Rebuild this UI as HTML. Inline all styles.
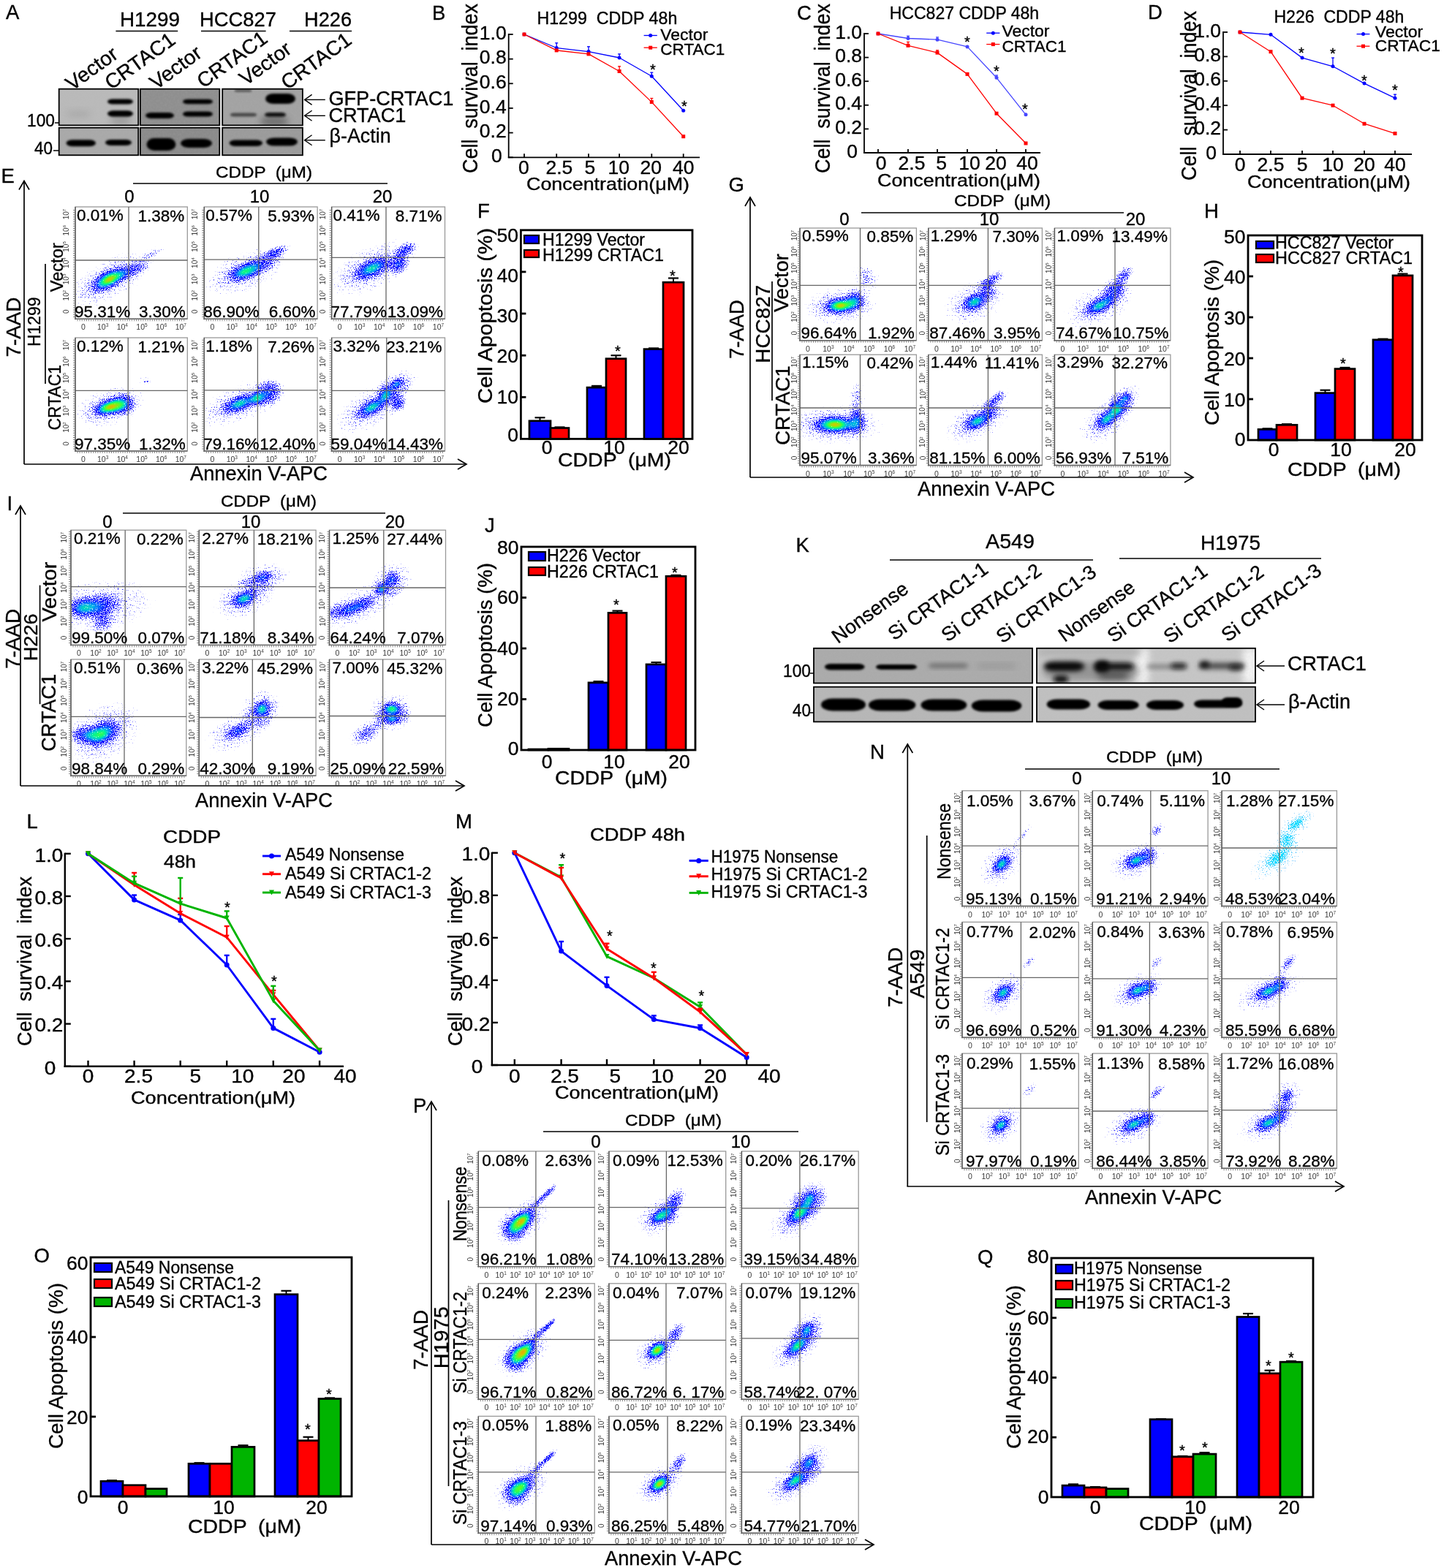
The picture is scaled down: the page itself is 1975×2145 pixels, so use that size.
<!DOCTYPE html>
<html><head><meta charset="utf-8"><title>Figure</title>
<style>html,body{margin:0;padding:0;background:#fff;}svg{display:block;}text{stroke:#000;stroke-width:.35px;}text[fill]{stroke:none;}</style></head>
<body><svg xmlns="http://www.w3.org/2000/svg" width="1975" height="2145" viewBox="0 0 1975 2145" font-family="'Liberation Sans', Arial, sans-serif">
<defs><filter id="spk" x="-60%" y="-60%" width="220%" height="220%" color-interpolation-filters="sRGB">
<feGaussianBlur in="SourceAlpha" stdDeviation="1.2" result="d"/>
<feTurbulence type="fractalNoise" baseFrequency="0.8" numOctaves="1" seed="5" result="n"/>
<feColorMatrix in="n" type="matrix" values="0 0 0 0 0 0 0 0 0 0 0 0 0 0 0 1.6 0 0 0 -0.3" result="na"/>
<feComposite in="d" in2="na" operator="arithmetic" k2="1.15" k3="-1" k4="0" result="m"/>
<feComponentTransfer in="m" result="mm"><feFuncA type="linear" slope="5" intercept="0"/></feComponentTransfer>
<feColorMatrix in="d" type="matrix" values="0 0 0 1 0 0 0 0 1 0 0 0 0 1 0 0 0 0 0 1" result="g"/>
<feComponentTransfer in="g" result="c">
<feFuncR type="table" tableValues="0.55 0.55 0.5 0.42 0.32 0.22 0.12 0.04 0 0 0 0 0 0 0 0 0 0.3 0.8 1 1"/>
<feFuncG type="table" tableValues="0.55 0.55 0.5 0.42 0.32 0.22 0.12 0.04 0 0 0 0 0 0.15 0.4 0.7 0.95 1 0.8 0.55 0.4"/>
<feFuncB type="table" tableValues="1 1 1 1 1 1 1 1 1 1 1 1 1 1 1 0.9 0.6 0.2 0 0 0"/>
</feComponentTransfer>
<feComposite in="c" in2="mm" operator="in"/>
</filter><filter id="spkL" x="-60%" y="-60%" width="220%" height="220%" color-interpolation-filters="sRGB">
<feGaussianBlur in="SourceAlpha" stdDeviation="1.2" result="d"/>
<feTurbulence type="fractalNoise" baseFrequency="0.8" numOctaves="1" seed="9" result="n"/>
<feColorMatrix in="n" type="matrix" values="0 0 0 0 0 0 0 0 0 0 0 0 0 0 0 1.6 0 0 0 -0.3" result="na"/>
<feComposite in="d" in2="na" operator="arithmetic" k2="1.15" k3="-1" k4="0" result="m"/>
<feComponentTransfer in="m" result="mm"><feFuncA type="linear" slope="5" intercept="0"/></feComponentTransfer>
<feColorMatrix in="d" type="matrix" values="0 0 0 1 0 0 0 0 1 0 0 0 0 1 0 0 0 0 0 1" result="g"/>
<feComponentTransfer in="g" result="c">
<feFuncR type="table" tableValues="0.55 0.55 0.5 0.4 0.3 0.2 0.1 0 0 0 0 0 0 0 0 0 0 0.3 0.8 1 1"/>
<feFuncG type="table" tableValues="0.75 0.75 0.74 0.72 0.7 0.7 0.72 0.74 0.76 0.78 0.8 0.82 0.84 0.86 0.88 0.9 0.95 1 0.8 0.55 0.4"/>
<feFuncB type="table" tableValues="1 1 1 1 1 1 1 1 1 1 1 1 1 1 1 0.9 0.6 0.2 0 0 0"/>
</feComponentTransfer>
<feComposite in="c" in2="mm" operator="in"/>
</filter><radialGradient id="g0"><stop offset="0" stop-color="#000" stop-opacity="0.420"/><stop offset="0.15" stop-color="#000" stop-opacity="0.399"/><stop offset="0.35" stop-color="#000" stop-opacity="0.336"/><stop offset="0.55" stop-color="#000" stop-opacity="0.244"/><stop offset="0.72" stop-color="#000" stop-opacity="0.151"/><stop offset="0.88" stop-color="#000" stop-opacity="0.071"/><stop offset="1.0" stop-color="#000" stop-opacity="0.000"/></radialGradient><radialGradient id="gh"><stop offset="0" stop-color="#000" stop-opacity="0.000"/><stop offset="0.45" stop-color="#000" stop-opacity="0.040"/><stop offset="0.62" stop-color="#000" stop-opacity="0.260"/><stop offset="0.8" stop-color="#000" stop-opacity="0.200"/><stop offset="1.0" stop-color="#000" stop-opacity="0.000"/></radialGradient><radialGradient id="g1"><stop offset="0" stop-color="#000" stop-opacity="0.550"/><stop offset="0.15" stop-color="#000" stop-opacity="0.522"/><stop offset="0.35" stop-color="#000" stop-opacity="0.440"/><stop offset="0.55" stop-color="#000" stop-opacity="0.319"/><stop offset="0.72" stop-color="#000" stop-opacity="0.198"/><stop offset="0.88" stop-color="#000" stop-opacity="0.094"/><stop offset="1.0" stop-color="#000" stop-opacity="0.000"/></radialGradient><radialGradient id="g2"><stop offset="0" stop-color="#000" stop-opacity="0.680"/><stop offset="0.15" stop-color="#000" stop-opacity="0.646"/><stop offset="0.35" stop-color="#000" stop-opacity="0.544"/><stop offset="0.55" stop-color="#000" stop-opacity="0.394"/><stop offset="0.72" stop-color="#000" stop-opacity="0.245"/><stop offset="0.88" stop-color="#000" stop-opacity="0.116"/><stop offset="1.0" stop-color="#000" stop-opacity="0.000"/></radialGradient><radialGradient id="g3"><stop offset="0" stop-color="#000" stop-opacity="0.800"/><stop offset="0.15" stop-color="#000" stop-opacity="0.760"/><stop offset="0.35" stop-color="#000" stop-opacity="0.640"/><stop offset="0.55" stop-color="#000" stop-opacity="0.464"/><stop offset="0.72" stop-color="#000" stop-opacity="0.288"/><stop offset="0.88" stop-color="#000" stop-opacity="0.136"/><stop offset="1.0" stop-color="#000" stop-opacity="0.000"/></radialGradient><radialGradient id="g4"><stop offset="0" stop-color="#000" stop-opacity="0.920"/><stop offset="0.15" stop-color="#000" stop-opacity="0.874"/><stop offset="0.35" stop-color="#000" stop-opacity="0.736"/><stop offset="0.55" stop-color="#000" stop-opacity="0.534"/><stop offset="0.72" stop-color="#000" stop-opacity="0.331"/><stop offset="0.88" stop-color="#000" stop-opacity="0.156"/><stop offset="1.0" stop-color="#000" stop-opacity="0.000"/></radialGradient><filter id="b1" x="-50%" y="-50%" width="200%" height="200%"><feGaussianBlur stdDeviation="1.2"/></filter><filter id="b2" x="-50%" y="-50%" width="200%" height="200%"><feGaussianBlur stdDeviation="2.2"/></filter><filter id="b3" x="-50%" y="-50%" width="200%" height="200%"><feGaussianBlur stdDeviation="3.5"/></filter><filter id="bb" x="-30%" y="-80%" width="160%" height="260%"><feGaussianBlur stdDeviation="1.6"/></filter><filter id="bb2" x="-30%" y="-80%" width="160%" height="260%"><feGaussianBlur stdDeviation="3"/></filter><filter id="bb3" x="-50%" y="-80%" width="200%" height="260%"><feGaussianBlur stdDeviation="5"/></filter><filter id="noise" x="0" y="0" width="100%" height="100%"><feTurbulence type="fractalNoise" baseFrequency="0.35" numOctaves="2" seed="3"/><feColorMatrix type="matrix" values="0 0 0 0 0.5  0 0 0 0 0.5  0 0 0 0 0.5  0 0 0 0.9 -0.3"/><feComposite in2="SourceGraphic" operator="in"/></filter><clipPath id="fc1"><rect x="104" y="284" width="151.3" height="151.3"/></clipPath><clipPath id="fc2"><rect x="280.3" y="284" width="152.8" height="151.3"/></clipPath><clipPath id="fc3"><rect x="454.6" y="284" width="152.9" height="151.3"/></clipPath><clipPath id="fc4"><rect x="104" y="463" width="151.3" height="153"/></clipPath><clipPath id="fc5"><rect x="280.3" y="463" width="152.8" height="153"/></clipPath><clipPath id="fc6"><rect x="454.6" y="463" width="152.9" height="153"/></clipPath><clipPath id="fc7"><rect x="1095" y="313" width="157.4" height="151.7"/></clipPath><clipPath id="fc8"><rect x="1270.8" y="313" width="153.6" height="151.7"/></clipPath><clipPath id="fc9"><rect x="1443.4" y="313" width="156.5" height="151.7"/></clipPath><clipPath id="fc10"><rect x="1095" y="486.2" width="157.4" height="149.3"/></clipPath><clipPath id="fc11"><rect x="1270.8" y="486.2" width="153.6" height="149.3"/></clipPath><clipPath id="fc12"><rect x="1443.4" y="486.2" width="156.5" height="149.3"/></clipPath><clipPath id="fc13"><rect x="98" y="726.2" width="155.8" height="155.2"/></clipPath><clipPath id="fc14"><rect x="273.3" y="726.2" width="157.8" height="155.2"/></clipPath><clipPath id="fc15"><rect x="451.5" y="726.2" width="157" height="155.2"/></clipPath><clipPath id="fc16"><rect x="98" y="903" width="155.8" height="157.3"/></clipPath><clipPath id="fc17"><rect x="273.3" y="903" width="157.8" height="157.3"/></clipPath><clipPath id="fc18"><rect x="451.5" y="903" width="157" height="157.3"/></clipPath><clipPath id="fc19"><rect x="1317" y="1082.7" width="157.3" height="155.8"/></clipPath><clipPath id="fc20"><rect x="1495.3" y="1082.7" width="155.8" height="155.8"/></clipPath><clipPath id="fc21"><rect x="1672.1" y="1082.7" width="155.3" height="155.8"/></clipPath><clipPath id="fc22"><rect x="1317" y="1262.4" width="157.3" height="155.8"/></clipPath><clipPath id="fc23"><rect x="1495.3" y="1262.4" width="155.8" height="155.8"/></clipPath><clipPath id="fc24"><rect x="1672.1" y="1262.4" width="155.3" height="155.8"/></clipPath><clipPath id="fc25"><rect x="1317" y="1442.1" width="157.3" height="155.2"/></clipPath><clipPath id="fc26"><rect x="1495.3" y="1442.1" width="155.8" height="155.2"/></clipPath><clipPath id="fc27"><rect x="1672.1" y="1442.1" width="155.3" height="155.2"/></clipPath><clipPath id="fc28"><rect x="655.3" y="1575.9" width="156.9" height="155.7"/></clipPath><clipPath id="fc29"><rect x="833.9" y="1575.9" width="157.8" height="155.7"/></clipPath><clipPath id="fc30"><rect x="1015.4" y="1575.9" width="157.8" height="155.7"/></clipPath><clipPath id="fc31"><rect x="655.3" y="1756.8" width="156.9" height="156.4"/></clipPath><clipPath id="fc32"><rect x="833.9" y="1756.8" width="157.8" height="156.4"/></clipPath><clipPath id="fc33"><rect x="1015.4" y="1756.8" width="157.8" height="156.4"/></clipPath><clipPath id="fc34"><rect x="655.3" y="1938.4" width="156.9" height="157.8"/></clipPath><clipPath id="fc35"><rect x="833.9" y="1938.4" width="157.8" height="157.8"/></clipPath><clipPath id="fc36"><rect x="1015.4" y="1938.4" width="157.8" height="157.8"/></clipPath><clipPath id="cA1"><rect x="80.7" y="121.7" width="108.5" height="49.7"/></clipPath><clipPath id="cA2"><rect x="191.8" y="121.7" width="108.5" height="49.7"/></clipPath><clipPath id="cA3"><rect x="304.2" y="121.7" width="109.7" height="49.7"/></clipPath><clipPath id="cA4"><rect x="80.7" y="174.7" width="108.5" height="37.6"/></clipPath><clipPath id="cA5"><rect x="191.8" y="174.7" width="108.5" height="37.6"/></clipPath><clipPath id="cA6"><rect x="304.2" y="174.7" width="109.7" height="37.6"/></clipPath><clipPath id="cK1"><rect x="1113" y="886.8" width="299" height="47.7"/></clipPath><clipPath id="cK2"><rect x="1418" y="886.8" width="299" height="47.7"/></clipPath><clipPath id="cK3"><rect x="1113" y="939.7" width="299" height="47.7"/></clipPath><clipPath id="cK4"><rect x="1418" y="939.7" width="299" height="47.7"/></clipPath></defs>
<rect width="1975" height="2145" fill="#fff"/>
<text x="8" y="26.2" font-size="27.5">A</text>
<text x="591" y="27" font-size="27.5">B</text>
<text x="1090" y="27" font-size="27.5">C</text>
<text x="1570" y="25.5" font-size="27.5">D</text>
<text x="1.5" y="250.4" font-size="27.5">E</text>
<text x="653" y="298.3" font-size="27.5">F</text>
<text x="996.5" y="261.7" font-size="27.5">G</text>
<text x="1647" y="297.5" font-size="27.5">H</text>
<text x="9.5" y="697.5" font-size="27.5">I</text>
<text x="663" y="728" font-size="27.5">J</text>
<text x="1088.5" y="754.9" font-size="27.5">K</text>
<text x="36.5" y="1132.5" font-size="27.5">L</text>
<text x="623" y="1133" font-size="27.5">M</text>
<text x="1190" y="1038" font-size="27.5">N</text>
<text x="46.5" y="1727" font-size="27.5">O</text>
<text x="565" y="1522" font-size="27.5">P</text>
<text x="1337" y="1728.5" font-size="27.5">Q</text>
<line x1="695.7" y1="46" x2="695.7" y2="216.2" stroke="#000" stroke-width="1.8"/>
<line x1="694.8" y1="215.3" x2="957" y2="215.3" stroke="#000" stroke-width="1.8"/>
<line x1="695.7" y1="215.3" x2="701.7" y2="215.3" stroke="#000" stroke-width="1.8"/>
<text x="686.7" y="221.9" font-size="26.5" text-anchor="end">0</text>
<line x1="695.7" y1="181.6" x2="701.7" y2="181.6" stroke="#000" stroke-width="1.8"/>
<text x="692.7" y="188.2" font-size="26.5" text-anchor="end">0.2</text>
<line x1="695.7" y1="148" x2="701.7" y2="148" stroke="#000" stroke-width="1.8"/>
<text x="692.7" y="154.6" font-size="26.5" text-anchor="end">0.4</text>
<line x1="695.7" y1="114.3" x2="701.7" y2="114.3" stroke="#000" stroke-width="1.8"/>
<text x="692.7" y="120.9" font-size="26.5" text-anchor="end">0.6</text>
<line x1="695.7" y1="80.7" x2="701.7" y2="80.7" stroke="#000" stroke-width="1.8"/>
<text x="692.7" y="87.3" font-size="26.5" text-anchor="end">0.8</text>
<line x1="695.7" y1="47" x2="701.7" y2="47" stroke="#000" stroke-width="1.8"/>
<text x="692.7" y="53.6" font-size="26.5" text-anchor="end">1.0</text>
<line x1="717" y1="215.3" x2="717" y2="210.3" stroke="#000" stroke-width="1.8"/>
<line x1="761.2" y1="215.3" x2="761.2" y2="210.3" stroke="#000" stroke-width="1.8"/>
<line x1="805" y1="215.3" x2="805" y2="210.3" stroke="#000" stroke-width="1.8"/>
<line x1="847.1" y1="215.3" x2="847.1" y2="210.3" stroke="#000" stroke-width="1.8"/>
<line x1="891.3" y1="215.3" x2="891.3" y2="210.3" stroke="#000" stroke-width="1.8"/>
<line x1="934.7" y1="215.3" x2="934.7" y2="210.3" stroke="#000" stroke-width="1.8"/>
<text x="716.3" y="237.7" font-size="26.5" text-anchor="middle">0</text>
<text x="764.9" y="237.7" font-size="26.5" text-anchor="middle">2.5</text>
<text x="806.9" y="237.7" font-size="26.5" text-anchor="middle">5</text>
<text x="846.3" y="237.7" font-size="26.5" text-anchor="middle">10</text>
<text x="890.2" y="237.7" font-size="26.5" text-anchor="middle">20</text>
<text x="934.8" y="237.7" font-size="26.5" text-anchor="middle">40</text>
<text x="720" y="260" font-size="24" textLength="223" lengthAdjust="spacingAndGlyphs">Concentration(μM)</text>
<text x="653" y="121" font-size="29" text-anchor="middle" transform="rotate(-90 653 121)" textLength="232" lengthAdjust="spacingAndGlyphs" xml:space="preserve" style="white-space:pre">Cell  survival  index</text>
<polyline points="717,47 761.2,65.5 805,70.6 847.1,79 891.3,104.2 934.7,151.3" fill="none" stroke="#0000ff" stroke-width="1.3" stroke-linejoin="round"/>
<circle cx="717" cy="47" r="2.5" fill="#0000ff"/>
<line x1="761.2" y1="65.5" x2="761.2" y2="58.8" stroke="#0000ff" stroke-width="1.3"/>
<line x1="759.2" y1="58.8" x2="763.2" y2="58.8" stroke="#0000ff" stroke-width="1.3"/>
<circle cx="761.2" cy="65.5" r="2.5" fill="#0000ff"/>
<line x1="805" y1="70.6" x2="805" y2="63.8" stroke="#0000ff" stroke-width="1.3"/>
<line x1="803" y1="63.8" x2="807" y2="63.8" stroke="#0000ff" stroke-width="1.3"/>
<circle cx="805" cy="70.6" r="2.5" fill="#0000ff"/>
<line x1="847.1" y1="79" x2="847.1" y2="73.9" stroke="#0000ff" stroke-width="1.3"/>
<line x1="845.1" y1="73.9" x2="849.1" y2="73.9" stroke="#0000ff" stroke-width="1.3"/>
<circle cx="847.1" cy="79" r="2.5" fill="#0000ff"/>
<line x1="891.3" y1="104.2" x2="891.3" y2="99.2" stroke="#0000ff" stroke-width="1.3"/>
<line x1="889.3" y1="99.2" x2="893.3" y2="99.2" stroke="#0000ff" stroke-width="1.3"/>
<circle cx="891.3" cy="104.2" r="2.5" fill="#0000ff"/>
<circle cx="934.7" cy="151.3" r="2.5" fill="#0000ff"/>
<polyline points="717,47 761.2,68.9 805,73.9 847.1,97.5 891.3,139.6 934.7,186.7" fill="none" stroke="#ff0000" stroke-width="1.3" stroke-linejoin="round"/>
<rect x="714.5" y="44.5" width="5" height="5" fill="#ff0000"/>
<rect x="758.7" y="66.4" width="5" height="5" fill="#ff0000"/>
<rect x="802.5" y="71.4" width="5" height="5" fill="#ff0000"/>
<line x1="847.1" y1="97.5" x2="847.1" y2="90.8" stroke="#ff0000" stroke-width="1.3"/>
<line x1="845.1" y1="90.8" x2="849.1" y2="90.8" stroke="#ff0000" stroke-width="1.3"/>
<rect x="844.6" y="95" width="5" height="5" fill="#ff0000"/>
<line x1="891.3" y1="139.6" x2="891.3" y2="134.5" stroke="#ff0000" stroke-width="1.3"/>
<line x1="889.3" y1="134.5" x2="893.3" y2="134.5" stroke="#ff0000" stroke-width="1.3"/>
<rect x="888.8" y="137.1" width="5" height="5" fill="#ff0000"/>
<rect x="932.2" y="184.2" width="5" height="5" fill="#ff0000"/>
<text x="893" y="101.5" font-size="20" text-anchor="middle">*</text>
<text x="936" y="151.5" font-size="20" text-anchor="middle">*</text>
<line x1="880.6" y1="48.5" x2="898.8" y2="48.5" stroke="#0000ff" stroke-width="1.3"/>
<circle cx="889.7" cy="48.5" r="2.5" fill="#0000ff"/>
<text x="903.3" y="54.5" font-size="22" textLength="65" lengthAdjust="spacingAndGlyphs">Vector</text>
<line x1="880.6" y1="65.2" x2="898.8" y2="65.2" stroke="#ff0000" stroke-width="1.3"/>
<rect x="887.2" y="62.7" width="5" height="5" fill="#ff0000"/>
<text x="903.3" y="75" font-size="22" textLength="88" lengthAdjust="spacingAndGlyphs">CRTAC1</text>
<text x="734.4" y="33" font-size="24" textLength="192" lengthAdjust="spacingAndGlyphs" xml:space="preserve" style="white-space:pre">H1299  CDDP 48h</text>
<line x1="1182" y1="45" x2="1182" y2="209.9" stroke="#000" stroke-width="1.8"/>
<line x1="1181.1" y1="209" x2="1423" y2="209" stroke="#000" stroke-width="1.8"/>
<line x1="1182" y1="209" x2="1188" y2="209" stroke="#000" stroke-width="1.8"/>
<text x="1173" y="215.6" font-size="26.5" text-anchor="end">0</text>
<line x1="1182" y1="176.4" x2="1188" y2="176.4" stroke="#000" stroke-width="1.8"/>
<text x="1179" y="183" font-size="26.5" text-anchor="end">0.2</text>
<line x1="1182" y1="143.8" x2="1188" y2="143.8" stroke="#000" stroke-width="1.8"/>
<text x="1179" y="150.4" font-size="26.5" text-anchor="end">0.4</text>
<line x1="1182" y1="111.2" x2="1188" y2="111.2" stroke="#000" stroke-width="1.8"/>
<text x="1179" y="117.8" font-size="26.5" text-anchor="end">0.6</text>
<line x1="1182" y1="78.6" x2="1188" y2="78.6" stroke="#000" stroke-width="1.8"/>
<text x="1179" y="85.2" font-size="26.5" text-anchor="end">0.8</text>
<line x1="1182" y1="46" x2="1188" y2="46" stroke="#000" stroke-width="1.8"/>
<text x="1179" y="52.6" font-size="26.5" text-anchor="end">1.0</text>
<line x1="1201" y1="209" x2="1201" y2="204" stroke="#000" stroke-width="1.8"/>
<line x1="1242" y1="209" x2="1242" y2="204" stroke="#000" stroke-width="1.8"/>
<line x1="1282" y1="209" x2="1282" y2="204" stroke="#000" stroke-width="1.8"/>
<line x1="1323" y1="209" x2="1323" y2="204" stroke="#000" stroke-width="1.8"/>
<line x1="1363" y1="209" x2="1363" y2="204" stroke="#000" stroke-width="1.8"/>
<line x1="1403" y1="209" x2="1403" y2="204" stroke="#000" stroke-width="1.8"/>
<text x="1205" y="232" font-size="26.5" text-anchor="middle">0</text>
<text x="1247" y="232" font-size="26.5" text-anchor="middle">2.5</text>
<text x="1287.5" y="232" font-size="26.5" text-anchor="middle">5</text>
<text x="1326" y="232" font-size="26.5" text-anchor="middle">10</text>
<text x="1362" y="232" font-size="26.5" text-anchor="middle">20</text>
<text x="1405" y="232" font-size="26.5" text-anchor="middle">40</text>
<text x="1200" y="255" font-size="24" textLength="223" lengthAdjust="spacingAndGlyphs">Concentration(μM)</text>
<text x="1135" y="121" font-size="29" text-anchor="middle" transform="rotate(-90 1135 121)" textLength="232" lengthAdjust="spacingAndGlyphs" xml:space="preserve" style="white-space:pre">Cell  survival  index</text>
<polyline points="1201,46 1242,52.5 1282,54.2 1323,63.9 1363,106.3 1403,156.8" fill="none" stroke="#4646ff" stroke-width="1.3" stroke-linejoin="round"/>
<circle cx="1201" cy="46" r="2.5" fill="#4646ff"/>
<line x1="1242" y1="52.5" x2="1242" y2="49.3" stroke="#4646ff" stroke-width="1.3"/>
<line x1="1240" y1="49.3" x2="1244" y2="49.3" stroke="#4646ff" stroke-width="1.3"/>
<circle cx="1242" cy="52.5" r="2.5" fill="#4646ff"/>
<line x1="1282" y1="54.2" x2="1282" y2="50.9" stroke="#4646ff" stroke-width="1.3"/>
<line x1="1280" y1="50.9" x2="1284" y2="50.9" stroke="#4646ff" stroke-width="1.3"/>
<circle cx="1282" cy="54.2" r="2.5" fill="#4646ff"/>
<circle cx="1323" cy="63.9" r="2.5" fill="#4646ff"/>
<line x1="1363" y1="106.3" x2="1363" y2="103" stroke="#4646ff" stroke-width="1.3"/>
<line x1="1361" y1="103" x2="1365" y2="103" stroke="#4646ff" stroke-width="1.3"/>
<circle cx="1363" cy="106.3" r="2.5" fill="#4646ff"/>
<circle cx="1403" cy="156.8" r="2.5" fill="#4646ff"/>
<polyline points="1201,46 1242,62.3 1282,72.1 1323,101.4 1363,155.2 1403,196" fill="none" stroke="#ff0000" stroke-width="1.3" stroke-linejoin="round"/>
<rect x="1198.5" y="43.5" width="5" height="5" fill="#ff0000"/>
<line x1="1242" y1="62.3" x2="1242" y2="57.4" stroke="#ff0000" stroke-width="1.3"/>
<line x1="1240" y1="57.4" x2="1244" y2="57.4" stroke="#ff0000" stroke-width="1.3"/>
<rect x="1239.5" y="59.8" width="5" height="5" fill="#ff0000"/>
<line x1="1282" y1="72.1" x2="1282" y2="68.8" stroke="#ff0000" stroke-width="1.3"/>
<line x1="1280" y1="68.8" x2="1284" y2="68.8" stroke="#ff0000" stroke-width="1.3"/>
<rect x="1279.5" y="69.6" width="5" height="5" fill="#ff0000"/>
<rect x="1320.5" y="98.9" width="5" height="5" fill="#ff0000"/>
<rect x="1360.5" y="152.7" width="5" height="5" fill="#ff0000"/>
<rect x="1400.5" y="193.5" width="5" height="5" fill="#ff0000"/>
<text x="1323" y="63.5" font-size="20" text-anchor="middle">*</text>
<text x="1363" y="103.5" font-size="20" text-anchor="middle">*</text>
<text x="1402" y="155.5" font-size="20" text-anchor="middle">*</text>
<line x1="1349.2" y1="45.2" x2="1367.4" y2="45.2" stroke="#0000ff" stroke-width="1.3"/>
<circle cx="1358.3" cy="45.2" r="2.5" fill="#0000ff"/>
<text x="1370.5" y="50" font-size="22" textLength="65" lengthAdjust="spacingAndGlyphs">Vector</text>
<line x1="1349.2" y1="60.6" x2="1367.4" y2="60.6" stroke="#ff0000" stroke-width="1.3"/>
<rect x="1355.8" y="58.1" width="5" height="5" fill="#ff0000"/>
<text x="1370.5" y="70.5" font-size="22" textLength="88" lengthAdjust="spacingAndGlyphs">CRTAC1</text>
<text x="1216.7" y="26.1" font-size="24" textLength="204.5" lengthAdjust="spacingAndGlyphs">HCC827 CDDP 48h</text>
<line x1="1673" y1="43" x2="1673" y2="211.9" stroke="#000" stroke-width="1.8"/>
<line x1="1672.1" y1="211" x2="1931" y2="211" stroke="#000" stroke-width="1.8"/>
<line x1="1673" y1="211" x2="1679" y2="211" stroke="#000" stroke-width="1.8"/>
<text x="1664" y="217.6" font-size="26.5" text-anchor="end">0</text>
<line x1="1673" y1="177.6" x2="1679" y2="177.6" stroke="#000" stroke-width="1.8"/>
<text x="1670" y="184.2" font-size="26.5" text-anchor="end">0.2</text>
<line x1="1673" y1="144.2" x2="1679" y2="144.2" stroke="#000" stroke-width="1.8"/>
<text x="1670" y="150.8" font-size="26.5" text-anchor="end">0.4</text>
<line x1="1673" y1="110.8" x2="1679" y2="110.8" stroke="#000" stroke-width="1.8"/>
<text x="1670" y="117.4" font-size="26.5" text-anchor="end">0.6</text>
<line x1="1673" y1="77.4" x2="1679" y2="77.4" stroke="#000" stroke-width="1.8"/>
<text x="1670" y="84" font-size="26.5" text-anchor="end">0.8</text>
<line x1="1673" y1="44" x2="1679" y2="44" stroke="#000" stroke-width="1.8"/>
<text x="1670" y="50.6" font-size="26.5" text-anchor="end">1.0</text>
<line x1="1696" y1="211" x2="1696" y2="206" stroke="#000" stroke-width="1.8"/>
<line x1="1738" y1="211" x2="1738" y2="206" stroke="#000" stroke-width="1.8"/>
<line x1="1781" y1="211" x2="1781" y2="206" stroke="#000" stroke-width="1.8"/>
<line x1="1823" y1="211" x2="1823" y2="206" stroke="#000" stroke-width="1.8"/>
<line x1="1866" y1="211" x2="1866" y2="206" stroke="#000" stroke-width="1.8"/>
<line x1="1908" y1="211" x2="1908" y2="206" stroke="#000" stroke-width="1.8"/>
<text x="1696" y="234" font-size="26.5" text-anchor="middle">0</text>
<text x="1738" y="234" font-size="26.5" text-anchor="middle">2.5</text>
<text x="1781" y="234" font-size="26.5" text-anchor="middle">5</text>
<text x="1823" y="234" font-size="26.5" text-anchor="middle">10</text>
<text x="1866" y="234" font-size="26.5" text-anchor="middle">20</text>
<text x="1908" y="234" font-size="26.5" text-anchor="middle">40</text>
<text x="1706" y="257" font-size="24" textLength="223" lengthAdjust="spacingAndGlyphs">Concentration(μM)</text>
<text x="1636" y="131" font-size="29" text-anchor="middle" transform="rotate(-90 1636 131)" textLength="232" lengthAdjust="spacingAndGlyphs" xml:space="preserve" style="white-space:pre">Cell  survival  index</text>
<polyline points="1696,44 1738,47.3 1781,79.1 1823,90.8 1866,114.1 1908,134.2" fill="none" stroke="#0000ff" stroke-width="1.3" stroke-linejoin="round"/>
<circle cx="1696" cy="44" r="2.5" fill="#0000ff"/>
<circle cx="1738" cy="47.3" r="2.5" fill="#0000ff"/>
<circle cx="1781" cy="79.1" r="2.5" fill="#0000ff"/>
<line x1="1823" y1="90.8" x2="1823" y2="79.1" stroke="#0000ff" stroke-width="1.3"/>
<line x1="1821" y1="79.1" x2="1825" y2="79.1" stroke="#0000ff" stroke-width="1.3"/>
<circle cx="1823" cy="90.8" r="2.5" fill="#0000ff"/>
<circle cx="1866" cy="114.1" r="2.5" fill="#0000ff"/>
<line x1="1908" y1="134.2" x2="1908" y2="129.2" stroke="#0000ff" stroke-width="1.3"/>
<line x1="1906" y1="129.2" x2="1910" y2="129.2" stroke="#0000ff" stroke-width="1.3"/>
<circle cx="1908" cy="134.2" r="2.5" fill="#0000ff"/>
<polyline points="1696,44 1738,70.7 1781,134.2 1823,144.2 1866,169.2 1908,182.6" fill="none" stroke="#ff0000" stroke-width="1.3" stroke-linejoin="round"/>
<rect x="1693.5" y="41.5" width="5" height="5" fill="#ff0000"/>
<rect x="1735.5" y="68.2" width="5" height="5" fill="#ff0000"/>
<rect x="1778.5" y="131.7" width="5" height="5" fill="#ff0000"/>
<rect x="1820.5" y="141.7" width="5" height="5" fill="#ff0000"/>
<rect x="1863.5" y="166.8" width="5" height="5" fill="#ff0000"/>
<rect x="1905.5" y="180.1" width="5" height="5" fill="#ff0000"/>
<text x="1780" y="78.5" font-size="20" text-anchor="middle">*</text>
<text x="1823" y="79.5" font-size="20" text-anchor="middle">*</text>
<text x="1866" y="116.5" font-size="20" text-anchor="middle">*</text>
<text x="1908" y="129.5" font-size="20" text-anchor="middle">*</text>
<line x1="1855.5" y1="46.6" x2="1873.4" y2="46.6" stroke="#0000ff" stroke-width="1.3"/>
<circle cx="1864.5" cy="46.6" r="2.5" fill="#0000ff"/>
<text x="1880.8" y="50.6" font-size="22" textLength="65.5" lengthAdjust="spacingAndGlyphs">Vector</text>
<line x1="1855.5" y1="63.2" x2="1873.4" y2="63.2" stroke="#ff0000" stroke-width="1.3"/>
<rect x="1862" y="60.7" width="5" height="5" fill="#ff0000"/>
<text x="1880.8" y="70" font-size="22" textLength="89" lengthAdjust="spacingAndGlyphs">CRTAC1</text>
<text x="1742.4" y="30.5" font-size="24" textLength="178" lengthAdjust="spacingAndGlyphs" xml:space="preserve" style="white-space:pre">H226  CDDP 48h</text>
<line x1="88.8" y1="1166.8" x2="88.8" y2="1460" stroke="#000" stroke-width="2.4"/>
<line x1="87.6" y1="1458.8" x2="470" y2="1458.8" stroke="#000" stroke-width="2.4"/>
<line x1="88.8" y1="1458.8" x2="96.8" y2="1458.8" stroke="#000" stroke-width="2.4"/>
<text font-size="25" transform="translate(76.3 1469.5) scale(1.120 1)" text-anchor="end">0</text>
<line x1="88.8" y1="1400.6" x2="96.8" y2="1400.6" stroke="#000" stroke-width="2.4"/>
<text font-size="25" transform="translate(86.3 1411.3) scale(1.120 1)" text-anchor="end">0.2</text>
<line x1="88.8" y1="1342.4" x2="96.8" y2="1342.4" stroke="#000" stroke-width="2.4"/>
<text font-size="25" transform="translate(86.3 1353.1) scale(1.120 1)" text-anchor="end">0.4</text>
<line x1="88.8" y1="1284.2" x2="96.8" y2="1284.2" stroke="#000" stroke-width="2.4"/>
<text font-size="25" transform="translate(86.3 1294.9) scale(1.120 1)" text-anchor="end">0.6</text>
<line x1="88.8" y1="1226" x2="96.8" y2="1226" stroke="#000" stroke-width="2.4"/>
<text font-size="25" transform="translate(86.3 1236.7) scale(1.120 1)" text-anchor="end">0.8</text>
<line x1="88.8" y1="1167.8" x2="96.8" y2="1167.8" stroke="#000" stroke-width="2.4"/>
<text font-size="25" transform="translate(86.3 1178.5) scale(1.120 1)" text-anchor="end">1.0</text>
<line x1="120.5" y1="1458.8" x2="120.5" y2="1450.8" stroke="#000" stroke-width="2.4"/>
<line x1="183.6" y1="1458.8" x2="183.6" y2="1450.8" stroke="#000" stroke-width="2.4"/>
<line x1="246.7" y1="1458.8" x2="246.7" y2="1450.8" stroke="#000" stroke-width="2.4"/>
<line x1="310.2" y1="1458.8" x2="310.2" y2="1450.8" stroke="#000" stroke-width="2.4"/>
<line x1="373.8" y1="1458.8" x2="373.8" y2="1450.8" stroke="#000" stroke-width="2.4"/>
<line x1="437.1" y1="1458.8" x2="437.1" y2="1450.8" stroke="#000" stroke-width="2.4"/>
<text font-size="25" transform="translate(120.5 1481) scale(1.120 1)" text-anchor="middle">0</text>
<text font-size="25" transform="translate(189.5 1481) scale(1.120 1)" text-anchor="middle">2.5</text>
<text font-size="25" transform="translate(267.4 1481) scale(1.120 1)" text-anchor="middle">5</text>
<text font-size="25" transform="translate(331.7 1481) scale(1.120 1)" text-anchor="middle">10</text>
<text font-size="25" transform="translate(401.9 1481) scale(1.120 1)" text-anchor="middle">20</text>
<text font-size="25" transform="translate(472 1481) scale(1.120 1)" text-anchor="middle">40</text>
<text x="179" y="1510" font-size="24" textLength="225" lengthAdjust="spacingAndGlyphs">Concentration(μM)</text>
<text x="43" y="1315" font-size="27" text-anchor="middle" transform="rotate(-90 43 1315)" textLength="232" lengthAdjust="spacingAndGlyphs" xml:space="preserve" style="white-space:pre">Cell  survival  index</text>
<polyline points="120.5,1167.8 183.6,1230.9 246.7,1258.9 310.2,1320 373.8,1406.4 437.1,1439.3" fill="none" stroke="#0000ff" stroke-width="2.9" stroke-linejoin="round"/>
<circle cx="120.5" cy="1167.8" r="3.5" fill="#0000ff"/>
<line x1="183.6" y1="1230.9" x2="183.6" y2="1224.5" stroke="#0000ff" stroke-width="2.4"/>
<line x1="180.1" y1="1224.5" x2="187.1" y2="1224.5" stroke="#0000ff" stroke-width="2.4"/>
<circle cx="183.6" cy="1230.9" r="3.5" fill="#0000ff"/>
<line x1="246.7" y1="1258.9" x2="246.7" y2="1251" stroke="#0000ff" stroke-width="2.4"/>
<line x1="243.2" y1="1251" x2="250.2" y2="1251" stroke="#0000ff" stroke-width="2.4"/>
<circle cx="246.7" cy="1258.9" r="3.5" fill="#0000ff"/>
<line x1="310.2" y1="1320" x2="310.2" y2="1306.9" stroke="#0000ff" stroke-width="2.4"/>
<line x1="306.7" y1="1306.9" x2="313.7" y2="1306.9" stroke="#0000ff" stroke-width="2.4"/>
<circle cx="310.2" cy="1320" r="3.5" fill="#0000ff"/>
<line x1="373.8" y1="1406.4" x2="373.8" y2="1393.9" stroke="#0000ff" stroke-width="2.4"/>
<line x1="370.3" y1="1393.9" x2="377.3" y2="1393.9" stroke="#0000ff" stroke-width="2.4"/>
<circle cx="373.8" cy="1406.4" r="3.5" fill="#0000ff"/>
<circle cx="437.1" cy="1439.3" r="3.5" fill="#0000ff"/>
<polyline points="120.5,1167.8 183.6,1210.6 246.7,1249.6 310.2,1282.2 373.8,1360.7 437.1,1437" fill="none" stroke="#ff0000" stroke-width="2.9" stroke-linejoin="round"/>
<path d="M117 1164.3L124 1164.3L120.5 1171.3Z" stroke="none" stroke-width="0" fill="#ff0000"/>
<line x1="183.6" y1="1210.6" x2="183.6" y2="1194" stroke="#ff0000" stroke-width="2.4"/>
<line x1="180.1" y1="1194" x2="187.1" y2="1194" stroke="#ff0000" stroke-width="2.4"/>
<path d="M180.1 1207.1L187.1 1207.1L183.6 1214.1Z" stroke="none" stroke-width="0" fill="#ff0000"/>
<line x1="246.7" y1="1249.6" x2="246.7" y2="1228.9" stroke="#ff0000" stroke-width="2.4"/>
<line x1="243.2" y1="1228.9" x2="250.2" y2="1228.9" stroke="#ff0000" stroke-width="2.4"/>
<path d="M243.2 1246.1L250.2 1246.1L246.7 1253.1Z" stroke="none" stroke-width="0" fill="#ff0000"/>
<line x1="310.2" y1="1282.2" x2="310.2" y2="1267" stroke="#ff0000" stroke-width="2.4"/>
<line x1="306.7" y1="1267" x2="313.7" y2="1267" stroke="#ff0000" stroke-width="2.4"/>
<path d="M306.7 1278.7L313.7 1278.7L310.2 1285.7Z" stroke="none" stroke-width="0" fill="#ff0000"/>
<line x1="373.8" y1="1360.7" x2="373.8" y2="1354.9" stroke="#ff0000" stroke-width="2.4"/>
<line x1="370.3" y1="1354.9" x2="377.3" y2="1354.9" stroke="#ff0000" stroke-width="2.4"/>
<path d="M370.3 1357.2L377.3 1357.2L373.8 1364.2Z" stroke="none" stroke-width="0" fill="#ff0000"/>
<path d="M433.6 1433.5L440.6 1433.5L437.1 1440.5Z" stroke="none" stroke-width="0" fill="#ff0000"/>
<polyline points="120.5,1167.8 183.6,1208.2 246.7,1236.2 310.2,1256 373.8,1368.9 437.1,1437" fill="none" stroke="#00b400" stroke-width="2.9" stroke-linejoin="round"/>
<path d="M117 1164.3L124 1164.3L120.5 1171.3Z" stroke="none" stroke-width="0" fill="#00b400"/>
<line x1="183.6" y1="1208.2" x2="183.6" y2="1198.9" stroke="#00b400" stroke-width="2.4"/>
<line x1="180.1" y1="1198.9" x2="187.1" y2="1198.9" stroke="#00b400" stroke-width="2.4"/>
<path d="M180.1 1204.7L187.1 1204.7L183.6 1211.7Z" stroke="none" stroke-width="0" fill="#00b400"/>
<line x1="246.7" y1="1236.2" x2="246.7" y2="1201" stroke="#00b400" stroke-width="2.4"/>
<line x1="243.2" y1="1201" x2="250.2" y2="1201" stroke="#00b400" stroke-width="2.4"/>
<path d="M243.2 1232.7L250.2 1232.7L246.7 1239.7Z" stroke="none" stroke-width="0" fill="#00b400"/>
<line x1="310.2" y1="1256" x2="310.2" y2="1246.4" stroke="#00b400" stroke-width="2.4"/>
<line x1="306.7" y1="1246.4" x2="313.7" y2="1246.4" stroke="#00b400" stroke-width="2.4"/>
<path d="M306.7 1252.5L313.7 1252.5L310.2 1259.5Z" stroke="none" stroke-width="0" fill="#00b400"/>
<line x1="373.8" y1="1368.9" x2="373.8" y2="1348.8" stroke="#00b400" stroke-width="2.4"/>
<line x1="370.3" y1="1348.8" x2="377.3" y2="1348.8" stroke="#00b400" stroke-width="2.4"/>
<path d="M370.3 1365.4L377.3 1365.4L373.8 1372.4Z" stroke="none" stroke-width="0" fill="#00b400"/>
<path d="M433.6 1433.5L440.6 1433.5L437.1 1440.5Z" stroke="none" stroke-width="0" fill="#00b400"/>
<text x="311" y="1247.5" font-size="20" text-anchor="middle">*</text>
<text x="375" y="1348.5" font-size="20" text-anchor="middle">*</text>
<line x1="359" y1="1171" x2="384" y2="1171" stroke="#0000ff" stroke-width="2.9"/>
<circle cx="371.5" cy="1171" r="3.5" fill="#0000ff"/>
<text x="390" y="1177" font-size="23" textLength="163" lengthAdjust="spacingAndGlyphs">A549 Nonsense</text>
<line x1="359" y1="1195.7" x2="384" y2="1195.7" stroke="#ff0000" stroke-width="2.9"/>
<path d="M368 1192.2L375 1192.2L371.5 1199.2Z" stroke="none" stroke-width="0" fill="#ff0000"/>
<text x="390" y="1203" font-size="23" textLength="200" lengthAdjust="spacingAndGlyphs">A549 Si CRTAC1-2</text>
<line x1="359" y1="1221" x2="384" y2="1221" stroke="#00b400" stroke-width="2.9"/>
<path d="M368 1217.5L375 1217.5L371.5 1224.5Z" stroke="none" stroke-width="0" fill="#00b400"/>
<text x="390" y="1229" font-size="23" textLength="200" lengthAdjust="spacingAndGlyphs">A549 Si CRTAC1-3</text>
<text x="223" y="1153" font-size="24" textLength="79" lengthAdjust="spacingAndGlyphs">CDDP</text>
<text x="224" y="1187" font-size="24" textLength="44" lengthAdjust="spacingAndGlyphs">48h</text>
<line x1="672.9" y1="1165.7" x2="672.9" y2="1458.2" stroke="#000" stroke-width="2.4"/>
<line x1="671.7" y1="1457" x2="1053" y2="1457" stroke="#000" stroke-width="2.4"/>
<line x1="672.9" y1="1457" x2="680.9" y2="1457" stroke="#000" stroke-width="2.4"/>
<text font-size="25" transform="translate(660.4 1467.7) scale(1.120 1)" text-anchor="end">0</text>
<line x1="672.9" y1="1398.9" x2="680.9" y2="1398.9" stroke="#000" stroke-width="2.4"/>
<text font-size="25" transform="translate(670.4 1409.6) scale(1.120 1)" text-anchor="end">0.2</text>
<line x1="672.9" y1="1340.9" x2="680.9" y2="1340.9" stroke="#000" stroke-width="2.4"/>
<text font-size="25" transform="translate(670.4 1351.6) scale(1.120 1)" text-anchor="end">0.4</text>
<line x1="672.9" y1="1282.8" x2="680.9" y2="1282.8" stroke="#000" stroke-width="2.4"/>
<text font-size="25" transform="translate(670.4 1293.5) scale(1.120 1)" text-anchor="end">0.6</text>
<line x1="672.9" y1="1224.8" x2="680.9" y2="1224.8" stroke="#000" stroke-width="2.4"/>
<text font-size="25" transform="translate(670.4 1235.5) scale(1.120 1)" text-anchor="end">0.8</text>
<line x1="672.9" y1="1166.7" x2="680.9" y2="1166.7" stroke="#000" stroke-width="2.4"/>
<text font-size="25" transform="translate(670.4 1177.4) scale(1.120 1)" text-anchor="end">1.0</text>
<line x1="703.8" y1="1457" x2="703.8" y2="1449" stroke="#000" stroke-width="2.4"/>
<line x1="767.6" y1="1457" x2="767.6" y2="1449" stroke="#000" stroke-width="2.4"/>
<line x1="830" y1="1457" x2="830" y2="1449" stroke="#000" stroke-width="2.4"/>
<line x1="894.3" y1="1457" x2="894.3" y2="1449" stroke="#000" stroke-width="2.4"/>
<line x1="957.6" y1="1457" x2="957.6" y2="1449" stroke="#000" stroke-width="2.4"/>
<line x1="1021.2" y1="1457" x2="1021.2" y2="1449" stroke="#000" stroke-width="2.4"/>
<text font-size="25" transform="translate(703.8 1481) scale(1.120 1)" text-anchor="middle">0</text>
<text font-size="25" transform="translate(772.4 1481) scale(1.120 1)" text-anchor="middle">2.5</text>
<text font-size="25" transform="translate(841.4 1481) scale(1.120 1)" text-anchor="middle">5</text>
<text font-size="25" transform="translate(905.7 1481) scale(1.120 1)" text-anchor="middle">10</text>
<text font-size="25" transform="translate(978.3 1481) scale(1.120 1)" text-anchor="middle">20</text>
<text font-size="25" transform="translate(1052 1481) scale(1.120 1)" text-anchor="middle">40</text>
<text x="759" y="1503" font-size="24" textLength="224" lengthAdjust="spacingAndGlyphs">Concentration(μM)</text>
<text x="632" y="1315" font-size="27" text-anchor="middle" transform="rotate(-90 632 1315)" textLength="232" lengthAdjust="spacingAndGlyphs" xml:space="preserve" style="white-space:pre">Cell  survival  index</text>
<polyline points="703.8,1166.7 767.6,1301.1 830,1348.4 894.3,1394.6 957.6,1406.5 1021.2,1446.5" fill="none" stroke="#0000ff" stroke-width="2.9" stroke-linejoin="round"/>
<circle cx="703.8" cy="1166.7" r="3.5" fill="#0000ff"/>
<line x1="767.6" y1="1301.1" x2="767.6" y2="1288" stroke="#0000ff" stroke-width="2.4"/>
<line x1="764.1" y1="1288" x2="771.1" y2="1288" stroke="#0000ff" stroke-width="2.4"/>
<circle cx="767.6" cy="1301.1" r="3.5" fill="#0000ff"/>
<line x1="830" y1="1348.4" x2="830" y2="1336.8" stroke="#0000ff" stroke-width="2.4"/>
<line x1="826.5" y1="1336.8" x2="833.5" y2="1336.8" stroke="#0000ff" stroke-width="2.4"/>
<circle cx="830" cy="1348.4" r="3.5" fill="#0000ff"/>
<line x1="894.3" y1="1394.6" x2="894.3" y2="1389.4" stroke="#0000ff" stroke-width="2.4"/>
<line x1="890.8" y1="1389.4" x2="897.8" y2="1389.4" stroke="#0000ff" stroke-width="2.4"/>
<circle cx="894.3" cy="1394.6" r="3.5" fill="#0000ff"/>
<line x1="957.6" y1="1406.5" x2="957.6" y2="1402.4" stroke="#0000ff" stroke-width="2.4"/>
<line x1="954.1" y1="1402.4" x2="961.1" y2="1402.4" stroke="#0000ff" stroke-width="2.4"/>
<circle cx="957.6" cy="1406.5" r="3.5" fill="#0000ff"/>
<circle cx="1021.2" cy="1446.5" r="3.5" fill="#0000ff"/>
<polyline points="703.8,1166.7 767.6,1200.1 830,1308.4 894.3,1338 957.6,1377.5 1021.2,1442.5" fill="none" stroke="#00b400" stroke-width="2.9" stroke-linejoin="round"/>
<path d="M700.3 1163.2L707.3 1163.2L703.8 1170.2Z" stroke="none" stroke-width="0" fill="#00b400"/>
<line x1="767.6" y1="1200.1" x2="767.6" y2="1183.2" stroke="#00b400" stroke-width="2.4"/>
<line x1="764.1" y1="1183.2" x2="771.1" y2="1183.2" stroke="#00b400" stroke-width="2.4"/>
<path d="M764.1 1196.6L771.1 1196.6L767.6 1203.6Z" stroke="none" stroke-width="0" fill="#00b400"/>
<path d="M826.5 1304.9L833.5 1304.9L830 1311.9Z" stroke="none" stroke-width="0" fill="#00b400"/>
<path d="M890.8 1334.5L897.8 1334.5L894.3 1341.5Z" stroke="none" stroke-width="0" fill="#00b400"/>
<line x1="957.6" y1="1377.5" x2="957.6" y2="1371.4" stroke="#00b400" stroke-width="2.4"/>
<line x1="954.1" y1="1371.4" x2="961.1" y2="1371.4" stroke="#00b400" stroke-width="2.4"/>
<path d="M954.1 1374L961.1 1374L957.6 1381Z" stroke="none" stroke-width="0" fill="#00b400"/>
<path d="M1017.7 1439L1024.7 1439L1021.2 1446Z" stroke="none" stroke-width="0" fill="#00b400"/>
<polyline points="703.8,1166.7 767.6,1201.2 830,1297.9 894.3,1338 957.6,1384.4 1021.2,1442.5" fill="none" stroke="#ff0000" stroke-width="2.9" stroke-linejoin="round"/>
<path d="M700.3 1163.2L707.3 1163.2L703.8 1170.2Z" stroke="none" stroke-width="0" fill="#ff0000"/>
<line x1="767.6" y1="1201.2" x2="767.6" y2="1187" stroke="#ff0000" stroke-width="2.4"/>
<line x1="764.1" y1="1187" x2="771.1" y2="1187" stroke="#ff0000" stroke-width="2.4"/>
<path d="M764.1 1197.7L771.1 1197.7L767.6 1204.7Z" stroke="none" stroke-width="0" fill="#ff0000"/>
<line x1="830" y1="1297.9" x2="830" y2="1290.7" stroke="#ff0000" stroke-width="2.4"/>
<line x1="826.5" y1="1290.7" x2="833.5" y2="1290.7" stroke="#ff0000" stroke-width="2.4"/>
<path d="M826.5 1294.4L833.5 1294.4L830 1301.4Z" stroke="none" stroke-width="0" fill="#ff0000"/>
<line x1="894.3" y1="1338" x2="894.3" y2="1329.8" stroke="#ff0000" stroke-width="2.4"/>
<line x1="890.8" y1="1329.8" x2="897.8" y2="1329.8" stroke="#ff0000" stroke-width="2.4"/>
<path d="M890.8 1334.5L897.8 1334.5L894.3 1341.5Z" stroke="none" stroke-width="0" fill="#ff0000"/>
<line x1="957.6" y1="1384.4" x2="957.6" y2="1379.8" stroke="#ff0000" stroke-width="2.4"/>
<line x1="954.1" y1="1379.8" x2="961.1" y2="1379.8" stroke="#ff0000" stroke-width="2.4"/>
<path d="M954.1 1380.9L961.1 1380.9L957.6 1387.9Z" stroke="none" stroke-width="0" fill="#ff0000"/>
<path d="M1017.7 1439L1024.7 1439L1021.2 1446Z" stroke="none" stroke-width="0" fill="#ff0000"/>
<text x="769.5" y="1180.5" font-size="20" text-anchor="middle">*</text>
<text x="833.8" y="1286.5" font-size="20" text-anchor="middle">*</text>
<text x="893.8" y="1331" font-size="20" text-anchor="middle">*</text>
<text x="959.3" y="1368.5" font-size="20" text-anchor="middle">*</text>
<line x1="942.6" y1="1177.4" x2="968.8" y2="1177.4" stroke="#0000ff" stroke-width="2.9"/>
<circle cx="955.7" cy="1177.4" r="3.5" fill="#0000ff"/>
<text x="972.4" y="1180" font-size="23" textLength="174" lengthAdjust="spacingAndGlyphs">H1975 Nonsense</text>
<line x1="942.6" y1="1198.8" x2="968.8" y2="1198.8" stroke="#ff0000" stroke-width="2.9"/>
<path d="M952.2 1195.3L959.2 1195.3L955.7 1202.3Z" stroke="none" stroke-width="0" fill="#ff0000"/>
<text x="972.4" y="1204" font-size="23" textLength="214" lengthAdjust="spacingAndGlyphs">H1975 Si CRTAC1-2</text>
<line x1="942.6" y1="1221.4" x2="968.8" y2="1221.4" stroke="#00b400" stroke-width="2.9"/>
<path d="M952.2 1217.9L959.2 1217.9L955.7 1224.9Z" stroke="none" stroke-width="0" fill="#00b400"/>
<text x="972.4" y="1228" font-size="23" textLength="214" lengthAdjust="spacingAndGlyphs">H1975 Si CRTAC1-3</text>
<text x="807" y="1150" font-size="24" textLength="130" lengthAdjust="spacingAndGlyphs">CDDP 48h</text>
<line x1="738.5" y1="575.8" x2="738.5" y2="571.3" stroke="#000" stroke-width="2"/>
<line x1="731.5" y1="571.3" x2="745.5" y2="571.3" stroke="#000" stroke-width="2.2"/>
<rect x="724" y="575.8" width="29" height="24.6" fill="#0000ff" stroke="#000" stroke-width="2.7"/>
<line x1="765.5" y1="585.5" x2="765.5" y2="584.4" stroke="#000" stroke-width="2"/>
<line x1="758.5" y1="584.4" x2="772.5" y2="584.4" stroke="#000" stroke-width="2.2"/>
<rect x="753" y="585.5" width="25" height="14.9" fill="#ff0000" stroke="#000" stroke-width="2.7"/>
<line x1="816" y1="530.1" x2="816" y2="527.9" stroke="#000" stroke-width="2"/>
<line x1="809" y1="527.9" x2="823" y2="527.9" stroke="#000" stroke-width="2.2"/>
<rect x="803" y="530.1" width="26" height="70.3" fill="#0000ff" stroke="#000" stroke-width="2.7"/>
<line x1="842.5" y1="490.7" x2="842.5" y2="486.2" stroke="#000" stroke-width="2"/>
<line x1="835.5" y1="486.2" x2="849.5" y2="486.2" stroke="#000" stroke-width="2.2"/>
<rect x="829" y="490.7" width="27" height="109.7" fill="#ff0000" stroke="#000" stroke-width="2.7"/>
<line x1="894" y1="477.6" x2="894" y2="476.4" stroke="#000" stroke-width="2"/>
<line x1="887" y1="476.4" x2="901" y2="476.4" stroke="#000" stroke-width="2.2"/>
<rect x="881" y="477.6" width="26" height="122.8" fill="#0000ff" stroke="#000" stroke-width="2.7"/>
<line x1="921" y1="386.2" x2="921" y2="380.5" stroke="#000" stroke-width="2"/>
<line x1="914" y1="380.5" x2="928" y2="380.5" stroke="#000" stroke-width="2.2"/>
<rect x="907" y="386.2" width="28" height="214.2" fill="#ff0000" stroke="#000" stroke-width="2.7"/>
<rect x="712.4" y="314.8" width="234.6" height="285.6" fill="none" stroke="#000" stroke-width="2.8"/>
<text x="708.9" y="604.4" font-size="26.5" text-anchor="end">0</text>
<line x1="712.4" y1="543.3" x2="719.4" y2="543.3" stroke="#000" stroke-width="2.8"/>
<text x="708.9" y="552" font-size="26.5" text-anchor="end">10</text>
<line x1="712.4" y1="486.2" x2="719.4" y2="486.2" stroke="#000" stroke-width="2.8"/>
<text x="708.9" y="495.8" font-size="26.5" text-anchor="end">20</text>
<line x1="712.4" y1="429" x2="719.4" y2="429" stroke="#000" stroke-width="2.8"/>
<text x="708.9" y="441.3" font-size="26.5" text-anchor="end">30</text>
<line x1="712.4" y1="371.9" x2="719.4" y2="371.9" stroke="#000" stroke-width="2.8"/>
<text x="708.9" y="385.9" font-size="26.5" text-anchor="end">40</text>
<text x="708.9" y="331.4" font-size="26.5" text-anchor="end">50</text>
<text x="748" y="621" font-size="26.5" text-anchor="middle">0</text>
<text x="840" y="621" font-size="26.5" text-anchor="middle">10</text>
<text x="928" y="621" font-size="26.5" text-anchor="middle">20</text>
<text x="845" y="486.5" font-size="20" text-anchor="middle">*</text>
<text x="920" y="383.5" font-size="20" text-anchor="middle">*</text>
<text x="763" y="638" font-size="25" textLength="155" lengthAdjust="spacingAndGlyphs" xml:space="preserve" style="white-space:pre">CDDP  (μM)</text>
<text x="673" y="432" font-size="27" text-anchor="middle" transform="rotate(-90 673 432)" textLength="240" lengthAdjust="spacingAndGlyphs">Cell Apoptosis (%)</text>
<rect x="717" y="322" width="20" height="11" fill="#0000ff" stroke="#000" stroke-width="2.2"/>
<text x="742" y="336" font-size="23" textLength="140" lengthAdjust="spacingAndGlyphs">H1299 Vector</text>
<rect x="717" y="342" width="20" height="10" fill="#ff0000" stroke="#000" stroke-width="2.2"/>
<text x="742" y="357" font-size="23" textLength="166" lengthAdjust="spacingAndGlyphs">H1299 CRTAC1</text>
<line x1="1733.5" y1="587.4" x2="1733.5" y2="586.3" stroke="#000" stroke-width="2"/>
<line x1="1726.5" y1="586.3" x2="1740.5" y2="586.3" stroke="#000" stroke-width="2.2"/>
<rect x="1721" y="587.4" width="25" height="14.6" fill="#0000ff" stroke="#000" stroke-width="2.7"/>
<line x1="1760" y1="581.3" x2="1760" y2="580.2" stroke="#000" stroke-width="2"/>
<line x1="1753" y1="580.2" x2="1767" y2="580.2" stroke="#000" stroke-width="2.2"/>
<rect x="1746" y="581.3" width="28" height="20.7" fill="#ff0000" stroke="#000" stroke-width="2.7"/>
<line x1="1812.5" y1="537.6" x2="1812.5" y2="533.7" stroke="#000" stroke-width="2"/>
<line x1="1805.5" y1="533.7" x2="1819.5" y2="533.7" stroke="#000" stroke-width="2.2"/>
<rect x="1799" y="537.6" width="27" height="64.4" fill="#0000ff" stroke="#000" stroke-width="2.7"/>
<line x1="1839.5" y1="504.6" x2="1839.5" y2="502.9" stroke="#000" stroke-width="2"/>
<line x1="1832.5" y1="502.9" x2="1846.5" y2="502.9" stroke="#000" stroke-width="2.2"/>
<rect x="1826" y="504.6" width="27" height="97.4" fill="#ff0000" stroke="#000" stroke-width="2.7"/>
<line x1="1891.5" y1="464.8" x2="1891.5" y2="463.7" stroke="#000" stroke-width="2"/>
<line x1="1884.5" y1="463.7" x2="1898.5" y2="463.7" stroke="#000" stroke-width="2.2"/>
<rect x="1878" y="464.8" width="27" height="137.2" fill="#0000ff" stroke="#000" stroke-width="2.7"/>
<line x1="1918.5" y1="376.9" x2="1918.5" y2="374.6" stroke="#000" stroke-width="2"/>
<line x1="1911.5" y1="374.6" x2="1925.5" y2="374.6" stroke="#000" stroke-width="2.2"/>
<rect x="1905" y="376.9" width="27" height="225.1" fill="#ff0000" stroke="#000" stroke-width="2.7"/>
<rect x="1707" y="322" width="238" height="280" fill="none" stroke="#000" stroke-width="2.8"/>
<text x="1703.5" y="610" font-size="26.5" text-anchor="end">0</text>
<line x1="1707" y1="546" x2="1714" y2="546" stroke="#000" stroke-width="2.8"/>
<text x="1703.5" y="556" font-size="26.5" text-anchor="end">10</text>
<line x1="1707" y1="490" x2="1714" y2="490" stroke="#000" stroke-width="2.8"/>
<text x="1703.5" y="500" font-size="26.5" text-anchor="end">20</text>
<line x1="1707" y1="434" x2="1714" y2="434" stroke="#000" stroke-width="2.8"/>
<text x="1703.5" y="444.3" font-size="26.5" text-anchor="end">30</text>
<line x1="1707" y1="378" x2="1714" y2="378" stroke="#000" stroke-width="2.8"/>
<text x="1703.5" y="388.3" font-size="26.5" text-anchor="end">40</text>
<text x="1703.5" y="333.3" font-size="26.5" text-anchor="end">50</text>
<text x="1742" y="624" font-size="26.5" text-anchor="middle">0</text>
<text x="1834" y="624" font-size="26.5" text-anchor="middle">10</text>
<text x="1922" y="624" font-size="26.5" text-anchor="middle">20</text>
<text x="1837" y="503.5" font-size="20" text-anchor="middle">*</text>
<text x="1916" y="378.5" font-size="20" text-anchor="middle">*</text>
<text x="1761" y="651" font-size="25" textLength="155" lengthAdjust="spacingAndGlyphs" xml:space="preserve" style="white-space:pre">CDDP  (μM)</text>
<text x="1666.5" y="468.5" font-size="27" text-anchor="middle" transform="rotate(-90 1666.5 468.5)" textLength="227" lengthAdjust="spacingAndGlyphs">Cell Apoptosis (%)</text>
<rect x="1718" y="330" width="24" height="10" fill="#0000ff" stroke="#000" stroke-width="2.2"/>
<text x="1744" y="340" font-size="23" textLength="162" lengthAdjust="spacingAndGlyphs">HCC827 Vector</text>
<rect x="1718" y="348" width="24" height="11" fill="#ff0000" stroke="#000" stroke-width="2.2"/>
<text x="1744" y="361" font-size="23" textLength="188" lengthAdjust="spacingAndGlyphs">HCC827 CRTAC1</text>
<rect x="723" y="1025" width="27" height="1" fill="#0000ff" stroke="#000" stroke-width="2.7"/>
<rect x="750" y="1024.3" width="28" height="1.7" fill="#ff0000" stroke="#000" stroke-width="2.7"/>
<line x1="818.5" y1="933.9" x2="818.5" y2="932.2" stroke="#000" stroke-width="2"/>
<line x1="811.5" y1="932.2" x2="825.5" y2="932.2" stroke="#000" stroke-width="2.2"/>
<rect x="805" y="933.9" width="27" height="92.1" fill="#0000ff" stroke="#000" stroke-width="2.7"/>
<line x1="844.5" y1="838.4" x2="844.5" y2="835.6" stroke="#000" stroke-width="2"/>
<line x1="837.5" y1="835.6" x2="851.5" y2="835.6" stroke="#000" stroke-width="2.2"/>
<rect x="832" y="838.4" width="25" height="187.6" fill="#ff0000" stroke="#000" stroke-width="2.7"/>
<line x1="897.5" y1="908.9" x2="897.5" y2="906.1" stroke="#000" stroke-width="2"/>
<line x1="890.5" y1="906.1" x2="904.5" y2="906.1" stroke="#000" stroke-width="2.2"/>
<rect x="884" y="908.9" width="27" height="117.1" fill="#0000ff" stroke="#000" stroke-width="2.7"/>
<line x1="924.5" y1="788.3" x2="924.5" y2="786.9" stroke="#000" stroke-width="2"/>
<line x1="917.5" y1="786.9" x2="931.5" y2="786.9" stroke="#000" stroke-width="2.2"/>
<rect x="911" y="788.3" width="27" height="237.7" fill="#ff0000" stroke="#000" stroke-width="2.7"/>
<rect x="713" y="748" width="238" height="278" fill="none" stroke="#000" stroke-width="2.8"/>
<text x="709.5" y="1033.3" font-size="26.5" text-anchor="end">0</text>
<line x1="713" y1="956.5" x2="720" y2="956.5" stroke="#000" stroke-width="2.8"/>
<text x="709.5" y="965.2" font-size="26.5" text-anchor="end">20</text>
<line x1="713" y1="887" x2="720" y2="887" stroke="#000" stroke-width="2.8"/>
<text x="709.5" y="895.7" font-size="26.5" text-anchor="end">40</text>
<line x1="713" y1="817.5" x2="720" y2="817.5" stroke="#000" stroke-width="2.8"/>
<text x="709.5" y="826.2" font-size="26.5" text-anchor="end">60</text>
<text x="709.5" y="758.3" font-size="26.5" text-anchor="end">80</text>
<text x="748" y="1051" font-size="26.5" text-anchor="middle">0</text>
<text x="840" y="1051" font-size="26.5" text-anchor="middle">10</text>
<text x="929" y="1051" font-size="26.5" text-anchor="middle">20</text>
<text x="843" y="833.5" font-size="20" text-anchor="middle">*</text>
<text x="923" y="789.5" font-size="20" text-anchor="middle">*</text>
<text x="759" y="1073" font-size="25" textLength="154" lengthAdjust="spacingAndGlyphs" xml:space="preserve" style="white-space:pre">CDDP  (μM)</text>
<text x="672.5" y="882.5" font-size="27" text-anchor="middle" transform="rotate(-90 672.5 882.5)" textLength="225" lengthAdjust="spacingAndGlyphs">Cell Apoptosis (%)</text>
<rect x="723" y="755" width="23" height="12" fill="#0000ff" stroke="#000" stroke-width="2.2"/>
<text x="748" y="768" font-size="23" textLength="128" lengthAdjust="spacingAndGlyphs">H226 Vector</text>
<rect x="723" y="776" width="23" height="11" fill="#ff0000" stroke="#000" stroke-width="2.2"/>
<text x="748" y="790" font-size="23" textLength="153" lengthAdjust="spacingAndGlyphs">H226 CRTAC1</text>
<line x1="153" y1="2026.3" x2="153" y2="2025.2" stroke="#000" stroke-width="2"/>
<line x1="146" y1="2025.2" x2="160" y2="2025.2" stroke="#000" stroke-width="2.2"/>
<rect x="138" y="2026.3" width="30" height="20.7" fill="#0000ff" stroke="#000" stroke-width="2.7"/>
<rect x="168" y="2031.7" width="31" height="15.3" fill="#ff0000" stroke="#000" stroke-width="2.7"/>
<rect x="199" y="2036.6" width="29" height="10.4" fill="#00b400" stroke="#000" stroke-width="2.7"/>
<line x1="272.5" y1="2002.3" x2="272.5" y2="2001.2" stroke="#000" stroke-width="2"/>
<line x1="265.5" y1="2001.2" x2="279.5" y2="2001.2" stroke="#000" stroke-width="2.2"/>
<rect x="258" y="2002.3" width="29" height="44.7" fill="#0000ff" stroke="#000" stroke-width="2.7"/>
<rect x="287" y="2002.3" width="30" height="44.7" fill="#ff0000" stroke="#000" stroke-width="2.7"/>
<line x1="332.5" y1="1979.4" x2="332.5" y2="1977.2" stroke="#000" stroke-width="2"/>
<line x1="325.5" y1="1977.2" x2="339.5" y2="1977.2" stroke="#000" stroke-width="2.2"/>
<rect x="317" y="1979.4" width="31" height="67.6" fill="#00b400" stroke="#000" stroke-width="2.7"/>
<line x1="391.5" y1="1770.7" x2="391.5" y2="1765.8" stroke="#000" stroke-width="2"/>
<line x1="384.5" y1="1765.8" x2="398.5" y2="1765.8" stroke="#000" stroke-width="2.2"/>
<rect x="376" y="1770.7" width="31" height="276.3" fill="#0000ff" stroke="#000" stroke-width="2.7"/>
<line x1="421.5" y1="1970.7" x2="421.5" y2="1965.8" stroke="#000" stroke-width="2"/>
<line x1="414.5" y1="1965.8" x2="428.5" y2="1965.8" stroke="#000" stroke-width="2.2"/>
<rect x="407" y="1970.7" width="29" height="76.3" fill="#ff0000" stroke="#000" stroke-width="2.7"/>
<line x1="451" y1="1913.5" x2="451" y2="1912.4" stroke="#000" stroke-width="2"/>
<line x1="444" y1="1912.4" x2="458" y2="1912.4" stroke="#000" stroke-width="2.2"/>
<rect x="436" y="1913.5" width="30" height="133.5" fill="#00b400" stroke="#000" stroke-width="2.7"/>
<rect x="124" y="1720" width="357" height="327" fill="none" stroke="#000" stroke-width="2.8"/>
<text x="120.5" y="2056.7" font-size="26.5" text-anchor="end">0</text>
<line x1="124" y1="1938" x2="131" y2="1938" stroke="#000" stroke-width="2.8"/>
<text x="120.5" y="1947.7" font-size="26.5" text-anchor="end">20</text>
<line x1="124" y1="1829" x2="131" y2="1829" stroke="#000" stroke-width="2.8"/>
<text x="120.5" y="1837.7" font-size="26.5" text-anchor="end">40</text>
<text x="120.5" y="1736.7" font-size="26.5" text-anchor="end">60</text>
<text x="168" y="2071" font-size="26.5" text-anchor="middle">0</text>
<text x="306" y="2071" font-size="26.5" text-anchor="middle">10</text>
<text x="433" y="2071" font-size="26.5" text-anchor="middle">20</text>
<text x="421" y="1961.5" font-size="20" text-anchor="middle">*</text>
<text x="450" y="1913.5" font-size="20" text-anchor="middle">*</text>
<text x="257" y="2097" font-size="25" textLength="155" lengthAdjust="spacingAndGlyphs" xml:space="preserve" style="white-space:pre">CDDP  (μM)</text>
<text x="85.5" y="1868.5" font-size="27" text-anchor="middle" transform="rotate(-90 85.5 1868.5)" textLength="227" lengthAdjust="spacingAndGlyphs">Cell Apoptosis (%)</text>
<rect x="129" y="1728" width="24" height="12" fill="#0000ff" stroke="#000" stroke-width="2.2"/>
<text x="157" y="1742" font-size="23" textLength="163" lengthAdjust="spacingAndGlyphs">A549 Nonsense</text>
<rect x="129" y="1750" width="24" height="12" fill="#ff0000" stroke="#000" stroke-width="2.2"/>
<text x="157" y="1764" font-size="23" textLength="200" lengthAdjust="spacingAndGlyphs">A549 Si CRTAC1-2</text>
<rect x="129" y="1775" width="24" height="12" fill="#00b400" stroke="#000" stroke-width="2.2"/>
<text x="157" y="1789" font-size="23" textLength="200" lengthAdjust="spacingAndGlyphs">A549 Si CRTAC1-3</text>
<line x1="1468" y1="2032.1" x2="1468" y2="2030.4" stroke="#000" stroke-width="2"/>
<line x1="1461" y1="2030.4" x2="1475" y2="2030.4" stroke="#000" stroke-width="2.2"/>
<rect x="1453" y="2032.1" width="30" height="15.9" fill="#0000ff" stroke="#000" stroke-width="2.7"/>
<line x1="1498" y1="2034.9" x2="1498" y2="2034.1" stroke="#000" stroke-width="2"/>
<line x1="1491" y1="2034.1" x2="1505" y2="2034.1" stroke="#000" stroke-width="2.2"/>
<rect x="1483" y="2034.9" width="30" height="13.1" fill="#ff0000" stroke="#000" stroke-width="2.7"/>
<rect x="1513" y="2036.6" width="30" height="11.4" fill="#00b400" stroke="#000" stroke-width="2.7"/>
<line x1="1588" y1="1941.7" x2="1588" y2="1941.3" stroke="#000" stroke-width="2"/>
<line x1="1581" y1="1941.3" x2="1595" y2="1941.3" stroke="#000" stroke-width="2.2"/>
<rect x="1573" y="1941.7" width="30" height="106.3" fill="#0000ff" stroke="#000" stroke-width="2.7"/>
<line x1="1617.5" y1="1992.8" x2="1617.5" y2="1992" stroke="#000" stroke-width="2"/>
<line x1="1610.5" y1="1992" x2="1624.5" y2="1992" stroke="#000" stroke-width="2.2"/>
<rect x="1603" y="1992.8" width="29" height="55.2" fill="#ff0000" stroke="#000" stroke-width="2.7"/>
<line x1="1647.5" y1="1989.1" x2="1647.5" y2="1987.1" stroke="#000" stroke-width="2"/>
<line x1="1640.5" y1="1987.1" x2="1654.5" y2="1987.1" stroke="#000" stroke-width="2.2"/>
<rect x="1632" y="1989.1" width="31" height="58.9" fill="#00b400" stroke="#000" stroke-width="2.7"/>
<line x1="1707" y1="1801.5" x2="1707" y2="1797" stroke="#000" stroke-width="2"/>
<line x1="1700" y1="1797" x2="1714" y2="1797" stroke="#000" stroke-width="2.2"/>
<rect x="1692" y="1801.5" width="30" height="246.5" fill="#0000ff" stroke="#000" stroke-width="2.7"/>
<line x1="1736.5" y1="1878.8" x2="1736.5" y2="1874.7" stroke="#000" stroke-width="2"/>
<line x1="1729.5" y1="1874.7" x2="1743.5" y2="1874.7" stroke="#000" stroke-width="2.2"/>
<rect x="1722" y="1878.8" width="29" height="169.2" fill="#ff0000" stroke="#000" stroke-width="2.7"/>
<line x1="1766" y1="1863.2" x2="1766" y2="1862" stroke="#000" stroke-width="2"/>
<line x1="1759" y1="1862" x2="1773" y2="1862" stroke="#000" stroke-width="2.2"/>
<rect x="1751" y="1863.2" width="30" height="184.8" fill="#00b400" stroke="#000" stroke-width="2.7"/>
<rect x="1438" y="1721" width="358" height="327" fill="none" stroke="#000" stroke-width="2.8"/>
<text x="1434.5" y="2056.7" font-size="26.5" text-anchor="end">0</text>
<line x1="1438" y1="1966.2" x2="1445" y2="1966.2" stroke="#000" stroke-width="2.8"/>
<text x="1434.5" y="1974.2" font-size="26.5" text-anchor="end">20</text>
<line x1="1438" y1="1884.5" x2="1445" y2="1884.5" stroke="#000" stroke-width="2.8"/>
<text x="1434.5" y="1892.8" font-size="26.5" text-anchor="end">40</text>
<line x1="1438" y1="1802.8" x2="1445" y2="1802.8" stroke="#000" stroke-width="2.8"/>
<text x="1434.5" y="1811.5" font-size="26.5" text-anchor="end">60</text>
<text x="1434.5" y="1728.3" font-size="26.5" text-anchor="end">80</text>
<text x="1498" y="2071" font-size="26.5" text-anchor="middle">0</text>
<text x="1635" y="2071" font-size="26.5" text-anchor="middle">10</text>
<text x="1763" y="2071" font-size="26.5" text-anchor="middle">20</text>
<text x="1617" y="1990.5" font-size="20" text-anchor="middle">*</text>
<text x="1648" y="1986.5" font-size="20" text-anchor="middle">*</text>
<text x="1735" y="1874.5" font-size="20" text-anchor="middle">*</text>
<text x="1766" y="1863.5" font-size="20" text-anchor="middle">*</text>
<text x="1558" y="2093" font-size="25" textLength="155" lengthAdjust="spacingAndGlyphs" xml:space="preserve" style="white-space:pre">CDDP  (μM)</text>
<text x="1395.5" y="1870" font-size="27" text-anchor="middle" transform="rotate(-90 1395.5 1870)" textLength="224" lengthAdjust="spacingAndGlyphs">Cell Apoptosis (%)</text>
<rect x="1444" y="1730" width="23" height="12" fill="#0000ff" stroke="#000" stroke-width="2.2"/>
<text x="1469" y="1743" font-size="23" textLength="175" lengthAdjust="spacingAndGlyphs">H1975 Nonsense</text>
<rect x="1444" y="1752" width="23" height="12" fill="#ff0000" stroke="#000" stroke-width="2.2"/>
<text x="1469" y="1766" font-size="23" textLength="214" lengthAdjust="spacingAndGlyphs">H1975 Si CRTAC1-2</text>
<rect x="1444" y="1777" width="23" height="12" fill="#00b400" stroke="#000" stroke-width="2.2"/>
<text x="1469" y="1790" font-size="23" textLength="214" lengthAdjust="spacingAndGlyphs">H1975 Si CRTAC1-3</text>
<line x1="33" y1="635" x2="33" y2="247.5" stroke="#000" stroke-width="1.7"/>
<path d="M26 259.5L33 247.5L40 259.5" stroke="#000" stroke-width="1.7" fill="none"/>
<line x1="33" y1="635" x2="638" y2="635" stroke="#000" stroke-width="1.7"/>
<path d="M626 628L638 635L626 642" stroke="#000" stroke-width="1.7" fill="none"/>
<text x="27.9" y="447.6" font-size="28" text-anchor="middle" transform="rotate(-90 27.9 447.6)" textLength="82" lengthAdjust="spacingAndGlyphs">7-AAD</text>
<text x="55.4" y="440.2" font-size="24" text-anchor="middle" transform="rotate(-90 55.4 440.2)" textLength="67.5" lengthAdjust="spacingAndGlyphs">H1299</text>
<line x1="62" y1="361" x2="62" y2="525" stroke="#000" stroke-width="1.7"/>
<text x="86" y="365.8" font-size="23.5" text-anchor="middle" transform="rotate(-90 86 365.8)" textLength="67" lengthAdjust="spacingAndGlyphs">Vector</text>
<text x="83.1" y="543.8" font-size="23" text-anchor="middle" transform="rotate(-90 83.1 543.8)" textLength="89.5" lengthAdjust="spacingAndGlyphs">CRTAC1</text>
<text x="295" y="243" font-size="22.5" textLength="132" lengthAdjust="spacingAndGlyphs" xml:space="preserve" style="white-space:pre">CDDP  (μM)</text>
<line x1="182" y1="251" x2="530" y2="251" stroke="#000" stroke-width="1.7"/>
<text x="177" y="277" font-size="24" text-anchor="middle">0</text>
<text x="355" y="277" font-size="24" text-anchor="middle">10</text>
<text x="523" y="277" font-size="24" text-anchor="middle">20</text>
<text x="260" y="656.5" font-size="27" textLength="188" lengthAdjust="spacingAndGlyphs">Annexin V-APC</text>
<rect x="103" y="283" width="153.3" height="153.3" fill="#fff" stroke="#999" stroke-width="1.3"/>
<g clip-path="url(#fc1)"><g filter="url(#spk)">
<ellipse cx="150" cy="382" rx="69" ry="31.2" fill="url(#gh)" transform="rotate(-28 150 382)"/>
<ellipse cx="150" cy="382" rx="45" ry="19.5" fill="url(#g4)" transform="rotate(-28 150 382)"/>
<ellipse cx="210" cy="346" rx="21" ry="7.5" fill="url(#g0)" transform="rotate(-25 210 346)"/>
<ellipse cx="185" cy="368" rx="33" ry="12" fill="url(#g0)" transform="rotate(-25 185 368)"/>
</g></g>
<line x1="176" y1="283" x2="176" y2="436.3" stroke="#666" stroke-width="1.3"/>
<line x1="103" y1="356" x2="256.3" y2="356" stroke="#666" stroke-width="1.3"/>
<line x1="103" y1="283" x2="103" y2="437.3" stroke="#555" stroke-width="1.4"/>
<line x1="102" y1="436.3" x2="256.3" y2="436.3" stroke="#666" stroke-width="1.4"/>
<path d="M103 433.3h-3M103 430.2h-3M103 427.1h-3M103 424h-3M103 420.9h-3M103 417.8h-3M103 414.7h-3M103 411.6h-3M103 408.5h-3M103 405.4h-3M103 402.3h-3M103 399.2h-3M103 396.1h-3M103 393h-3M103 389.9h-3M103 386.8h-3M103 383.7h-3M103 380.6h-3M103 377.5h-3M103 374.4h-3M103 371.3h-3M103 368.2h-3M103 365.1h-3M103 362h-3M103 358.9h-3M103 355.8h-3M103 352.7h-3M103 349.6h-3M103 346.5h-3M103 343.4h-3M103 340.3h-3M103 337.2h-3M103 334.1h-3M103 331h-3M103 327.9h-3M103 324.8h-3M103 321.7h-3M103 318.6h-3M103 315.5h-3M103 312.4h-3M103 309.3h-3M103 306.2h-3M103 303.1h-3M103 300h-3M103 296.9h-3M103 293.8h-3M103 290.7h-3M103 287.6h-3M106 436.3v3M109.1 436.3v3M112.2 436.3v3M115.3 436.3v3M118.4 436.3v3M121.5 436.3v3M124.6 436.3v3M127.7 436.3v3M130.8 436.3v3M133.9 436.3v3M137 436.3v3M140.1 436.3v3M143.2 436.3v3M146.3 436.3v3M149.4 436.3v3M152.5 436.3v3M155.6 436.3v3M158.7 436.3v3M161.8 436.3v3M164.9 436.3v3M168 436.3v3M171.1 436.3v3M174.2 436.3v3M177.3 436.3v3M180.4 436.3v3M183.5 436.3v3M186.6 436.3v3M189.7 436.3v3M192.8 436.3v3M195.9 436.3v3M199 436.3v3M202.1 436.3v3M205.2 436.3v3M208.3 436.3v3M211.4 436.3v3M214.5 436.3v3M217.6 436.3v3M220.7 436.3v3M223.8 436.3v3M226.9 436.3v3M230 436.3v3M233.1 436.3v3M236.2 436.3v3M239.3 436.3v3M242.4 436.3v3M245.5 436.3v3M248.6 436.3v3M251.7 436.3v3" stroke="#777" stroke-width="0.9"/>
<text x="114" y="451.3" font-size="10.5" text-anchor="middle" fill="#383838">0</text>
<text x="140.7" y="451.3" font-size="10.5" text-anchor="middle" fill="#383838">10<tspan font-size="6.5" dy="-4">3</tspan></text>
<text x="167.3" y="451.3" font-size="10.5" text-anchor="middle" fill="#383838">10<tspan font-size="6.5" dy="-4">4</tspan></text>
<text x="194" y="451.3" font-size="10.5" text-anchor="middle" fill="#383838">10<tspan font-size="6.5" dy="-4">5</tspan></text>
<text x="220.6" y="451.3" font-size="10.5" text-anchor="middle" fill="#383838">10<tspan font-size="6.5" dy="-4">6</tspan></text>
<text x="247.3" y="451.3" font-size="10.5" text-anchor="middle" fill="#383838">10<tspan font-size="6.5" dy="-4">7</tspan></text>
<text x="94" y="426.3" font-size="10" text-anchor="middle" fill="#383838" transform="rotate(-90 94 426.3)">0</text>
<text x="94" y="404.1" font-size="10" text-anchor="middle" fill="#383838" transform="rotate(-90 94 404.1)">10<tspan font-size="6.2" dy="-3.8">2</tspan></text>
<text x="94" y="381.9" font-size="10" text-anchor="middle" fill="#383838" transform="rotate(-90 94 381.9)">10<tspan font-size="6.2" dy="-3.8">3</tspan></text>
<text x="94" y="359.6" font-size="10" text-anchor="middle" fill="#383838" transform="rotate(-90 94 359.6)">10<tspan font-size="6.2" dy="-3.8">4</tspan></text>
<text x="94" y="337.4" font-size="10" text-anchor="middle" fill="#383838" transform="rotate(-90 94 337.4)">10<tspan font-size="6.2" dy="-3.8">5</tspan></text>
<text x="94" y="315.2" font-size="10" text-anchor="middle" fill="#383838" transform="rotate(-90 94 315.2)">10<tspan font-size="6.2" dy="-3.8">6</tspan></text>
<text x="94" y="293" font-size="10" text-anchor="middle" fill="#383838" transform="rotate(-90 94 293)">10<tspan font-size="6.2" dy="-3.8">7</tspan></text>
<text x="105" y="302" font-size="22.5">0.01%</text>
<text x="252.3" y="302.5" font-size="22.5" text-anchor="end">1.38%</text>
<text x="102" y="433.8" font-size="22.5">95.31%</text>
<text x="253.8" y="433.8" font-size="22.5" text-anchor="end">3.30%</text>
<rect x="279.3" y="283" width="154.8" height="153.3" fill="#fff" stroke="#999" stroke-width="1.3"/>
<g clip-path="url(#fc2)"><g filter="url(#spk)">
<ellipse cx="334" cy="372" rx="64.4" ry="31.2" fill="url(#gh)" transform="rotate(-20 334 372)"/>
<ellipse cx="334" cy="372" rx="42" ry="19.5" fill="url(#g3)" transform="rotate(-20 334 372)"/>
<ellipse cx="380" cy="343" rx="24" ry="9" fill="url(#g1)" transform="rotate(-20 380 343)"/>
<ellipse cx="360" cy="360" rx="37.5" ry="15" fill="url(#g0)" transform="rotate(-25 360 360)"/>
</g></g>
<line x1="353.8" y1="283" x2="353.8" y2="436.3" stroke="#666" stroke-width="1.3"/>
<line x1="279.3" y1="355.2" x2="434.1" y2="355.2" stroke="#666" stroke-width="1.3"/>
<line x1="279.3" y1="283" x2="279.3" y2="437.3" stroke="#555" stroke-width="1.4"/>
<line x1="278.3" y1="436.3" x2="434.1" y2="436.3" stroke="#666" stroke-width="1.4"/>
<path d="M279.3 433.3h-3M279.3 430.2h-3M279.3 427.1h-3M279.3 424h-3M279.3 420.9h-3M279.3 417.8h-3M279.3 414.7h-3M279.3 411.6h-3M279.3 408.5h-3M279.3 405.4h-3M279.3 402.3h-3M279.3 399.2h-3M279.3 396.1h-3M279.3 393h-3M279.3 389.9h-3M279.3 386.8h-3M279.3 383.7h-3M279.3 380.6h-3M279.3 377.5h-3M279.3 374.4h-3M279.3 371.3h-3M279.3 368.2h-3M279.3 365.1h-3M279.3 362h-3M279.3 358.9h-3M279.3 355.8h-3M279.3 352.7h-3M279.3 349.6h-3M279.3 346.5h-3M279.3 343.4h-3M279.3 340.3h-3M279.3 337.2h-3M279.3 334.1h-3M279.3 331h-3M279.3 327.9h-3M279.3 324.8h-3M279.3 321.7h-3M279.3 318.6h-3M279.3 315.5h-3M279.3 312.4h-3M279.3 309.3h-3M279.3 306.2h-3M279.3 303.1h-3M279.3 300h-3M279.3 296.9h-3M279.3 293.8h-3M279.3 290.7h-3M279.3 287.6h-3M282.3 436.3v3M285.4 436.3v3M288.5 436.3v3M291.6 436.3v3M294.7 436.3v3M297.8 436.3v3M300.9 436.3v3M304 436.3v3M307.1 436.3v3M310.2 436.3v3M313.3 436.3v3M316.4 436.3v3M319.5 436.3v3M322.6 436.3v3M325.7 436.3v3M328.8 436.3v3M331.9 436.3v3M335 436.3v3M338.1 436.3v3M341.2 436.3v3M344.3 436.3v3M347.4 436.3v3M350.5 436.3v3M353.6 436.3v3M356.7 436.3v3M359.8 436.3v3M362.9 436.3v3M366 436.3v3M369.1 436.3v3M372.2 436.3v3M375.3 436.3v3M378.4 436.3v3M381.5 436.3v3M384.6 436.3v3M387.7 436.3v3M390.8 436.3v3M393.9 436.3v3M397 436.3v3M400.1 436.3v3M403.2 436.3v3M406.3 436.3v3M409.4 436.3v3M412.5 436.3v3M415.6 436.3v3M418.7 436.3v3M421.8 436.3v3M424.9 436.3v3M428 436.3v3M431.1 436.3v3" stroke="#777" stroke-width="0.9"/>
<text x="290.3" y="451.3" font-size="10.5" text-anchor="middle" fill="#383838">0</text>
<text x="317.3" y="451.3" font-size="10.5" text-anchor="middle" fill="#383838">10<tspan font-size="6.5" dy="-4">3</tspan></text>
<text x="344.2" y="451.3" font-size="10.5" text-anchor="middle" fill="#383838">10<tspan font-size="6.5" dy="-4">4</tspan></text>
<text x="371.2" y="451.3" font-size="10.5" text-anchor="middle" fill="#383838">10<tspan font-size="6.5" dy="-4">5</tspan></text>
<text x="398.1" y="451.3" font-size="10.5" text-anchor="middle" fill="#383838">10<tspan font-size="6.5" dy="-4">6</tspan></text>
<text x="425.1" y="451.3" font-size="10.5" text-anchor="middle" fill="#383838">10<tspan font-size="6.5" dy="-4">7</tspan></text>
<text x="270.3" y="426.3" font-size="10" text-anchor="middle" fill="#383838" transform="rotate(-90 270.3 426.3)">0</text>
<text x="270.3" y="404.1" font-size="10" text-anchor="middle" fill="#383838" transform="rotate(-90 270.3 404.1)">10<tspan font-size="6.2" dy="-3.8">2</tspan></text>
<text x="270.3" y="381.9" font-size="10" text-anchor="middle" fill="#383838" transform="rotate(-90 270.3 381.9)">10<tspan font-size="6.2" dy="-3.8">3</tspan></text>
<text x="270.3" y="359.6" font-size="10" text-anchor="middle" fill="#383838" transform="rotate(-90 270.3 359.6)">10<tspan font-size="6.2" dy="-3.8">4</tspan></text>
<text x="270.3" y="337.4" font-size="10" text-anchor="middle" fill="#383838" transform="rotate(-90 270.3 337.4)">10<tspan font-size="6.2" dy="-3.8">5</tspan></text>
<text x="270.3" y="315.2" font-size="10" text-anchor="middle" fill="#383838" transform="rotate(-90 270.3 315.2)">10<tspan font-size="6.2" dy="-3.8">6</tspan></text>
<text x="270.3" y="293" font-size="10" text-anchor="middle" fill="#383838" transform="rotate(-90 270.3 293)">10<tspan font-size="6.2" dy="-3.8">7</tspan></text>
<text x="281.3" y="302" font-size="22.5">0.57%</text>
<text x="430.1" y="302.5" font-size="22.5" text-anchor="end">5.93%</text>
<text x="278.3" y="433.8" font-size="22.5">86.90%</text>
<text x="431.6" y="433.8" font-size="22.5" text-anchor="end">6.60%</text>
<rect x="453.6" y="283" width="154.9" height="153.3" fill="#fff" stroke="#999" stroke-width="1.3"/>
<g clip-path="url(#fc3)"><g filter="url(#spk)">
<ellipse cx="509" cy="367" rx="73.6" ry="33.6" fill="url(#gh)" transform="rotate(-25 509 367)"/>
<ellipse cx="509" cy="367" rx="48" ry="21" fill="url(#g3)" transform="rotate(-25 509 367)"/>
<ellipse cx="555" cy="342" rx="22.5" ry="10.5" fill="url(#g1)" transform="rotate(-30 555 342)"/>
<ellipse cx="545" cy="362" rx="18" ry="15" fill="url(#g1)" transform="rotate(-30 545 362)"/>
</g></g>
<line x1="528" y1="283" x2="528" y2="436.3" stroke="#666" stroke-width="1.3"/>
<line x1="453.6" y1="352.3" x2="608.5" y2="352.3" stroke="#666" stroke-width="1.3"/>
<line x1="453.6" y1="283" x2="453.6" y2="437.3" stroke="#555" stroke-width="1.4"/>
<line x1="452.6" y1="436.3" x2="608.5" y2="436.3" stroke="#666" stroke-width="1.4"/>
<path d="M453.6 433.3h-3M453.6 430.2h-3M453.6 427.1h-3M453.6 424h-3M453.6 420.9h-3M453.6 417.8h-3M453.6 414.7h-3M453.6 411.6h-3M453.6 408.5h-3M453.6 405.4h-3M453.6 402.3h-3M453.6 399.2h-3M453.6 396.1h-3M453.6 393h-3M453.6 389.9h-3M453.6 386.8h-3M453.6 383.7h-3M453.6 380.6h-3M453.6 377.5h-3M453.6 374.4h-3M453.6 371.3h-3M453.6 368.2h-3M453.6 365.1h-3M453.6 362h-3M453.6 358.9h-3M453.6 355.8h-3M453.6 352.7h-3M453.6 349.6h-3M453.6 346.5h-3M453.6 343.4h-3M453.6 340.3h-3M453.6 337.2h-3M453.6 334.1h-3M453.6 331h-3M453.6 327.9h-3M453.6 324.8h-3M453.6 321.7h-3M453.6 318.6h-3M453.6 315.5h-3M453.6 312.4h-3M453.6 309.3h-3M453.6 306.2h-3M453.6 303.1h-3M453.6 300h-3M453.6 296.9h-3M453.6 293.8h-3M453.6 290.7h-3M453.6 287.6h-3M456.6 436.3v3M459.7 436.3v3M462.8 436.3v3M465.9 436.3v3M469 436.3v3M472.1 436.3v3M475.2 436.3v3M478.3 436.3v3M481.4 436.3v3M484.5 436.3v3M487.6 436.3v3M490.7 436.3v3M493.8 436.3v3M496.9 436.3v3M500 436.3v3M503.1 436.3v3M506.2 436.3v3M509.3 436.3v3M512.4 436.3v3M515.5 436.3v3M518.6 436.3v3M521.7 436.3v3M524.8 436.3v3M527.9 436.3v3M531 436.3v3M534.1 436.3v3M537.2 436.3v3M540.3 436.3v3M543.4 436.3v3M546.5 436.3v3M549.6 436.3v3M552.7 436.3v3M555.8 436.3v3M558.9 436.3v3M562 436.3v3M565.1 436.3v3M568.2 436.3v3M571.3 436.3v3M574.4 436.3v3M577.5 436.3v3M580.6 436.3v3M583.7 436.3v3M586.8 436.3v3M589.9 436.3v3M593 436.3v3M596.1 436.3v3M599.2 436.3v3M602.3 436.3v3M605.4 436.3v3" stroke="#777" stroke-width="0.9"/>
<text x="464.6" y="451.3" font-size="10.5" text-anchor="middle" fill="#383838">0</text>
<text x="491.6" y="451.3" font-size="10.5" text-anchor="middle" fill="#383838">10<tspan font-size="6.5" dy="-4">3</tspan></text>
<text x="518.6" y="451.3" font-size="10.5" text-anchor="middle" fill="#383838">10<tspan font-size="6.5" dy="-4">4</tspan></text>
<text x="545.5" y="451.3" font-size="10.5" text-anchor="middle" fill="#383838">10<tspan font-size="6.5" dy="-4">5</tspan></text>
<text x="572.5" y="451.3" font-size="10.5" text-anchor="middle" fill="#383838">10<tspan font-size="6.5" dy="-4">6</tspan></text>
<text x="599.5" y="451.3" font-size="10.5" text-anchor="middle" fill="#383838">10<tspan font-size="6.5" dy="-4">7</tspan></text>
<text x="444.6" y="426.3" font-size="10" text-anchor="middle" fill="#383838" transform="rotate(-90 444.6 426.3)">0</text>
<text x="444.6" y="404.1" font-size="10" text-anchor="middle" fill="#383838" transform="rotate(-90 444.6 404.1)">10<tspan font-size="6.2" dy="-3.8">2</tspan></text>
<text x="444.6" y="381.9" font-size="10" text-anchor="middle" fill="#383838" transform="rotate(-90 444.6 381.9)">10<tspan font-size="6.2" dy="-3.8">3</tspan></text>
<text x="444.6" y="359.6" font-size="10" text-anchor="middle" fill="#383838" transform="rotate(-90 444.6 359.6)">10<tspan font-size="6.2" dy="-3.8">4</tspan></text>
<text x="444.6" y="337.4" font-size="10" text-anchor="middle" fill="#383838" transform="rotate(-90 444.6 337.4)">10<tspan font-size="6.2" dy="-3.8">5</tspan></text>
<text x="444.6" y="315.2" font-size="10" text-anchor="middle" fill="#383838" transform="rotate(-90 444.6 315.2)">10<tspan font-size="6.2" dy="-3.8">6</tspan></text>
<text x="444.6" y="293" font-size="10" text-anchor="middle" fill="#383838" transform="rotate(-90 444.6 293)">10<tspan font-size="6.2" dy="-3.8">7</tspan></text>
<text x="455.6" y="302" font-size="22.5">0.41%</text>
<text x="604.5" y="302.5" font-size="22.5" text-anchor="end">8.71%</text>
<text x="452.6" y="433.8" font-size="22.5">77.79%</text>
<text x="606" y="433.8" font-size="22.5" text-anchor="end">13.09%</text>
<rect x="103" y="462" width="153.3" height="155" fill="#fff" stroke="#999" stroke-width="1.3"/>
<g clip-path="url(#fc4)"><g filter="url(#spk)">
<ellipse cx="150" cy="557" rx="57.5" ry="28.8" fill="url(#gh)" transform="rotate(-15 150 557)"/>
<ellipse cx="150" cy="557" rx="37.5" ry="18" fill="url(#g4)" transform="rotate(-15 150 557)"/>
<ellipse cx="199" cy="521" rx="12" ry="7.5" fill="url(#g0)"/>
<ellipse cx="168" cy="553" rx="21" ry="18" fill="url(#g1)"/>
</g></g>
<line x1="175.2" y1="462" x2="175.2" y2="617" stroke="#666" stroke-width="1.3"/>
<line x1="103" y1="534.4" x2="256.3" y2="534.4" stroke="#666" stroke-width="1.3"/>
<line x1="103" y1="462" x2="103" y2="618" stroke="#555" stroke-width="1.4"/>
<line x1="102" y1="617" x2="256.3" y2="617" stroke="#666" stroke-width="1.4"/>
<path d="M103 614h-3M103 610.9h-3M103 607.8h-3M103 604.7h-3M103 601.6h-3M103 598.5h-3M103 595.4h-3M103 592.3h-3M103 589.2h-3M103 586.1h-3M103 583h-3M103 579.9h-3M103 576.8h-3M103 573.7h-3M103 570.6h-3M103 567.5h-3M103 564.4h-3M103 561.3h-3M103 558.2h-3M103 555.1h-3M103 552h-3M103 548.9h-3M103 545.8h-3M103 542.7h-3M103 539.6h-3M103 536.5h-3M103 533.4h-3M103 530.3h-3M103 527.2h-3M103 524.1h-3M103 521h-3M103 517.9h-3M103 514.8h-3M103 511.7h-3M103 508.6h-3M103 505.5h-3M103 502.4h-3M103 499.3h-3M103 496.2h-3M103 493.1h-3M103 490h-3M103 486.9h-3M103 483.8h-3M103 480.7h-3M103 477.6h-3M103 474.5h-3M103 471.4h-3M103 468.3h-3M103 465.2h-3M106 617v3M109.1 617v3M112.2 617v3M115.3 617v3M118.4 617v3M121.5 617v3M124.6 617v3M127.7 617v3M130.8 617v3M133.9 617v3M137 617v3M140.1 617v3M143.2 617v3M146.3 617v3M149.4 617v3M152.5 617v3M155.6 617v3M158.7 617v3M161.8 617v3M164.9 617v3M168 617v3M171.1 617v3M174.2 617v3M177.3 617v3M180.4 617v3M183.5 617v3M186.6 617v3M189.7 617v3M192.8 617v3M195.9 617v3M199 617v3M202.1 617v3M205.2 617v3M208.3 617v3M211.4 617v3M214.5 617v3M217.6 617v3M220.7 617v3M223.8 617v3M226.9 617v3M230 617v3M233.1 617v3M236.2 617v3M239.3 617v3M242.4 617v3M245.5 617v3M248.6 617v3M251.7 617v3" stroke="#777" stroke-width="0.9"/>
<text x="114" y="632" font-size="10.5" text-anchor="middle" fill="#383838">0</text>
<text x="140.7" y="632" font-size="10.5" text-anchor="middle" fill="#383838">10<tspan font-size="6.5" dy="-4">3</tspan></text>
<text x="167.3" y="632" font-size="10.5" text-anchor="middle" fill="#383838">10<tspan font-size="6.5" dy="-4">4</tspan></text>
<text x="194" y="632" font-size="10.5" text-anchor="middle" fill="#383838">10<tspan font-size="6.5" dy="-4">5</tspan></text>
<text x="220.6" y="632" font-size="10.5" text-anchor="middle" fill="#383838">10<tspan font-size="6.5" dy="-4">6</tspan></text>
<text x="247.3" y="632" font-size="10.5" text-anchor="middle" fill="#383838">10<tspan font-size="6.5" dy="-4">7</tspan></text>
<text x="94" y="607" font-size="10" text-anchor="middle" fill="#383838" transform="rotate(-90 94 607)">0</text>
<text x="94" y="584.5" font-size="10" text-anchor="middle" fill="#383838" transform="rotate(-90 94 584.5)">10<tspan font-size="6.2" dy="-3.8">2</tspan></text>
<text x="94" y="562" font-size="10" text-anchor="middle" fill="#383838" transform="rotate(-90 94 562)">10<tspan font-size="6.2" dy="-3.8">3</tspan></text>
<text x="94" y="539.5" font-size="10" text-anchor="middle" fill="#383838" transform="rotate(-90 94 539.5)">10<tspan font-size="6.2" dy="-3.8">4</tspan></text>
<text x="94" y="517" font-size="10" text-anchor="middle" fill="#383838" transform="rotate(-90 94 517)">10<tspan font-size="6.2" dy="-3.8">5</tspan></text>
<text x="94" y="494.5" font-size="10" text-anchor="middle" fill="#383838" transform="rotate(-90 94 494.5)">10<tspan font-size="6.2" dy="-3.8">6</tspan></text>
<text x="94" y="472" font-size="10" text-anchor="middle" fill="#383838" transform="rotate(-90 94 472)">10<tspan font-size="6.2" dy="-3.8">7</tspan></text>
<text x="105" y="481" font-size="22.5">0.12%</text>
<text x="252.3" y="481.5" font-size="22.5" text-anchor="end">1.21%</text>
<text x="102" y="614.5" font-size="22.5">97.35%</text>
<text x="253.8" y="614.5" font-size="22.5" text-anchor="end">1.32%</text>
<rect x="279.3" y="462" width="154.8" height="155" fill="#fff" stroke="#999" stroke-width="1.3"/>
<g clip-path="url(#fc5)"><g filter="url(#spk)">
<ellipse cx="328" cy="552" rx="69" ry="28.8" fill="url(#gh)" transform="rotate(-20 328 552)"/>
<ellipse cx="328" cy="552" rx="45" ry="18" fill="url(#g3)" transform="rotate(-20 328 552)"/>
<ellipse cx="368" cy="537" rx="25.5" ry="22.5" fill="url(#g1)" transform="rotate(-30 368 537)"/>
<ellipse cx="352" cy="545" rx="15" ry="12" fill="url(#g1)" transform="rotate(-30 352 545)"/>
</g></g>
<line x1="352.4" y1="462" x2="352.4" y2="617" stroke="#666" stroke-width="1.3"/>
<line x1="279.3" y1="533.8" x2="434.1" y2="533.8" stroke="#666" stroke-width="1.3"/>
<line x1="279.3" y1="462" x2="279.3" y2="618" stroke="#555" stroke-width="1.4"/>
<line x1="278.3" y1="617" x2="434.1" y2="617" stroke="#666" stroke-width="1.4"/>
<path d="M279.3 614h-3M279.3 610.9h-3M279.3 607.8h-3M279.3 604.7h-3M279.3 601.6h-3M279.3 598.5h-3M279.3 595.4h-3M279.3 592.3h-3M279.3 589.2h-3M279.3 586.1h-3M279.3 583h-3M279.3 579.9h-3M279.3 576.8h-3M279.3 573.7h-3M279.3 570.6h-3M279.3 567.5h-3M279.3 564.4h-3M279.3 561.3h-3M279.3 558.2h-3M279.3 555.1h-3M279.3 552h-3M279.3 548.9h-3M279.3 545.8h-3M279.3 542.7h-3M279.3 539.6h-3M279.3 536.5h-3M279.3 533.4h-3M279.3 530.3h-3M279.3 527.2h-3M279.3 524.1h-3M279.3 521h-3M279.3 517.9h-3M279.3 514.8h-3M279.3 511.7h-3M279.3 508.6h-3M279.3 505.5h-3M279.3 502.4h-3M279.3 499.3h-3M279.3 496.2h-3M279.3 493.1h-3M279.3 490h-3M279.3 486.9h-3M279.3 483.8h-3M279.3 480.7h-3M279.3 477.6h-3M279.3 474.5h-3M279.3 471.4h-3M279.3 468.3h-3M279.3 465.2h-3M282.3 617v3M285.4 617v3M288.5 617v3M291.6 617v3M294.7 617v3M297.8 617v3M300.9 617v3M304 617v3M307.1 617v3M310.2 617v3M313.3 617v3M316.4 617v3M319.5 617v3M322.6 617v3M325.7 617v3M328.8 617v3M331.9 617v3M335 617v3M338.1 617v3M341.2 617v3M344.3 617v3M347.4 617v3M350.5 617v3M353.6 617v3M356.7 617v3M359.8 617v3M362.9 617v3M366 617v3M369.1 617v3M372.2 617v3M375.3 617v3M378.4 617v3M381.5 617v3M384.6 617v3M387.7 617v3M390.8 617v3M393.9 617v3M397 617v3M400.1 617v3M403.2 617v3M406.3 617v3M409.4 617v3M412.5 617v3M415.6 617v3M418.7 617v3M421.8 617v3M424.9 617v3M428 617v3M431.1 617v3" stroke="#777" stroke-width="0.9"/>
<text x="290.3" y="632" font-size="10.5" text-anchor="middle" fill="#383838">0</text>
<text x="317.3" y="632" font-size="10.5" text-anchor="middle" fill="#383838">10<tspan font-size="6.5" dy="-4">3</tspan></text>
<text x="344.2" y="632" font-size="10.5" text-anchor="middle" fill="#383838">10<tspan font-size="6.5" dy="-4">4</tspan></text>
<text x="371.2" y="632" font-size="10.5" text-anchor="middle" fill="#383838">10<tspan font-size="6.5" dy="-4">5</tspan></text>
<text x="398.1" y="632" font-size="10.5" text-anchor="middle" fill="#383838">10<tspan font-size="6.5" dy="-4">6</tspan></text>
<text x="425.1" y="632" font-size="10.5" text-anchor="middle" fill="#383838">10<tspan font-size="6.5" dy="-4">7</tspan></text>
<text x="270.3" y="607" font-size="10" text-anchor="middle" fill="#383838" transform="rotate(-90 270.3 607)">0</text>
<text x="270.3" y="584.5" font-size="10" text-anchor="middle" fill="#383838" transform="rotate(-90 270.3 584.5)">10<tspan font-size="6.2" dy="-3.8">2</tspan></text>
<text x="270.3" y="562" font-size="10" text-anchor="middle" fill="#383838" transform="rotate(-90 270.3 562)">10<tspan font-size="6.2" dy="-3.8">3</tspan></text>
<text x="270.3" y="539.5" font-size="10" text-anchor="middle" fill="#383838" transform="rotate(-90 270.3 539.5)">10<tspan font-size="6.2" dy="-3.8">4</tspan></text>
<text x="270.3" y="517" font-size="10" text-anchor="middle" fill="#383838" transform="rotate(-90 270.3 517)">10<tspan font-size="6.2" dy="-3.8">5</tspan></text>
<text x="270.3" y="494.5" font-size="10" text-anchor="middle" fill="#383838" transform="rotate(-90 270.3 494.5)">10<tspan font-size="6.2" dy="-3.8">6</tspan></text>
<text x="270.3" y="472" font-size="10" text-anchor="middle" fill="#383838" transform="rotate(-90 270.3 472)">10<tspan font-size="6.2" dy="-3.8">7</tspan></text>
<text x="281.3" y="481" font-size="22.5">1.18%</text>
<text x="430.1" y="481.5" font-size="22.5" text-anchor="end">7.26%</text>
<text x="278.3" y="614.5" font-size="22.5">79.16%</text>
<text x="431.6" y="614.5" font-size="22.5" text-anchor="end">12.40%</text>
<rect x="453.6" y="462" width="154.9" height="155" fill="#fff" stroke="#999" stroke-width="1.3"/>
<g clip-path="url(#fc6)"><g filter="url(#spk)">
<ellipse cx="509" cy="557" rx="64.4" ry="28.8" fill="url(#gh)" transform="rotate(-30 509 557)"/>
<ellipse cx="543" cy="525" rx="32.2" ry="19.2" fill="url(#gh)" transform="rotate(-30 543 525)"/>
<ellipse cx="509" cy="557" rx="42" ry="18" fill="url(#g3)" transform="rotate(-30 509 557)"/>
<ellipse cx="543" cy="525" rx="21" ry="12" fill="url(#g2)" transform="rotate(-30 543 525)"/>
<ellipse cx="545" cy="552" rx="15" ry="15" fill="url(#g1)"/>
<ellipse cx="528" cy="540" rx="15" ry="12" fill="url(#g1)" transform="rotate(-50 528 540)"/>
</g></g>
<line x1="528.8" y1="462" x2="528.8" y2="617" stroke="#666" stroke-width="1.3"/>
<line x1="453.6" y1="534.4" x2="608.5" y2="534.4" stroke="#666" stroke-width="1.3"/>
<line x1="453.6" y1="462" x2="453.6" y2="618" stroke="#555" stroke-width="1.4"/>
<line x1="452.6" y1="617" x2="608.5" y2="617" stroke="#666" stroke-width="1.4"/>
<path d="M453.6 614h-3M453.6 610.9h-3M453.6 607.8h-3M453.6 604.7h-3M453.6 601.6h-3M453.6 598.5h-3M453.6 595.4h-3M453.6 592.3h-3M453.6 589.2h-3M453.6 586.1h-3M453.6 583h-3M453.6 579.9h-3M453.6 576.8h-3M453.6 573.7h-3M453.6 570.6h-3M453.6 567.5h-3M453.6 564.4h-3M453.6 561.3h-3M453.6 558.2h-3M453.6 555.1h-3M453.6 552h-3M453.6 548.9h-3M453.6 545.8h-3M453.6 542.7h-3M453.6 539.6h-3M453.6 536.5h-3M453.6 533.4h-3M453.6 530.3h-3M453.6 527.2h-3M453.6 524.1h-3M453.6 521h-3M453.6 517.9h-3M453.6 514.8h-3M453.6 511.7h-3M453.6 508.6h-3M453.6 505.5h-3M453.6 502.4h-3M453.6 499.3h-3M453.6 496.2h-3M453.6 493.1h-3M453.6 490h-3M453.6 486.9h-3M453.6 483.8h-3M453.6 480.7h-3M453.6 477.6h-3M453.6 474.5h-3M453.6 471.4h-3M453.6 468.3h-3M453.6 465.2h-3M456.6 617v3M459.7 617v3M462.8 617v3M465.9 617v3M469 617v3M472.1 617v3M475.2 617v3M478.3 617v3M481.4 617v3M484.5 617v3M487.6 617v3M490.7 617v3M493.8 617v3M496.9 617v3M500 617v3M503.1 617v3M506.2 617v3M509.3 617v3M512.4 617v3M515.5 617v3M518.6 617v3M521.7 617v3M524.8 617v3M527.9 617v3M531 617v3M534.1 617v3M537.2 617v3M540.3 617v3M543.4 617v3M546.5 617v3M549.6 617v3M552.7 617v3M555.8 617v3M558.9 617v3M562 617v3M565.1 617v3M568.2 617v3M571.3 617v3M574.4 617v3M577.5 617v3M580.6 617v3M583.7 617v3M586.8 617v3M589.9 617v3M593 617v3M596.1 617v3M599.2 617v3M602.3 617v3M605.4 617v3" stroke="#777" stroke-width="0.9"/>
<text x="464.6" y="632" font-size="10.5" text-anchor="middle" fill="#383838">0</text>
<text x="491.6" y="632" font-size="10.5" text-anchor="middle" fill="#383838">10<tspan font-size="6.5" dy="-4">3</tspan></text>
<text x="518.6" y="632" font-size="10.5" text-anchor="middle" fill="#383838">10<tspan font-size="6.5" dy="-4">4</tspan></text>
<text x="545.5" y="632" font-size="10.5" text-anchor="middle" fill="#383838">10<tspan font-size="6.5" dy="-4">5</tspan></text>
<text x="572.5" y="632" font-size="10.5" text-anchor="middle" fill="#383838">10<tspan font-size="6.5" dy="-4">6</tspan></text>
<text x="599.5" y="632" font-size="10.5" text-anchor="middle" fill="#383838">10<tspan font-size="6.5" dy="-4">7</tspan></text>
<text x="444.6" y="607" font-size="10" text-anchor="middle" fill="#383838" transform="rotate(-90 444.6 607)">0</text>
<text x="444.6" y="584.5" font-size="10" text-anchor="middle" fill="#383838" transform="rotate(-90 444.6 584.5)">10<tspan font-size="6.2" dy="-3.8">2</tspan></text>
<text x="444.6" y="562" font-size="10" text-anchor="middle" fill="#383838" transform="rotate(-90 444.6 562)">10<tspan font-size="6.2" dy="-3.8">3</tspan></text>
<text x="444.6" y="539.5" font-size="10" text-anchor="middle" fill="#383838" transform="rotate(-90 444.6 539.5)">10<tspan font-size="6.2" dy="-3.8">4</tspan></text>
<text x="444.6" y="517" font-size="10" text-anchor="middle" fill="#383838" transform="rotate(-90 444.6 517)">10<tspan font-size="6.2" dy="-3.8">5</tspan></text>
<text x="444.6" y="494.5" font-size="10" text-anchor="middle" fill="#383838" transform="rotate(-90 444.6 494.5)">10<tspan font-size="6.2" dy="-3.8">6</tspan></text>
<text x="444.6" y="472" font-size="10" text-anchor="middle" fill="#383838" transform="rotate(-90 444.6 472)">10<tspan font-size="6.2" dy="-3.8">7</tspan></text>
<text x="455.6" y="481" font-size="22.5">3.32%</text>
<text x="604.5" y="481.5" font-size="22.5" text-anchor="end">23.21%</text>
<text x="452.6" y="614.5" font-size="22.5">59.04%</text>
<text x="606" y="614.5" font-size="22.5" text-anchor="end">14.43%</text>
<line x1="1026" y1="653" x2="1026" y2="270" stroke="#000" stroke-width="1.7"/>
<path d="M1019 282L1026 270L1033 282" stroke="#000" stroke-width="1.7" fill="none"/>
<line x1="1026" y1="653" x2="1632" y2="653" stroke="#000" stroke-width="1.7"/>
<path d="M1620 646L1632 653L1620 660" stroke="#000" stroke-width="1.7" fill="none"/>
<text x="1017.5" y="450.6" font-size="28" text-anchor="middle" transform="rotate(-90 1017.5 450.6)" textLength="81" lengthAdjust="spacingAndGlyphs">7-AAD</text>
<text x="1053" y="443.2" font-size="27" text-anchor="middle" transform="rotate(-90 1053 443.2)" textLength="107" lengthAdjust="spacingAndGlyphs">HCC827</text>
<line x1="1056" y1="385" x2="1056" y2="548" stroke="#000" stroke-width="1.7"/>
<text x="1077.5" y="387" font-size="27" text-anchor="middle" transform="rotate(-90 1077.5 387)" textLength="80" lengthAdjust="spacingAndGlyphs">Vector</text>
<text x="1079.7" y="554.6" font-size="27" text-anchor="middle" transform="rotate(-90 1079.7 554.6)" textLength="109" lengthAdjust="spacingAndGlyphs">CRTAC1</text>
<text x="1305" y="282" font-size="22" textLength="132" lengthAdjust="spacingAndGlyphs" xml:space="preserve" style="white-space:pre">CDDP  (μM)</text>
<line x1="1178" y1="291" x2="1537" y2="291" stroke="#000" stroke-width="1.7"/>
<text x="1155" y="308" font-size="24" text-anchor="middle">0</text>
<text x="1353" y="308" font-size="24" text-anchor="middle">10</text>
<text x="1553" y="308" font-size="24" text-anchor="middle">20</text>
<text x="1255" y="677.5" font-size="27" textLength="188" lengthAdjust="spacingAndGlyphs">Annexin V-APC</text>
<rect x="1094" y="312" width="159.4" height="153.7" fill="#fff" stroke="#999" stroke-width="1.3"/>
<g clip-path="url(#fc7)"><g filter="url(#spk)">
<ellipse cx="1150" cy="418" rx="57.5" ry="28.8" fill="url(#gh)" transform="rotate(-5 1150 418)"/>
<ellipse cx="1150" cy="418" rx="37.5" ry="18" fill="url(#g4)" transform="rotate(-5 1150 418)"/>
<ellipse cx="1170" cy="410" rx="16.5" ry="18" fill="url(#g1)"/>
<ellipse cx="1185" cy="380" rx="21" ry="27" fill="url(#g0)" transform="rotate(-30 1185 380)"/>
</g></g>
<line x1="1176.5" y1="312" x2="1176.5" y2="465.7" stroke="#666" stroke-width="1.3"/>
<line x1="1094" y1="390.4" x2="1253.4" y2="390.4" stroke="#666" stroke-width="1.3"/>
<line x1="1094" y1="312" x2="1094" y2="466.7" stroke="#555" stroke-width="1.4"/>
<line x1="1093" y1="465.7" x2="1253.4" y2="465.7" stroke="#666" stroke-width="1.4"/>
<path d="M1094 462.7h-3M1094 459.6h-3M1094 456.5h-3M1094 453.4h-3M1094 450.3h-3M1094 447.2h-3M1094 444.1h-3M1094 441h-3M1094 437.9h-3M1094 434.8h-3M1094 431.7h-3M1094 428.6h-3M1094 425.5h-3M1094 422.4h-3M1094 419.3h-3M1094 416.2h-3M1094 413.1h-3M1094 410h-3M1094 406.9h-3M1094 403.8h-3M1094 400.7h-3M1094 397.6h-3M1094 394.5h-3M1094 391.4h-3M1094 388.3h-3M1094 385.2h-3M1094 382.1h-3M1094 379h-3M1094 375.9h-3M1094 372.8h-3M1094 369.7h-3M1094 366.6h-3M1094 363.5h-3M1094 360.4h-3M1094 357.3h-3M1094 354.2h-3M1094 351.1h-3M1094 348h-3M1094 344.9h-3M1094 341.8h-3M1094 338.7h-3M1094 335.6h-3M1094 332.5h-3M1094 329.4h-3M1094 326.3h-3M1094 323.2h-3M1094 320.1h-3M1094 317h-3M1097 465.7v3M1100.1 465.7v3M1103.2 465.7v3M1106.3 465.7v3M1109.4 465.7v3M1112.5 465.7v3M1115.6 465.7v3M1118.7 465.7v3M1121.8 465.7v3M1124.9 465.7v3M1128 465.7v3M1131.1 465.7v3M1134.2 465.7v3M1137.3 465.7v3M1140.4 465.7v3M1143.5 465.7v3M1146.6 465.7v3M1149.7 465.7v3M1152.8 465.7v3M1155.9 465.7v3M1159 465.7v3M1162.1 465.7v3M1165.2 465.7v3M1168.3 465.7v3M1171.4 465.7v3M1174.5 465.7v3M1177.6 465.7v3M1180.7 465.7v3M1183.8 465.7v3M1186.9 465.7v3M1190 465.7v3M1193.1 465.7v3M1196.2 465.7v3M1199.3 465.7v3M1202.4 465.7v3M1205.5 465.7v3M1208.6 465.7v3M1211.7 465.7v3M1214.8 465.7v3M1217.9 465.7v3M1221 465.7v3M1224.1 465.7v3M1227.2 465.7v3M1230.3 465.7v3M1233.4 465.7v3M1236.5 465.7v3M1239.6 465.7v3M1242.7 465.7v3M1245.8 465.7v3M1248.9 465.7v3" stroke="#777" stroke-width="0.9"/>
<text x="1105" y="480.7" font-size="10.5" text-anchor="middle" fill="#383838">0</text>
<text x="1132.9" y="480.7" font-size="10.5" text-anchor="middle" fill="#383838">10<tspan font-size="6.5" dy="-4">3</tspan></text>
<text x="1160.8" y="480.7" font-size="10.5" text-anchor="middle" fill="#383838">10<tspan font-size="6.5" dy="-4">4</tspan></text>
<text x="1188.6" y="480.7" font-size="10.5" text-anchor="middle" fill="#383838">10<tspan font-size="6.5" dy="-4">5</tspan></text>
<text x="1216.5" y="480.7" font-size="10.5" text-anchor="middle" fill="#383838">10<tspan font-size="6.5" dy="-4">6</tspan></text>
<text x="1244.4" y="480.7" font-size="10.5" text-anchor="middle" fill="#383838">10<tspan font-size="6.5" dy="-4">7</tspan></text>
<text x="1089.7" y="455.7" font-size="10" text-anchor="middle" fill="#383838" transform="rotate(-90 1089.7 455.7)">0</text>
<text x="1089.7" y="433.4" font-size="10" text-anchor="middle" fill="#383838" transform="rotate(-90 1089.7 433.4)">10<tspan font-size="6.2" dy="-3.8">2</tspan></text>
<text x="1089.7" y="411.1" font-size="10" text-anchor="middle" fill="#383838" transform="rotate(-90 1089.7 411.1)">10<tspan font-size="6.2" dy="-3.8">3</tspan></text>
<text x="1089.7" y="388.9" font-size="10" text-anchor="middle" fill="#383838" transform="rotate(-90 1089.7 388.9)">10<tspan font-size="6.2" dy="-3.8">4</tspan></text>
<text x="1089.7" y="366.6" font-size="10" text-anchor="middle" fill="#383838" transform="rotate(-90 1089.7 366.6)">10<tspan font-size="6.2" dy="-3.8">5</tspan></text>
<text x="1089.7" y="344.3" font-size="10" text-anchor="middle" fill="#383838" transform="rotate(-90 1089.7 344.3)">10<tspan font-size="6.2" dy="-3.8">6</tspan></text>
<text x="1089.7" y="322" font-size="10" text-anchor="middle" fill="#383838" transform="rotate(-90 1089.7 322)">10<tspan font-size="6.2" dy="-3.8">7</tspan></text>
<text x="1097" y="330" font-size="22.5">0.59%</text>
<text x="1249.4" y="330.5" font-size="22.5" text-anchor="end">0.85%</text>
<text x="1095.5" y="463.2" font-size="22.5">96.64%</text>
<text x="1250.9" y="463.2" font-size="22.5" text-anchor="end">1.92%</text>
<rect x="1269.8" y="312" width="155.6" height="153.7" fill="#fff" stroke="#999" stroke-width="1.3"/>
<g clip-path="url(#fc8)"><g filter="url(#spk)">
<ellipse cx="1333" cy="413" rx="50.6" ry="31.2" fill="url(#gh)" transform="rotate(-25 1333 413)"/>
<ellipse cx="1333" cy="413" rx="33" ry="19.5" fill="url(#g3)" transform="rotate(-25 1333 413)"/>
<ellipse cx="1360" cy="380" rx="22.5" ry="10.5" fill="url(#g1)" transform="rotate(-30 1360 380)"/>
<ellipse cx="1350" cy="395" rx="15" ry="18" fill="url(#g0)" transform="rotate(-40 1350 395)"/>
</g></g>
<line x1="1351.4" y1="312" x2="1351.4" y2="465.7" stroke="#666" stroke-width="1.3"/>
<line x1="1269.8" y1="390.4" x2="1425.4" y2="390.4" stroke="#666" stroke-width="1.3"/>
<line x1="1269.8" y1="312" x2="1269.8" y2="466.7" stroke="#555" stroke-width="1.4"/>
<line x1="1268.8" y1="465.7" x2="1425.4" y2="465.7" stroke="#666" stroke-width="1.4"/>
<path d="M1269.8 462.7h-3M1269.8 459.6h-3M1269.8 456.5h-3M1269.8 453.4h-3M1269.8 450.3h-3M1269.8 447.2h-3M1269.8 444.1h-3M1269.8 441h-3M1269.8 437.9h-3M1269.8 434.8h-3M1269.8 431.7h-3M1269.8 428.6h-3M1269.8 425.5h-3M1269.8 422.4h-3M1269.8 419.3h-3M1269.8 416.2h-3M1269.8 413.1h-3M1269.8 410h-3M1269.8 406.9h-3M1269.8 403.8h-3M1269.8 400.7h-3M1269.8 397.6h-3M1269.8 394.5h-3M1269.8 391.4h-3M1269.8 388.3h-3M1269.8 385.2h-3M1269.8 382.1h-3M1269.8 379h-3M1269.8 375.9h-3M1269.8 372.8h-3M1269.8 369.7h-3M1269.8 366.6h-3M1269.8 363.5h-3M1269.8 360.4h-3M1269.8 357.3h-3M1269.8 354.2h-3M1269.8 351.1h-3M1269.8 348h-3M1269.8 344.9h-3M1269.8 341.8h-3M1269.8 338.7h-3M1269.8 335.6h-3M1269.8 332.5h-3M1269.8 329.4h-3M1269.8 326.3h-3M1269.8 323.2h-3M1269.8 320.1h-3M1269.8 317h-3M1272.8 465.7v3M1275.9 465.7v3M1279 465.7v3M1282.1 465.7v3M1285.2 465.7v3M1288.3 465.7v3M1291.4 465.7v3M1294.5 465.7v3M1297.6 465.7v3M1300.7 465.7v3M1303.8 465.7v3M1306.9 465.7v3M1310 465.7v3M1313.1 465.7v3M1316.2 465.7v3M1319.3 465.7v3M1322.4 465.7v3M1325.5 465.7v3M1328.6 465.7v3M1331.7 465.7v3M1334.8 465.7v3M1337.9 465.7v3M1341 465.7v3M1344.1 465.7v3M1347.2 465.7v3M1350.3 465.7v3M1353.4 465.7v3M1356.5 465.7v3M1359.6 465.7v3M1362.7 465.7v3M1365.8 465.7v3M1368.9 465.7v3M1372 465.7v3M1375.1 465.7v3M1378.2 465.7v3M1381.3 465.7v3M1384.4 465.7v3M1387.5 465.7v3M1390.6 465.7v3M1393.7 465.7v3M1396.8 465.7v3M1399.9 465.7v3M1403 465.7v3M1406.1 465.7v3M1409.2 465.7v3M1412.3 465.7v3M1415.4 465.7v3M1418.5 465.7v3M1421.6 465.7v3" stroke="#777" stroke-width="0.9"/>
<text x="1280.8" y="480.7" font-size="10.5" text-anchor="middle" fill="#383838">0</text>
<text x="1307.9" y="480.7" font-size="10.5" text-anchor="middle" fill="#383838">10<tspan font-size="6.5" dy="-4">3</tspan></text>
<text x="1335" y="480.7" font-size="10.5" text-anchor="middle" fill="#383838">10<tspan font-size="6.5" dy="-4">4</tspan></text>
<text x="1362.2" y="480.7" font-size="10.5" text-anchor="middle" fill="#383838">10<tspan font-size="6.5" dy="-4">5</tspan></text>
<text x="1389.3" y="480.7" font-size="10.5" text-anchor="middle" fill="#383838">10<tspan font-size="6.5" dy="-4">6</tspan></text>
<text x="1416.4" y="480.7" font-size="10.5" text-anchor="middle" fill="#383838">10<tspan font-size="6.5" dy="-4">7</tspan></text>
<text x="1265.5" y="455.7" font-size="10" text-anchor="middle" fill="#383838" transform="rotate(-90 1265.5 455.7)">0</text>
<text x="1265.5" y="433.4" font-size="10" text-anchor="middle" fill="#383838" transform="rotate(-90 1265.5 433.4)">10<tspan font-size="6.2" dy="-3.8">2</tspan></text>
<text x="1265.5" y="411.1" font-size="10" text-anchor="middle" fill="#383838" transform="rotate(-90 1265.5 411.1)">10<tspan font-size="6.2" dy="-3.8">3</tspan></text>
<text x="1265.5" y="388.9" font-size="10" text-anchor="middle" fill="#383838" transform="rotate(-90 1265.5 388.9)">10<tspan font-size="6.2" dy="-3.8">4</tspan></text>
<text x="1265.5" y="366.6" font-size="10" text-anchor="middle" fill="#383838" transform="rotate(-90 1265.5 366.6)">10<tspan font-size="6.2" dy="-3.8">5</tspan></text>
<text x="1265.5" y="344.3" font-size="10" text-anchor="middle" fill="#383838" transform="rotate(-90 1265.5 344.3)">10<tspan font-size="6.2" dy="-3.8">6</tspan></text>
<text x="1265.5" y="322" font-size="10" text-anchor="middle" fill="#383838" transform="rotate(-90 1265.5 322)">10<tspan font-size="6.2" dy="-3.8">7</tspan></text>
<text x="1272.8" y="330" font-size="22.5">1.29%</text>
<text x="1421.4" y="330.5" font-size="22.5" text-anchor="end">7.30%</text>
<text x="1271.3" y="463.2" font-size="22.5">87.46%</text>
<text x="1422.9" y="463.2" font-size="22.5" text-anchor="end">3.95%</text>
<rect x="1442.4" y="312" width="158.5" height="153.7" fill="#fff" stroke="#999" stroke-width="1.3"/>
<g clip-path="url(#fc9)"><g filter="url(#spk)">
<ellipse cx="1504" cy="418" rx="57.5" ry="28.8" fill="url(#gh)" transform="rotate(-25 1504 418)"/>
<ellipse cx="1504" cy="418" rx="37.5" ry="18" fill="url(#g3)" transform="rotate(-25 1504 418)"/>
<ellipse cx="1525" cy="395" rx="27" ry="18" fill="url(#g1)" transform="rotate(-50 1525 395)"/>
<ellipse cx="1539" cy="375" rx="18" ry="12" fill="url(#g1)" transform="rotate(-40 1539 375)"/>
</g></g>
<line x1="1525" y1="312" x2="1525" y2="465.7" stroke="#666" stroke-width="1.3"/>
<line x1="1442.4" y1="390.4" x2="1600.9" y2="390.4" stroke="#666" stroke-width="1.3"/>
<line x1="1442.4" y1="312" x2="1442.4" y2="466.7" stroke="#555" stroke-width="1.4"/>
<line x1="1441.4" y1="465.7" x2="1600.9" y2="465.7" stroke="#666" stroke-width="1.4"/>
<path d="M1442.4 462.7h-3M1442.4 459.6h-3M1442.4 456.5h-3M1442.4 453.4h-3M1442.4 450.3h-3M1442.4 447.2h-3M1442.4 444.1h-3M1442.4 441h-3M1442.4 437.9h-3M1442.4 434.8h-3M1442.4 431.7h-3M1442.4 428.6h-3M1442.4 425.5h-3M1442.4 422.4h-3M1442.4 419.3h-3M1442.4 416.2h-3M1442.4 413.1h-3M1442.4 410h-3M1442.4 406.9h-3M1442.4 403.8h-3M1442.4 400.7h-3M1442.4 397.6h-3M1442.4 394.5h-3M1442.4 391.4h-3M1442.4 388.3h-3M1442.4 385.2h-3M1442.4 382.1h-3M1442.4 379h-3M1442.4 375.9h-3M1442.4 372.8h-3M1442.4 369.7h-3M1442.4 366.6h-3M1442.4 363.5h-3M1442.4 360.4h-3M1442.4 357.3h-3M1442.4 354.2h-3M1442.4 351.1h-3M1442.4 348h-3M1442.4 344.9h-3M1442.4 341.8h-3M1442.4 338.7h-3M1442.4 335.6h-3M1442.4 332.5h-3M1442.4 329.4h-3M1442.4 326.3h-3M1442.4 323.2h-3M1442.4 320.1h-3M1442.4 317h-3M1445.4 465.7v3M1448.5 465.7v3M1451.6 465.7v3M1454.7 465.7v3M1457.8 465.7v3M1460.9 465.7v3M1464 465.7v3M1467.1 465.7v3M1470.2 465.7v3M1473.3 465.7v3M1476.4 465.7v3M1479.5 465.7v3M1482.6 465.7v3M1485.7 465.7v3M1488.8 465.7v3M1491.9 465.7v3M1495 465.7v3M1498.1 465.7v3M1501.2 465.7v3M1504.3 465.7v3M1507.4 465.7v3M1510.5 465.7v3M1513.6 465.7v3M1516.7 465.7v3M1519.8 465.7v3M1522.9 465.7v3M1526 465.7v3M1529.1 465.7v3M1532.2 465.7v3M1535.3 465.7v3M1538.4 465.7v3M1541.5 465.7v3M1544.6 465.7v3M1547.7 465.7v3M1550.8 465.7v3M1553.9 465.7v3M1557 465.7v3M1560.1 465.7v3M1563.2 465.7v3M1566.3 465.7v3M1569.4 465.7v3M1572.5 465.7v3M1575.6 465.7v3M1578.7 465.7v3M1581.8 465.7v3M1584.9 465.7v3M1588 465.7v3M1591.1 465.7v3M1594.2 465.7v3M1597.3 465.7v3" stroke="#777" stroke-width="0.9"/>
<text x="1453.4" y="480.7" font-size="10.5" text-anchor="middle" fill="#383838">0</text>
<text x="1481.1" y="480.7" font-size="10.5" text-anchor="middle" fill="#383838">10<tspan font-size="6.5" dy="-4">3</tspan></text>
<text x="1508.8" y="480.7" font-size="10.5" text-anchor="middle" fill="#383838">10<tspan font-size="6.5" dy="-4">4</tspan></text>
<text x="1536.5" y="480.7" font-size="10.5" text-anchor="middle" fill="#383838">10<tspan font-size="6.5" dy="-4">5</tspan></text>
<text x="1564.2" y="480.7" font-size="10.5" text-anchor="middle" fill="#383838">10<tspan font-size="6.5" dy="-4">6</tspan></text>
<text x="1591.9" y="480.7" font-size="10.5" text-anchor="middle" fill="#383838">10<tspan font-size="6.5" dy="-4">7</tspan></text>
<text x="1438.1" y="455.7" font-size="10" text-anchor="middle" fill="#383838" transform="rotate(-90 1438.1 455.7)">0</text>
<text x="1438.1" y="433.4" font-size="10" text-anchor="middle" fill="#383838" transform="rotate(-90 1438.1 433.4)">10<tspan font-size="6.2" dy="-3.8">2</tspan></text>
<text x="1438.1" y="411.1" font-size="10" text-anchor="middle" fill="#383838" transform="rotate(-90 1438.1 411.1)">10<tspan font-size="6.2" dy="-3.8">3</tspan></text>
<text x="1438.1" y="388.9" font-size="10" text-anchor="middle" fill="#383838" transform="rotate(-90 1438.1 388.9)">10<tspan font-size="6.2" dy="-3.8">4</tspan></text>
<text x="1438.1" y="366.6" font-size="10" text-anchor="middle" fill="#383838" transform="rotate(-90 1438.1 366.6)">10<tspan font-size="6.2" dy="-3.8">5</tspan></text>
<text x="1438.1" y="344.3" font-size="10" text-anchor="middle" fill="#383838" transform="rotate(-90 1438.1 344.3)">10<tspan font-size="6.2" dy="-3.8">6</tspan></text>
<text x="1438.1" y="322" font-size="10" text-anchor="middle" fill="#383838" transform="rotate(-90 1438.1 322)">10<tspan font-size="6.2" dy="-3.8">7</tspan></text>
<text x="1445.4" y="330" font-size="22.5">1.09%</text>
<text x="1596.9" y="330.5" font-size="22.5" text-anchor="end">13.49%</text>
<text x="1443.9" y="463.2" font-size="22.5">74.67%</text>
<text x="1598.4" y="463.2" font-size="22.5" text-anchor="end">10.75%</text>
<rect x="1094" y="485.2" width="159.4" height="151.3" fill="#fff" stroke="#999" stroke-width="1.3"/>
<g clip-path="url(#fc10)"><g filter="url(#spk)">
<ellipse cx="1142" cy="581" rx="73.6" ry="31.2" fill="url(#gh)"/>
<ellipse cx="1142" cy="581" rx="48" ry="19.5" fill="url(#g4)"/>
<ellipse cx="1172" cy="578" rx="15" ry="21" fill="url(#g1)"/>
<ellipse cx="1172" cy="545" rx="15" ry="33" fill="url(#g0)"/>
</g></g>
<line x1="1176.5" y1="485.2" x2="1176.5" y2="636.5" stroke="#666" stroke-width="1.3"/>
<line x1="1094" y1="558" x2="1253.4" y2="558" stroke="#666" stroke-width="1.3"/>
<line x1="1094" y1="485.2" x2="1094" y2="637.5" stroke="#555" stroke-width="1.4"/>
<line x1="1093" y1="636.5" x2="1253.4" y2="636.5" stroke="#666" stroke-width="1.4"/>
<path d="M1094 633.5h-3M1094 630.4h-3M1094 627.3h-3M1094 624.2h-3M1094 621.1h-3M1094 618h-3M1094 614.9h-3M1094 611.8h-3M1094 608.7h-3M1094 605.6h-3M1094 602.5h-3M1094 599.4h-3M1094 596.3h-3M1094 593.2h-3M1094 590.1h-3M1094 587h-3M1094 583.9h-3M1094 580.8h-3M1094 577.7h-3M1094 574.6h-3M1094 571.5h-3M1094 568.4h-3M1094 565.3h-3M1094 562.2h-3M1094 559.1h-3M1094 556h-3M1094 552.9h-3M1094 549.8h-3M1094 546.7h-3M1094 543.6h-3M1094 540.5h-3M1094 537.4h-3M1094 534.3h-3M1094 531.2h-3M1094 528.1h-3M1094 525h-3M1094 521.9h-3M1094 518.8h-3M1094 515.7h-3M1094 512.6h-3M1094 509.5h-3M1094 506.4h-3M1094 503.3h-3M1094 500.2h-3M1094 497.1h-3M1094 494h-3M1094 490.9h-3M1094 487.8h-3M1097 636.5v3M1100.1 636.5v3M1103.2 636.5v3M1106.3 636.5v3M1109.4 636.5v3M1112.5 636.5v3M1115.6 636.5v3M1118.7 636.5v3M1121.8 636.5v3M1124.9 636.5v3M1128 636.5v3M1131.1 636.5v3M1134.2 636.5v3M1137.3 636.5v3M1140.4 636.5v3M1143.5 636.5v3M1146.6 636.5v3M1149.7 636.5v3M1152.8 636.5v3M1155.9 636.5v3M1159 636.5v3M1162.1 636.5v3M1165.2 636.5v3M1168.3 636.5v3M1171.4 636.5v3M1174.5 636.5v3M1177.6 636.5v3M1180.7 636.5v3M1183.8 636.5v3M1186.9 636.5v3M1190 636.5v3M1193.1 636.5v3M1196.2 636.5v3M1199.3 636.5v3M1202.4 636.5v3M1205.5 636.5v3M1208.6 636.5v3M1211.7 636.5v3M1214.8 636.5v3M1217.9 636.5v3M1221 636.5v3M1224.1 636.5v3M1227.2 636.5v3M1230.3 636.5v3M1233.4 636.5v3M1236.5 636.5v3M1239.6 636.5v3M1242.7 636.5v3M1245.8 636.5v3M1248.9 636.5v3" stroke="#777" stroke-width="0.9"/>
<text x="1105" y="651.5" font-size="10.5" text-anchor="middle" fill="#383838">0</text>
<text x="1132.9" y="651.5" font-size="10.5" text-anchor="middle" fill="#383838">10<tspan font-size="6.5" dy="-4">3</tspan></text>
<text x="1160.8" y="651.5" font-size="10.5" text-anchor="middle" fill="#383838">10<tspan font-size="6.5" dy="-4">4</tspan></text>
<text x="1188.6" y="651.5" font-size="10.5" text-anchor="middle" fill="#383838">10<tspan font-size="6.5" dy="-4">5</tspan></text>
<text x="1216.5" y="651.5" font-size="10.5" text-anchor="middle" fill="#383838">10<tspan font-size="6.5" dy="-4">6</tspan></text>
<text x="1244.4" y="651.5" font-size="10.5" text-anchor="middle" fill="#383838">10<tspan font-size="6.5" dy="-4">7</tspan></text>
<text x="1089.7" y="626.5" font-size="10" text-anchor="middle" fill="#383838" transform="rotate(-90 1089.7 626.5)">0</text>
<text x="1089.7" y="604.6" font-size="10" text-anchor="middle" fill="#383838" transform="rotate(-90 1089.7 604.6)">10<tspan font-size="6.2" dy="-3.8">2</tspan></text>
<text x="1089.7" y="582.7" font-size="10" text-anchor="middle" fill="#383838" transform="rotate(-90 1089.7 582.7)">10<tspan font-size="6.2" dy="-3.8">3</tspan></text>
<text x="1089.7" y="560.9" font-size="10" text-anchor="middle" fill="#383838" transform="rotate(-90 1089.7 560.9)">10<tspan font-size="6.2" dy="-3.8">4</tspan></text>
<text x="1089.7" y="539" font-size="10" text-anchor="middle" fill="#383838" transform="rotate(-90 1089.7 539)">10<tspan font-size="6.2" dy="-3.8">5</tspan></text>
<text x="1089.7" y="517.1" font-size="10" text-anchor="middle" fill="#383838" transform="rotate(-90 1089.7 517.1)">10<tspan font-size="6.2" dy="-3.8">6</tspan></text>
<text x="1089.7" y="495.2" font-size="10" text-anchor="middle" fill="#383838" transform="rotate(-90 1089.7 495.2)">10<tspan font-size="6.2" dy="-3.8">7</tspan></text>
<text x="1097" y="503.2" font-size="22.5">1.15%</text>
<text x="1249.4" y="503.7" font-size="22.5" text-anchor="end">0.42%</text>
<text x="1095.5" y="634" font-size="22.5">95.07%</text>
<text x="1250.9" y="634" font-size="22.5" text-anchor="end">3.36%</text>
<rect x="1269.8" y="485.2" width="155.6" height="151.3" fill="#fff" stroke="#999" stroke-width="1.3"/>
<g clip-path="url(#fc11)"><g filter="url(#spk)">
<ellipse cx="1337" cy="576" rx="55.2" ry="28.8" fill="url(#gh)" transform="rotate(-25 1337 576)"/>
<ellipse cx="1337" cy="576" rx="36" ry="18" fill="url(#g3)" transform="rotate(-25 1337 576)"/>
<ellipse cx="1365" cy="543" rx="21" ry="10.5" fill="url(#g1)" transform="rotate(-30 1365 543)"/>
<ellipse cx="1355" cy="560" rx="15" ry="15" fill="url(#g0)" transform="rotate(-40 1355 560)"/>
</g></g>
<line x1="1351.4" y1="485.2" x2="1351.4" y2="636.5" stroke="#666" stroke-width="1.3"/>
<line x1="1269.8" y1="558" x2="1425.4" y2="558" stroke="#666" stroke-width="1.3"/>
<line x1="1269.8" y1="485.2" x2="1269.8" y2="637.5" stroke="#555" stroke-width="1.4"/>
<line x1="1268.8" y1="636.5" x2="1425.4" y2="636.5" stroke="#666" stroke-width="1.4"/>
<path d="M1269.8 633.5h-3M1269.8 630.4h-3M1269.8 627.3h-3M1269.8 624.2h-3M1269.8 621.1h-3M1269.8 618h-3M1269.8 614.9h-3M1269.8 611.8h-3M1269.8 608.7h-3M1269.8 605.6h-3M1269.8 602.5h-3M1269.8 599.4h-3M1269.8 596.3h-3M1269.8 593.2h-3M1269.8 590.1h-3M1269.8 587h-3M1269.8 583.9h-3M1269.8 580.8h-3M1269.8 577.7h-3M1269.8 574.6h-3M1269.8 571.5h-3M1269.8 568.4h-3M1269.8 565.3h-3M1269.8 562.2h-3M1269.8 559.1h-3M1269.8 556h-3M1269.8 552.9h-3M1269.8 549.8h-3M1269.8 546.7h-3M1269.8 543.6h-3M1269.8 540.5h-3M1269.8 537.4h-3M1269.8 534.3h-3M1269.8 531.2h-3M1269.8 528.1h-3M1269.8 525h-3M1269.8 521.9h-3M1269.8 518.8h-3M1269.8 515.7h-3M1269.8 512.6h-3M1269.8 509.5h-3M1269.8 506.4h-3M1269.8 503.3h-3M1269.8 500.2h-3M1269.8 497.1h-3M1269.8 494h-3M1269.8 490.9h-3M1269.8 487.8h-3M1272.8 636.5v3M1275.9 636.5v3M1279 636.5v3M1282.1 636.5v3M1285.2 636.5v3M1288.3 636.5v3M1291.4 636.5v3M1294.5 636.5v3M1297.6 636.5v3M1300.7 636.5v3M1303.8 636.5v3M1306.9 636.5v3M1310 636.5v3M1313.1 636.5v3M1316.2 636.5v3M1319.3 636.5v3M1322.4 636.5v3M1325.5 636.5v3M1328.6 636.5v3M1331.7 636.5v3M1334.8 636.5v3M1337.9 636.5v3M1341 636.5v3M1344.1 636.5v3M1347.2 636.5v3M1350.3 636.5v3M1353.4 636.5v3M1356.5 636.5v3M1359.6 636.5v3M1362.7 636.5v3M1365.8 636.5v3M1368.9 636.5v3M1372 636.5v3M1375.1 636.5v3M1378.2 636.5v3M1381.3 636.5v3M1384.4 636.5v3M1387.5 636.5v3M1390.6 636.5v3M1393.7 636.5v3M1396.8 636.5v3M1399.9 636.5v3M1403 636.5v3M1406.1 636.5v3M1409.2 636.5v3M1412.3 636.5v3M1415.4 636.5v3M1418.5 636.5v3M1421.6 636.5v3" stroke="#777" stroke-width="0.9"/>
<text x="1280.8" y="651.5" font-size="10.5" text-anchor="middle" fill="#383838">0</text>
<text x="1307.9" y="651.5" font-size="10.5" text-anchor="middle" fill="#383838">10<tspan font-size="6.5" dy="-4">3</tspan></text>
<text x="1335" y="651.5" font-size="10.5" text-anchor="middle" fill="#383838">10<tspan font-size="6.5" dy="-4">4</tspan></text>
<text x="1362.2" y="651.5" font-size="10.5" text-anchor="middle" fill="#383838">10<tspan font-size="6.5" dy="-4">5</tspan></text>
<text x="1389.3" y="651.5" font-size="10.5" text-anchor="middle" fill="#383838">10<tspan font-size="6.5" dy="-4">6</tspan></text>
<text x="1416.4" y="651.5" font-size="10.5" text-anchor="middle" fill="#383838">10<tspan font-size="6.5" dy="-4">7</tspan></text>
<text x="1265.5" y="626.5" font-size="10" text-anchor="middle" fill="#383838" transform="rotate(-90 1265.5 626.5)">0</text>
<text x="1265.5" y="604.6" font-size="10" text-anchor="middle" fill="#383838" transform="rotate(-90 1265.5 604.6)">10<tspan font-size="6.2" dy="-3.8">2</tspan></text>
<text x="1265.5" y="582.7" font-size="10" text-anchor="middle" fill="#383838" transform="rotate(-90 1265.5 582.7)">10<tspan font-size="6.2" dy="-3.8">3</tspan></text>
<text x="1265.5" y="560.9" font-size="10" text-anchor="middle" fill="#383838" transform="rotate(-90 1265.5 560.9)">10<tspan font-size="6.2" dy="-3.8">4</tspan></text>
<text x="1265.5" y="539" font-size="10" text-anchor="middle" fill="#383838" transform="rotate(-90 1265.5 539)">10<tspan font-size="6.2" dy="-3.8">5</tspan></text>
<text x="1265.5" y="517.1" font-size="10" text-anchor="middle" fill="#383838" transform="rotate(-90 1265.5 517.1)">10<tspan font-size="6.2" dy="-3.8">6</tspan></text>
<text x="1265.5" y="495.2" font-size="10" text-anchor="middle" fill="#383838" transform="rotate(-90 1265.5 495.2)">10<tspan font-size="6.2" dy="-3.8">7</tspan></text>
<text x="1272.8" y="503.2" font-size="22.5">1.44%</text>
<text x="1421.4" y="503.7" font-size="22.5" text-anchor="end">11.41%</text>
<text x="1271.3" y="634" font-size="22.5">81.15%</text>
<text x="1422.9" y="634" font-size="22.5" text-anchor="end">6.00%</text>
<rect x="1442.4" y="485.2" width="158.5" height="151.3" fill="#fff" stroke="#999" stroke-width="1.3"/>
<g clip-path="url(#fc12)"><g filter="url(#spk)">
<ellipse cx="1514" cy="573" rx="50.6" ry="28.8" fill="url(#gh)" transform="rotate(-40 1514 573)"/>
<ellipse cx="1539" cy="545" rx="27.6" ry="19.2" fill="url(#gh)" transform="rotate(-40 1539 545)"/>
<ellipse cx="1514" cy="573" rx="33" ry="18" fill="url(#g3)" transform="rotate(-40 1514 573)"/>
<ellipse cx="1539" cy="545" rx="18" ry="12" fill="url(#g2)" transform="rotate(-40 1539 545)"/>
<ellipse cx="1528" cy="560" rx="15" ry="15" fill="url(#g1)" transform="rotate(-45 1528 560)"/>
</g></g>
<line x1="1525" y1="485.2" x2="1525" y2="636.5" stroke="#666" stroke-width="1.3"/>
<line x1="1442.4" y1="558" x2="1600.9" y2="558" stroke="#666" stroke-width="1.3"/>
<line x1="1442.4" y1="485.2" x2="1442.4" y2="637.5" stroke="#555" stroke-width="1.4"/>
<line x1="1441.4" y1="636.5" x2="1600.9" y2="636.5" stroke="#666" stroke-width="1.4"/>
<path d="M1442.4 633.5h-3M1442.4 630.4h-3M1442.4 627.3h-3M1442.4 624.2h-3M1442.4 621.1h-3M1442.4 618h-3M1442.4 614.9h-3M1442.4 611.8h-3M1442.4 608.7h-3M1442.4 605.6h-3M1442.4 602.5h-3M1442.4 599.4h-3M1442.4 596.3h-3M1442.4 593.2h-3M1442.4 590.1h-3M1442.4 587h-3M1442.4 583.9h-3M1442.4 580.8h-3M1442.4 577.7h-3M1442.4 574.6h-3M1442.4 571.5h-3M1442.4 568.4h-3M1442.4 565.3h-3M1442.4 562.2h-3M1442.4 559.1h-3M1442.4 556h-3M1442.4 552.9h-3M1442.4 549.8h-3M1442.4 546.7h-3M1442.4 543.6h-3M1442.4 540.5h-3M1442.4 537.4h-3M1442.4 534.3h-3M1442.4 531.2h-3M1442.4 528.1h-3M1442.4 525h-3M1442.4 521.9h-3M1442.4 518.8h-3M1442.4 515.7h-3M1442.4 512.6h-3M1442.4 509.5h-3M1442.4 506.4h-3M1442.4 503.3h-3M1442.4 500.2h-3M1442.4 497.1h-3M1442.4 494h-3M1442.4 490.9h-3M1442.4 487.8h-3M1445.4 636.5v3M1448.5 636.5v3M1451.6 636.5v3M1454.7 636.5v3M1457.8 636.5v3M1460.9 636.5v3M1464 636.5v3M1467.1 636.5v3M1470.2 636.5v3M1473.3 636.5v3M1476.4 636.5v3M1479.5 636.5v3M1482.6 636.5v3M1485.7 636.5v3M1488.8 636.5v3M1491.9 636.5v3M1495 636.5v3M1498.1 636.5v3M1501.2 636.5v3M1504.3 636.5v3M1507.4 636.5v3M1510.5 636.5v3M1513.6 636.5v3M1516.7 636.5v3M1519.8 636.5v3M1522.9 636.5v3M1526 636.5v3M1529.1 636.5v3M1532.2 636.5v3M1535.3 636.5v3M1538.4 636.5v3M1541.5 636.5v3M1544.6 636.5v3M1547.7 636.5v3M1550.8 636.5v3M1553.9 636.5v3M1557 636.5v3M1560.1 636.5v3M1563.2 636.5v3M1566.3 636.5v3M1569.4 636.5v3M1572.5 636.5v3M1575.6 636.5v3M1578.7 636.5v3M1581.8 636.5v3M1584.9 636.5v3M1588 636.5v3M1591.1 636.5v3M1594.2 636.5v3M1597.3 636.5v3" stroke="#777" stroke-width="0.9"/>
<text x="1453.4" y="651.5" font-size="10.5" text-anchor="middle" fill="#383838">0</text>
<text x="1481.1" y="651.5" font-size="10.5" text-anchor="middle" fill="#383838">10<tspan font-size="6.5" dy="-4">3</tspan></text>
<text x="1508.8" y="651.5" font-size="10.5" text-anchor="middle" fill="#383838">10<tspan font-size="6.5" dy="-4">4</tspan></text>
<text x="1536.5" y="651.5" font-size="10.5" text-anchor="middle" fill="#383838">10<tspan font-size="6.5" dy="-4">5</tspan></text>
<text x="1564.2" y="651.5" font-size="10.5" text-anchor="middle" fill="#383838">10<tspan font-size="6.5" dy="-4">6</tspan></text>
<text x="1591.9" y="651.5" font-size="10.5" text-anchor="middle" fill="#383838">10<tspan font-size="6.5" dy="-4">7</tspan></text>
<text x="1438.1" y="626.5" font-size="10" text-anchor="middle" fill="#383838" transform="rotate(-90 1438.1 626.5)">0</text>
<text x="1438.1" y="604.6" font-size="10" text-anchor="middle" fill="#383838" transform="rotate(-90 1438.1 604.6)">10<tspan font-size="6.2" dy="-3.8">2</tspan></text>
<text x="1438.1" y="582.7" font-size="10" text-anchor="middle" fill="#383838" transform="rotate(-90 1438.1 582.7)">10<tspan font-size="6.2" dy="-3.8">3</tspan></text>
<text x="1438.1" y="560.9" font-size="10" text-anchor="middle" fill="#383838" transform="rotate(-90 1438.1 560.9)">10<tspan font-size="6.2" dy="-3.8">4</tspan></text>
<text x="1438.1" y="539" font-size="10" text-anchor="middle" fill="#383838" transform="rotate(-90 1438.1 539)">10<tspan font-size="6.2" dy="-3.8">5</tspan></text>
<text x="1438.1" y="517.1" font-size="10" text-anchor="middle" fill="#383838" transform="rotate(-90 1438.1 517.1)">10<tspan font-size="6.2" dy="-3.8">6</tspan></text>
<text x="1438.1" y="495.2" font-size="10" text-anchor="middle" fill="#383838" transform="rotate(-90 1438.1 495.2)">10<tspan font-size="6.2" dy="-3.8">7</tspan></text>
<text x="1445.4" y="503.2" font-size="22.5">3.29%</text>
<text x="1596.9" y="503.7" font-size="22.5" text-anchor="end">32.27%</text>
<text x="1443.9" y="634" font-size="22.5">56.93%</text>
<text x="1598.4" y="634" font-size="22.5" text-anchor="end">7.51%</text>
<line x1="28" y1="1075" x2="28" y2="692" stroke="#000" stroke-width="1.7"/>
<path d="M21 704L28 692L35 704" stroke="#000" stroke-width="1.7" fill="none"/>
<line x1="28" y1="1075" x2="635" y2="1075" stroke="#000" stroke-width="1.7"/>
<path d="M623 1068L635 1075L623 1082" stroke="#000" stroke-width="1.7" fill="none"/>
<text x="26.7" y="874" font-size="28" text-anchor="middle" transform="rotate(-90 26.7 874)" textLength="82" lengthAdjust="spacingAndGlyphs">7-AAD</text>
<text x="50.6" y="871.8" font-size="26" text-anchor="middle" transform="rotate(-90 50.6 871.8)" textLength="65" lengthAdjust="spacingAndGlyphs">H226</text>
<line x1="54.6" y1="800.6" x2="54.6" y2="963.2" stroke="#000" stroke-width="1.7"/>
<text x="76.6" y="809.6" font-size="27" text-anchor="middle" transform="rotate(-90 76.6 809.6)" textLength="82" lengthAdjust="spacingAndGlyphs">Vector</text>
<text x="75.9" y="975" font-size="27" text-anchor="middle" transform="rotate(-90 75.9 975)" textLength="106" lengthAdjust="spacingAndGlyphs">CRTAC1</text>
<text x="302" y="693" font-size="22" textLength="131" lengthAdjust="spacingAndGlyphs" xml:space="preserve" style="white-space:pre">CDDP  (μM)</text>
<line x1="168" y1="702" x2="527" y2="702" stroke="#000" stroke-width="1.7"/>
<text x="147" y="722" font-size="24" text-anchor="middle">0</text>
<text x="343" y="722" font-size="24" text-anchor="middle">10</text>
<text x="540" y="722" font-size="24" text-anchor="middle">20</text>
<text x="267" y="1103.5" font-size="27" textLength="188" lengthAdjust="spacingAndGlyphs">Annexin V-APC</text>
<rect x="97" y="725.2" width="157.8" height="157.2" fill="#fff" stroke="#999" stroke-width="1.3"/>
<g clip-path="url(#fc13)"><g filter="url(#spk)">
<ellipse cx="135" cy="828" rx="82.8" ry="40.8" fill="url(#gh)" transform="rotate(-8 135 828)"/>
<ellipse cx="135" cy="828" rx="54" ry="25.5" fill="url(#g2)" transform="rotate(-8 135 828)"/>
<ellipse cx="112" cy="832" rx="27" ry="18" fill="url(#g1)"/>
<ellipse cx="140" cy="850" rx="18" ry="21" fill="url(#g0)"/>
</g></g>
<line x1="171.2" y1="725.2" x2="171.2" y2="882.4" stroke="#666" stroke-width="1.3"/>
<line x1="97" y1="802.7" x2="254.8" y2="802.7" stroke="#666" stroke-width="1.3"/>
<line x1="97" y1="725.2" x2="97" y2="883.4" stroke="#555" stroke-width="1.4"/>
<line x1="96" y1="882.4" x2="254.8" y2="882.4" stroke="#666" stroke-width="1.4"/>
<path d="M97 879.4h-3M97 876.3h-3M97 873.2h-3M97 870.1h-3M97 867h-3M97 863.9h-3M97 860.8h-3M97 857.7h-3M97 854.6h-3M97 851.5h-3M97 848.4h-3M97 845.3h-3M97 842.2h-3M97 839.1h-3M97 836h-3M97 832.9h-3M97 829.8h-3M97 826.7h-3M97 823.6h-3M97 820.5h-3M97 817.4h-3M97 814.3h-3M97 811.2h-3M97 808.1h-3M97 805h-3M97 801.9h-3M97 798.8h-3M97 795.7h-3M97 792.6h-3M97 789.5h-3M97 786.4h-3M97 783.3h-3M97 780.2h-3M97 777.1h-3M97 774h-3M97 770.9h-3M97 767.8h-3M97 764.7h-3M97 761.6h-3M97 758.5h-3M97 755.4h-3M97 752.3h-3M97 749.2h-3M97 746.1h-3M97 743h-3M97 739.9h-3M97 736.8h-3M97 733.7h-3M97 730.6h-3M97 727.5h-3M100 882.4v3M103.1 882.4v3M106.2 882.4v3M109.3 882.4v3M112.4 882.4v3M115.5 882.4v3M118.6 882.4v3M121.7 882.4v3M124.8 882.4v3M127.9 882.4v3M131 882.4v3M134.1 882.4v3M137.2 882.4v3M140.3 882.4v3M143.4 882.4v3M146.5 882.4v3M149.6 882.4v3M152.7 882.4v3M155.8 882.4v3M158.9 882.4v3M162 882.4v3M165.1 882.4v3M168.2 882.4v3M171.3 882.4v3M174.4 882.4v3M177.5 882.4v3M180.6 882.4v3M183.7 882.4v3M186.8 882.4v3M189.9 882.4v3M193 882.4v3M196.1 882.4v3M199.2 882.4v3M202.3 882.4v3M205.4 882.4v3M208.5 882.4v3M211.6 882.4v3M214.7 882.4v3M217.8 882.4v3M220.9 882.4v3M224 882.4v3M227.1 882.4v3M230.2 882.4v3M233.3 882.4v3M236.4 882.4v3M239.5 882.4v3M242.6 882.4v3M245.7 882.4v3M248.8 882.4v3M251.9 882.4v3" stroke="#777" stroke-width="0.9"/>
<text x="108" y="897.4" font-size="10.5" text-anchor="middle" fill="#383838">0</text>
<text x="131" y="897.4" font-size="10.5" text-anchor="middle" fill="#383838">10<tspan font-size="6.5" dy="-4">2</tspan></text>
<text x="153.9" y="897.4" font-size="10.5" text-anchor="middle" fill="#383838">10<tspan font-size="6.5" dy="-4">3</tspan></text>
<text x="176.9" y="897.4" font-size="10.5" text-anchor="middle" fill="#383838">10<tspan font-size="6.5" dy="-4">4</tspan></text>
<text x="199.9" y="897.4" font-size="10.5" text-anchor="middle" fill="#383838">10<tspan font-size="6.5" dy="-4">5</tspan></text>
<text x="222.8" y="897.4" font-size="10.5" text-anchor="middle" fill="#383838">10<tspan font-size="6.5" dy="-4">6</tspan></text>
<text x="245.8" y="897.4" font-size="10.5" text-anchor="middle" fill="#383838">10<tspan font-size="6.5" dy="-4">7</tspan></text>
<text x="91" y="872.4" font-size="10" text-anchor="middle" fill="#383838" transform="rotate(-90 91 872.4)">0</text>
<text x="91" y="849.5" font-size="10" text-anchor="middle" fill="#383838" transform="rotate(-90 91 849.5)">10<tspan font-size="6.2" dy="-3.8">2</tspan></text>
<text x="91" y="826.7" font-size="10" text-anchor="middle" fill="#383838" transform="rotate(-90 91 826.7)">10<tspan font-size="6.2" dy="-3.8">3</tspan></text>
<text x="91" y="803.8" font-size="10" text-anchor="middle" fill="#383838" transform="rotate(-90 91 803.8)">10<tspan font-size="6.2" dy="-3.8">4</tspan></text>
<text x="91" y="780.9" font-size="10" text-anchor="middle" fill="#383838" transform="rotate(-90 91 780.9)">10<tspan font-size="6.2" dy="-3.8">5</tspan></text>
<text x="91" y="758.1" font-size="10" text-anchor="middle" fill="#383838" transform="rotate(-90 91 758.1)">10<tspan font-size="6.2" dy="-3.8">6</tspan></text>
<text x="91" y="735.2" font-size="10" text-anchor="middle" fill="#383838" transform="rotate(-90 91 735.2)">10<tspan font-size="6.2" dy="-3.8">7</tspan></text>
<text x="101" y="744.2" font-size="22.5">0.21%</text>
<text x="250.8" y="744.7" font-size="22.5" text-anchor="end">0.22%</text>
<text x="98" y="879.9" font-size="22.5">99.50%</text>
<text x="252.3" y="879.9" font-size="22.5" text-anchor="end">0.07%</text>
<rect x="272.3" y="725.2" width="159.8" height="157.2" fill="#fff" stroke="#999" stroke-width="1.3"/>
<g clip-path="url(#fc14)"><g filter="url(#spk)">
<ellipse cx="334" cy="819" rx="50.6" ry="28.8" fill="url(#gh)" transform="rotate(-20 334 819)"/>
<ellipse cx="360" cy="789" rx="41.4" ry="21.6" fill="url(#gh)" transform="rotate(-10 360 789)"/>
<ellipse cx="334" cy="819" rx="33" ry="18" fill="url(#g3)" transform="rotate(-20 334 819)"/>
<ellipse cx="360" cy="789" rx="27" ry="13.5" fill="url(#g2)" transform="rotate(-10 360 789)"/>
</g></g>
<line x1="347.4" y1="725.2" x2="347.4" y2="882.4" stroke="#666" stroke-width="1.3"/>
<line x1="272.3" y1="802.7" x2="432.1" y2="802.7" stroke="#666" stroke-width="1.3"/>
<line x1="272.3" y1="725.2" x2="272.3" y2="883.4" stroke="#555" stroke-width="1.4"/>
<line x1="271.3" y1="882.4" x2="432.1" y2="882.4" stroke="#666" stroke-width="1.4"/>
<path d="M272.3 879.4h-3M272.3 876.3h-3M272.3 873.2h-3M272.3 870.1h-3M272.3 867h-3M272.3 863.9h-3M272.3 860.8h-3M272.3 857.7h-3M272.3 854.6h-3M272.3 851.5h-3M272.3 848.4h-3M272.3 845.3h-3M272.3 842.2h-3M272.3 839.1h-3M272.3 836h-3M272.3 832.9h-3M272.3 829.8h-3M272.3 826.7h-3M272.3 823.6h-3M272.3 820.5h-3M272.3 817.4h-3M272.3 814.3h-3M272.3 811.2h-3M272.3 808.1h-3M272.3 805h-3M272.3 801.9h-3M272.3 798.8h-3M272.3 795.7h-3M272.3 792.6h-3M272.3 789.5h-3M272.3 786.4h-3M272.3 783.3h-3M272.3 780.2h-3M272.3 777.1h-3M272.3 774h-3M272.3 770.9h-3M272.3 767.8h-3M272.3 764.7h-3M272.3 761.6h-3M272.3 758.5h-3M272.3 755.4h-3M272.3 752.3h-3M272.3 749.2h-3M272.3 746.1h-3M272.3 743h-3M272.3 739.9h-3M272.3 736.8h-3M272.3 733.7h-3M272.3 730.6h-3M272.3 727.5h-3M275.3 882.4v3M278.4 882.4v3M281.5 882.4v3M284.6 882.4v3M287.7 882.4v3M290.8 882.4v3M293.9 882.4v3M297 882.4v3M300.1 882.4v3M303.2 882.4v3M306.3 882.4v3M309.4 882.4v3M312.5 882.4v3M315.6 882.4v3M318.7 882.4v3M321.8 882.4v3M324.9 882.4v3M328 882.4v3M331.1 882.4v3M334.2 882.4v3M337.3 882.4v3M340.4 882.4v3M343.5 882.4v3M346.6 882.4v3M349.7 882.4v3M352.8 882.4v3M355.9 882.4v3M359 882.4v3M362.1 882.4v3M365.2 882.4v3M368.3 882.4v3M371.4 882.4v3M374.5 882.4v3M377.6 882.4v3M380.7 882.4v3M383.8 882.4v3M386.9 882.4v3M390 882.4v3M393.1 882.4v3M396.2 882.4v3M399.3 882.4v3M402.4 882.4v3M405.5 882.4v3M408.6 882.4v3M411.7 882.4v3M414.8 882.4v3M417.9 882.4v3M421 882.4v3M424.1 882.4v3M427.2 882.4v3" stroke="#777" stroke-width="0.9"/>
<text x="283.3" y="897.4" font-size="10.5" text-anchor="middle" fill="#383838">0</text>
<text x="306.6" y="897.4" font-size="10.5" text-anchor="middle" fill="#383838">10<tspan font-size="6.5" dy="-4">2</tspan></text>
<text x="329.9" y="897.4" font-size="10.5" text-anchor="middle" fill="#383838">10<tspan font-size="6.5" dy="-4">3</tspan></text>
<text x="353.2" y="897.4" font-size="10.5" text-anchor="middle" fill="#383838">10<tspan font-size="6.5" dy="-4">4</tspan></text>
<text x="376.5" y="897.4" font-size="10.5" text-anchor="middle" fill="#383838">10<tspan font-size="6.5" dy="-4">5</tspan></text>
<text x="399.8" y="897.4" font-size="10.5" text-anchor="middle" fill="#383838">10<tspan font-size="6.5" dy="-4">6</tspan></text>
<text x="423.1" y="897.4" font-size="10.5" text-anchor="middle" fill="#383838">10<tspan font-size="6.5" dy="-4">7</tspan></text>
<text x="266.3" y="872.4" font-size="10" text-anchor="middle" fill="#383838" transform="rotate(-90 266.3 872.4)">0</text>
<text x="266.3" y="849.5" font-size="10" text-anchor="middle" fill="#383838" transform="rotate(-90 266.3 849.5)">10<tspan font-size="6.2" dy="-3.8">2</tspan></text>
<text x="266.3" y="826.7" font-size="10" text-anchor="middle" fill="#383838" transform="rotate(-90 266.3 826.7)">10<tspan font-size="6.2" dy="-3.8">3</tspan></text>
<text x="266.3" y="803.8" font-size="10" text-anchor="middle" fill="#383838" transform="rotate(-90 266.3 803.8)">10<tspan font-size="6.2" dy="-3.8">4</tspan></text>
<text x="266.3" y="780.9" font-size="10" text-anchor="middle" fill="#383838" transform="rotate(-90 266.3 780.9)">10<tspan font-size="6.2" dy="-3.8">5</tspan></text>
<text x="266.3" y="758.1" font-size="10" text-anchor="middle" fill="#383838" transform="rotate(-90 266.3 758.1)">10<tspan font-size="6.2" dy="-3.8">6</tspan></text>
<text x="266.3" y="735.2" font-size="10" text-anchor="middle" fill="#383838" transform="rotate(-90 266.3 735.2)">10<tspan font-size="6.2" dy="-3.8">7</tspan></text>
<text x="276.3" y="744.2" font-size="22.5">2.27%</text>
<text x="428.1" y="744.7" font-size="22.5" text-anchor="end">18.21%</text>
<text x="273.3" y="879.9" font-size="22.5">71.18%</text>
<text x="429.6" y="879.9" font-size="22.5" text-anchor="end">8.34%</text>
<rect x="450.5" y="725.2" width="159" height="157.2" fill="#fff" stroke="#999" stroke-width="1.3"/>
<g clip-path="url(#fc15)"><g filter="url(#spk)">
<ellipse cx="492" cy="828" rx="69" ry="26.4" fill="url(#gh)" transform="rotate(-25 492 828)"/>
<ellipse cx="536" cy="792" rx="32.2" ry="26.4" fill="url(#gh)" transform="rotate(-20 536 792)"/>
<ellipse cx="492" cy="828" rx="45" ry="16.5" fill="url(#g2)" transform="rotate(-25 492 828)"/>
<ellipse cx="465" cy="836" rx="30" ry="13.5" fill="url(#g0)" transform="rotate(-10 465 836)"/>
<ellipse cx="522" cy="806" rx="13.5" ry="9" fill="url(#g1)" transform="rotate(-40 522 806)"/>
<ellipse cx="536" cy="792" rx="21" ry="16.5" fill="url(#g2)" transform="rotate(-20 536 792)"/>
</g></g>
<line x1="524.8" y1="725.2" x2="524.8" y2="882.4" stroke="#666" stroke-width="1.3"/>
<line x1="450.5" y1="804" x2="609.5" y2="804" stroke="#666" stroke-width="1.3"/>
<line x1="450.5" y1="725.2" x2="450.5" y2="883.4" stroke="#555" stroke-width="1.4"/>
<line x1="449.5" y1="882.4" x2="609.5" y2="882.4" stroke="#666" stroke-width="1.4"/>
<path d="M450.5 879.4h-3M450.5 876.3h-3M450.5 873.2h-3M450.5 870.1h-3M450.5 867h-3M450.5 863.9h-3M450.5 860.8h-3M450.5 857.7h-3M450.5 854.6h-3M450.5 851.5h-3M450.5 848.4h-3M450.5 845.3h-3M450.5 842.2h-3M450.5 839.1h-3M450.5 836h-3M450.5 832.9h-3M450.5 829.8h-3M450.5 826.7h-3M450.5 823.6h-3M450.5 820.5h-3M450.5 817.4h-3M450.5 814.3h-3M450.5 811.2h-3M450.5 808.1h-3M450.5 805h-3M450.5 801.9h-3M450.5 798.8h-3M450.5 795.7h-3M450.5 792.6h-3M450.5 789.5h-3M450.5 786.4h-3M450.5 783.3h-3M450.5 780.2h-3M450.5 777.1h-3M450.5 774h-3M450.5 770.9h-3M450.5 767.8h-3M450.5 764.7h-3M450.5 761.6h-3M450.5 758.5h-3M450.5 755.4h-3M450.5 752.3h-3M450.5 749.2h-3M450.5 746.1h-3M450.5 743h-3M450.5 739.9h-3M450.5 736.8h-3M450.5 733.7h-3M450.5 730.6h-3M450.5 727.5h-3M453.5 882.4v3M456.6 882.4v3M459.7 882.4v3M462.8 882.4v3M465.9 882.4v3M469 882.4v3M472.1 882.4v3M475.2 882.4v3M478.3 882.4v3M481.4 882.4v3M484.5 882.4v3M487.6 882.4v3M490.7 882.4v3M493.8 882.4v3M496.9 882.4v3M500 882.4v3M503.1 882.4v3M506.2 882.4v3M509.3 882.4v3M512.4 882.4v3M515.5 882.4v3M518.6 882.4v3M521.7 882.4v3M524.8 882.4v3M527.9 882.4v3M531 882.4v3M534.1 882.4v3M537.2 882.4v3M540.3 882.4v3M543.4 882.4v3M546.5 882.4v3M549.6 882.4v3M552.7 882.4v3M555.8 882.4v3M558.9 882.4v3M562 882.4v3M565.1 882.4v3M568.2 882.4v3M571.3 882.4v3M574.4 882.4v3M577.5 882.4v3M580.6 882.4v3M583.7 882.4v3M586.8 882.4v3M589.9 882.4v3M593 882.4v3M596.1 882.4v3M599.2 882.4v3M602.3 882.4v3M605.4 882.4v3" stroke="#777" stroke-width="0.9"/>
<text x="461.5" y="897.4" font-size="10.5" text-anchor="middle" fill="#383838">0</text>
<text x="484.7" y="897.4" font-size="10.5" text-anchor="middle" fill="#383838">10<tspan font-size="6.5" dy="-4">2</tspan></text>
<text x="507.8" y="897.4" font-size="10.5" text-anchor="middle" fill="#383838">10<tspan font-size="6.5" dy="-4">3</tspan></text>
<text x="531" y="897.4" font-size="10.5" text-anchor="middle" fill="#383838">10<tspan font-size="6.5" dy="-4">4</tspan></text>
<text x="554.2" y="897.4" font-size="10.5" text-anchor="middle" fill="#383838">10<tspan font-size="6.5" dy="-4">5</tspan></text>
<text x="577.3" y="897.4" font-size="10.5" text-anchor="middle" fill="#383838">10<tspan font-size="6.5" dy="-4">6</tspan></text>
<text x="600.5" y="897.4" font-size="10.5" text-anchor="middle" fill="#383838">10<tspan font-size="6.5" dy="-4">7</tspan></text>
<text x="444.5" y="872.4" font-size="10" text-anchor="middle" fill="#383838" transform="rotate(-90 444.5 872.4)">0</text>
<text x="444.5" y="849.5" font-size="10" text-anchor="middle" fill="#383838" transform="rotate(-90 444.5 849.5)">10<tspan font-size="6.2" dy="-3.8">2</tspan></text>
<text x="444.5" y="826.7" font-size="10" text-anchor="middle" fill="#383838" transform="rotate(-90 444.5 826.7)">10<tspan font-size="6.2" dy="-3.8">3</tspan></text>
<text x="444.5" y="803.8" font-size="10" text-anchor="middle" fill="#383838" transform="rotate(-90 444.5 803.8)">10<tspan font-size="6.2" dy="-3.8">4</tspan></text>
<text x="444.5" y="780.9" font-size="10" text-anchor="middle" fill="#383838" transform="rotate(-90 444.5 780.9)">10<tspan font-size="6.2" dy="-3.8">5</tspan></text>
<text x="444.5" y="758.1" font-size="10" text-anchor="middle" fill="#383838" transform="rotate(-90 444.5 758.1)">10<tspan font-size="6.2" dy="-3.8">6</tspan></text>
<text x="444.5" y="735.2" font-size="10" text-anchor="middle" fill="#383838" transform="rotate(-90 444.5 735.2)">10<tspan font-size="6.2" dy="-3.8">7</tspan></text>
<text x="454.5" y="744.2" font-size="22.5">1.25%</text>
<text x="605.5" y="744.7" font-size="22.5" text-anchor="end">27.44%</text>
<text x="451.5" y="879.9" font-size="22.5">64.24%</text>
<text x="607" y="879.9" font-size="22.5" text-anchor="end">7.07%</text>
<rect x="97" y="902" width="157.8" height="159.3" fill="#fff" stroke="#999" stroke-width="1.3"/>
<g clip-path="url(#fc16)"><g filter="url(#spk)">
<ellipse cx="141" cy="1003" rx="64.4" ry="43.2" fill="url(#gh)" transform="rotate(-30 141 1003)"/>
<ellipse cx="141" cy="1003" rx="42" ry="27" fill="url(#g3)" transform="rotate(-30 141 1003)"/>
<ellipse cx="118" cy="1005" rx="30" ry="15" fill="url(#g1)"/>
</g></g>
<line x1="170" y1="902" x2="170" y2="1061.3" stroke="#666" stroke-width="1.3"/>
<line x1="97" y1="980.3" x2="254.8" y2="980.3" stroke="#666" stroke-width="1.3"/>
<line x1="97" y1="902" x2="97" y2="1062.3" stroke="#555" stroke-width="1.4"/>
<line x1="96" y1="1061.3" x2="254.8" y2="1061.3" stroke="#666" stroke-width="1.4"/>
<path d="M97 1058.3h-3M97 1055.2h-3M97 1052.1h-3M97 1049h-3M97 1045.9h-3M97 1042.8h-3M97 1039.7h-3M97 1036.6h-3M97 1033.5h-3M97 1030.4h-3M97 1027.3h-3M97 1024.2h-3M97 1021.1h-3M97 1018h-3M97 1014.9h-3M97 1011.8h-3M97 1008.7h-3M97 1005.6h-3M97 1002.5h-3M97 999.4h-3M97 996.3h-3M97 993.2h-3M97 990.1h-3M97 987h-3M97 983.9h-3M97 980.8h-3M97 977.7h-3M97 974.6h-3M97 971.5h-3M97 968.4h-3M97 965.3h-3M97 962.2h-3M97 959.1h-3M97 956h-3M97 952.9h-3M97 949.8h-3M97 946.7h-3M97 943.6h-3M97 940.5h-3M97 937.4h-3M97 934.3h-3M97 931.2h-3M97 928.1h-3M97 925h-3M97 921.9h-3M97 918.8h-3M97 915.7h-3M97 912.6h-3M97 909.5h-3M97 906.4h-3M100 1061.3v3M103.1 1061.3v3M106.2 1061.3v3M109.3 1061.3v3M112.4 1061.3v3M115.5 1061.3v3M118.6 1061.3v3M121.7 1061.3v3M124.8 1061.3v3M127.9 1061.3v3M131 1061.3v3M134.1 1061.3v3M137.2 1061.3v3M140.3 1061.3v3M143.4 1061.3v3M146.5 1061.3v3M149.6 1061.3v3M152.7 1061.3v3M155.8 1061.3v3M158.9 1061.3v3M162 1061.3v3M165.1 1061.3v3M168.2 1061.3v3M171.3 1061.3v3M174.4 1061.3v3M177.5 1061.3v3M180.6 1061.3v3M183.7 1061.3v3M186.8 1061.3v3M189.9 1061.3v3M193 1061.3v3M196.1 1061.3v3M199.2 1061.3v3M202.3 1061.3v3M205.4 1061.3v3M208.5 1061.3v3M211.6 1061.3v3M214.7 1061.3v3M217.8 1061.3v3M220.9 1061.3v3M224 1061.3v3M227.1 1061.3v3M230.2 1061.3v3M233.3 1061.3v3M236.4 1061.3v3M239.5 1061.3v3M242.6 1061.3v3M245.7 1061.3v3M248.8 1061.3v3M251.9 1061.3v3" stroke="#777" stroke-width="0.9"/>
<text x="108" y="1076.3" font-size="10.5" text-anchor="middle" fill="#383838">0</text>
<text x="131" y="1076.3" font-size="10.5" text-anchor="middle" fill="#383838">10<tspan font-size="6.5" dy="-4">2</tspan></text>
<text x="153.9" y="1076.3" font-size="10.5" text-anchor="middle" fill="#383838">10<tspan font-size="6.5" dy="-4">3</tspan></text>
<text x="176.9" y="1076.3" font-size="10.5" text-anchor="middle" fill="#383838">10<tspan font-size="6.5" dy="-4">4</tspan></text>
<text x="199.9" y="1076.3" font-size="10.5" text-anchor="middle" fill="#383838">10<tspan font-size="6.5" dy="-4">5</tspan></text>
<text x="222.8" y="1076.3" font-size="10.5" text-anchor="middle" fill="#383838">10<tspan font-size="6.5" dy="-4">6</tspan></text>
<text x="245.8" y="1076.3" font-size="10.5" text-anchor="middle" fill="#383838">10<tspan font-size="6.5" dy="-4">7</tspan></text>
<text x="91" y="1051.3" font-size="10" text-anchor="middle" fill="#383838" transform="rotate(-90 91 1051.3)">0</text>
<text x="91" y="1028.1" font-size="10" text-anchor="middle" fill="#383838" transform="rotate(-90 91 1028.1)">10<tspan font-size="6.2" dy="-3.8">2</tspan></text>
<text x="91" y="1004.9" font-size="10" text-anchor="middle" fill="#383838" transform="rotate(-90 91 1004.9)">10<tspan font-size="6.2" dy="-3.8">3</tspan></text>
<text x="91" y="981.6" font-size="10" text-anchor="middle" fill="#383838" transform="rotate(-90 91 981.6)">10<tspan font-size="6.2" dy="-3.8">4</tspan></text>
<text x="91" y="958.4" font-size="10" text-anchor="middle" fill="#383838" transform="rotate(-90 91 958.4)">10<tspan font-size="6.2" dy="-3.8">5</tspan></text>
<text x="91" y="935.2" font-size="10" text-anchor="middle" fill="#383838" transform="rotate(-90 91 935.2)">10<tspan font-size="6.2" dy="-3.8">6</tspan></text>
<text x="91" y="912" font-size="10" text-anchor="middle" fill="#383838" transform="rotate(-90 91 912)">10<tspan font-size="6.2" dy="-3.8">7</tspan></text>
<text x="101" y="921" font-size="22.5">0.51%</text>
<text x="250.8" y="921.5" font-size="22.5" text-anchor="end">0.36%</text>
<text x="98" y="1058.8" font-size="22.5">98.84%</text>
<text x="252.3" y="1058.8" font-size="22.5" text-anchor="end">0.29%</text>
<rect x="272.3" y="902" width="159.8" height="159.3" fill="#fff" stroke="#999" stroke-width="1.3"/>
<g clip-path="url(#fc17)"><g filter="url(#spk)">
<ellipse cx="325" cy="1000" rx="55.2" ry="26.4" fill="url(#gh)" transform="rotate(-25 325 1000)"/>
<ellipse cx="359" cy="969" rx="32.2" ry="28.8" fill="url(#gh)" transform="rotate(-20 359 969)"/>
<ellipse cx="325" cy="1000" rx="36" ry="16.5" fill="url(#g2)" transform="rotate(-25 325 1000)"/>
<ellipse cx="359" cy="969" rx="21" ry="18" fill="url(#g3)" transform="rotate(-20 359 969)"/>
</g></g>
<line x1="345.3" y1="902" x2="345.3" y2="1061.3" stroke="#666" stroke-width="1.3"/>
<line x1="272.3" y1="981.5" x2="432.1" y2="981.5" stroke="#666" stroke-width="1.3"/>
<line x1="272.3" y1="902" x2="272.3" y2="1062.3" stroke="#555" stroke-width="1.4"/>
<line x1="271.3" y1="1061.3" x2="432.1" y2="1061.3" stroke="#666" stroke-width="1.4"/>
<path d="M272.3 1058.3h-3M272.3 1055.2h-3M272.3 1052.1h-3M272.3 1049h-3M272.3 1045.9h-3M272.3 1042.8h-3M272.3 1039.7h-3M272.3 1036.6h-3M272.3 1033.5h-3M272.3 1030.4h-3M272.3 1027.3h-3M272.3 1024.2h-3M272.3 1021.1h-3M272.3 1018h-3M272.3 1014.9h-3M272.3 1011.8h-3M272.3 1008.7h-3M272.3 1005.6h-3M272.3 1002.5h-3M272.3 999.4h-3M272.3 996.3h-3M272.3 993.2h-3M272.3 990.1h-3M272.3 987h-3M272.3 983.9h-3M272.3 980.8h-3M272.3 977.7h-3M272.3 974.6h-3M272.3 971.5h-3M272.3 968.4h-3M272.3 965.3h-3M272.3 962.2h-3M272.3 959.1h-3M272.3 956h-3M272.3 952.9h-3M272.3 949.8h-3M272.3 946.7h-3M272.3 943.6h-3M272.3 940.5h-3M272.3 937.4h-3M272.3 934.3h-3M272.3 931.2h-3M272.3 928.1h-3M272.3 925h-3M272.3 921.9h-3M272.3 918.8h-3M272.3 915.7h-3M272.3 912.6h-3M272.3 909.5h-3M272.3 906.4h-3M275.3 1061.3v3M278.4 1061.3v3M281.5 1061.3v3M284.6 1061.3v3M287.7 1061.3v3M290.8 1061.3v3M293.9 1061.3v3M297 1061.3v3M300.1 1061.3v3M303.2 1061.3v3M306.3 1061.3v3M309.4 1061.3v3M312.5 1061.3v3M315.6 1061.3v3M318.7 1061.3v3M321.8 1061.3v3M324.9 1061.3v3M328 1061.3v3M331.1 1061.3v3M334.2 1061.3v3M337.3 1061.3v3M340.4 1061.3v3M343.5 1061.3v3M346.6 1061.3v3M349.7 1061.3v3M352.8 1061.3v3M355.9 1061.3v3M359 1061.3v3M362.1 1061.3v3M365.2 1061.3v3M368.3 1061.3v3M371.4 1061.3v3M374.5 1061.3v3M377.6 1061.3v3M380.7 1061.3v3M383.8 1061.3v3M386.9 1061.3v3M390 1061.3v3M393.1 1061.3v3M396.2 1061.3v3M399.3 1061.3v3M402.4 1061.3v3M405.5 1061.3v3M408.6 1061.3v3M411.7 1061.3v3M414.8 1061.3v3M417.9 1061.3v3M421 1061.3v3M424.1 1061.3v3M427.2 1061.3v3" stroke="#777" stroke-width="0.9"/>
<text x="283.3" y="1076.3" font-size="10.5" text-anchor="middle" fill="#383838">0</text>
<text x="306.6" y="1076.3" font-size="10.5" text-anchor="middle" fill="#383838">10<tspan font-size="6.5" dy="-4">2</tspan></text>
<text x="329.9" y="1076.3" font-size="10.5" text-anchor="middle" fill="#383838">10<tspan font-size="6.5" dy="-4">3</tspan></text>
<text x="353.2" y="1076.3" font-size="10.5" text-anchor="middle" fill="#383838">10<tspan font-size="6.5" dy="-4">4</tspan></text>
<text x="376.5" y="1076.3" font-size="10.5" text-anchor="middle" fill="#383838">10<tspan font-size="6.5" dy="-4">5</tspan></text>
<text x="399.8" y="1076.3" font-size="10.5" text-anchor="middle" fill="#383838">10<tspan font-size="6.5" dy="-4">6</tspan></text>
<text x="423.1" y="1076.3" font-size="10.5" text-anchor="middle" fill="#383838">10<tspan font-size="6.5" dy="-4">7</tspan></text>
<text x="266.3" y="1051.3" font-size="10" text-anchor="middle" fill="#383838" transform="rotate(-90 266.3 1051.3)">0</text>
<text x="266.3" y="1028.1" font-size="10" text-anchor="middle" fill="#383838" transform="rotate(-90 266.3 1028.1)">10<tspan font-size="6.2" dy="-3.8">2</tspan></text>
<text x="266.3" y="1004.9" font-size="10" text-anchor="middle" fill="#383838" transform="rotate(-90 266.3 1004.9)">10<tspan font-size="6.2" dy="-3.8">3</tspan></text>
<text x="266.3" y="981.6" font-size="10" text-anchor="middle" fill="#383838" transform="rotate(-90 266.3 981.6)">10<tspan font-size="6.2" dy="-3.8">4</tspan></text>
<text x="266.3" y="958.4" font-size="10" text-anchor="middle" fill="#383838" transform="rotate(-90 266.3 958.4)">10<tspan font-size="6.2" dy="-3.8">5</tspan></text>
<text x="266.3" y="935.2" font-size="10" text-anchor="middle" fill="#383838" transform="rotate(-90 266.3 935.2)">10<tspan font-size="6.2" dy="-3.8">6</tspan></text>
<text x="266.3" y="912" font-size="10" text-anchor="middle" fill="#383838" transform="rotate(-90 266.3 912)">10<tspan font-size="6.2" dy="-3.8">7</tspan></text>
<text x="276.3" y="921" font-size="22.5">3.22%</text>
<text x="428.1" y="921.5" font-size="22.5" text-anchor="end">45.29%</text>
<text x="273.3" y="1058.8" font-size="22.5">42.30%</text>
<text x="429.6" y="1058.8" font-size="22.5" text-anchor="end">9.19%</text>
<rect x="450.5" y="902" width="159" height="159.3" fill="#fff" stroke="#999" stroke-width="1.3"/>
<g clip-path="url(#fc18)"><g filter="url(#spk)">
<ellipse cx="536" cy="969" rx="34.5" ry="24" fill="url(#gh)"/>
<ellipse cx="536" cy="984" rx="29.9" ry="19.2" fill="url(#gh)"/>
<ellipse cx="501" cy="1003" rx="33" ry="18" fill="url(#g1)" transform="rotate(-30 501 1003)"/>
<ellipse cx="536" cy="969" rx="22.5" ry="15" fill="url(#g3)"/>
<ellipse cx="536" cy="984" rx="19.5" ry="12" fill="url(#g2)"/>
</g></g>
<line x1="523.6" y1="902" x2="523.6" y2="1061.3" stroke="#666" stroke-width="1.3"/>
<line x1="450.5" y1="979.5" x2="609.5" y2="979.5" stroke="#666" stroke-width="1.3"/>
<line x1="450.5" y1="902" x2="450.5" y2="1062.3" stroke="#555" stroke-width="1.4"/>
<line x1="449.5" y1="1061.3" x2="609.5" y2="1061.3" stroke="#666" stroke-width="1.4"/>
<path d="M450.5 1058.3h-3M450.5 1055.2h-3M450.5 1052.1h-3M450.5 1049h-3M450.5 1045.9h-3M450.5 1042.8h-3M450.5 1039.7h-3M450.5 1036.6h-3M450.5 1033.5h-3M450.5 1030.4h-3M450.5 1027.3h-3M450.5 1024.2h-3M450.5 1021.1h-3M450.5 1018h-3M450.5 1014.9h-3M450.5 1011.8h-3M450.5 1008.7h-3M450.5 1005.6h-3M450.5 1002.5h-3M450.5 999.4h-3M450.5 996.3h-3M450.5 993.2h-3M450.5 990.1h-3M450.5 987h-3M450.5 983.9h-3M450.5 980.8h-3M450.5 977.7h-3M450.5 974.6h-3M450.5 971.5h-3M450.5 968.4h-3M450.5 965.3h-3M450.5 962.2h-3M450.5 959.1h-3M450.5 956h-3M450.5 952.9h-3M450.5 949.8h-3M450.5 946.7h-3M450.5 943.6h-3M450.5 940.5h-3M450.5 937.4h-3M450.5 934.3h-3M450.5 931.2h-3M450.5 928.1h-3M450.5 925h-3M450.5 921.9h-3M450.5 918.8h-3M450.5 915.7h-3M450.5 912.6h-3M450.5 909.5h-3M450.5 906.4h-3M453.5 1061.3v3M456.6 1061.3v3M459.7 1061.3v3M462.8 1061.3v3M465.9 1061.3v3M469 1061.3v3M472.1 1061.3v3M475.2 1061.3v3M478.3 1061.3v3M481.4 1061.3v3M484.5 1061.3v3M487.6 1061.3v3M490.7 1061.3v3M493.8 1061.3v3M496.9 1061.3v3M500 1061.3v3M503.1 1061.3v3M506.2 1061.3v3M509.3 1061.3v3M512.4 1061.3v3M515.5 1061.3v3M518.6 1061.3v3M521.7 1061.3v3M524.8 1061.3v3M527.9 1061.3v3M531 1061.3v3M534.1 1061.3v3M537.2 1061.3v3M540.3 1061.3v3M543.4 1061.3v3M546.5 1061.3v3M549.6 1061.3v3M552.7 1061.3v3M555.8 1061.3v3M558.9 1061.3v3M562 1061.3v3M565.1 1061.3v3M568.2 1061.3v3M571.3 1061.3v3M574.4 1061.3v3M577.5 1061.3v3M580.6 1061.3v3M583.7 1061.3v3M586.8 1061.3v3M589.9 1061.3v3M593 1061.3v3M596.1 1061.3v3M599.2 1061.3v3M602.3 1061.3v3M605.4 1061.3v3" stroke="#777" stroke-width="0.9"/>
<text x="461.5" y="1076.3" font-size="10.5" text-anchor="middle" fill="#383838">0</text>
<text x="484.7" y="1076.3" font-size="10.5" text-anchor="middle" fill="#383838">10<tspan font-size="6.5" dy="-4">2</tspan></text>
<text x="507.8" y="1076.3" font-size="10.5" text-anchor="middle" fill="#383838">10<tspan font-size="6.5" dy="-4">3</tspan></text>
<text x="531" y="1076.3" font-size="10.5" text-anchor="middle" fill="#383838">10<tspan font-size="6.5" dy="-4">4</tspan></text>
<text x="554.2" y="1076.3" font-size="10.5" text-anchor="middle" fill="#383838">10<tspan font-size="6.5" dy="-4">5</tspan></text>
<text x="577.3" y="1076.3" font-size="10.5" text-anchor="middle" fill="#383838">10<tspan font-size="6.5" dy="-4">6</tspan></text>
<text x="600.5" y="1076.3" font-size="10.5" text-anchor="middle" fill="#383838">10<tspan font-size="6.5" dy="-4">7</tspan></text>
<text x="444.5" y="1051.3" font-size="10" text-anchor="middle" fill="#383838" transform="rotate(-90 444.5 1051.3)">0</text>
<text x="444.5" y="1028.1" font-size="10" text-anchor="middle" fill="#383838" transform="rotate(-90 444.5 1028.1)">10<tspan font-size="6.2" dy="-3.8">2</tspan></text>
<text x="444.5" y="1004.9" font-size="10" text-anchor="middle" fill="#383838" transform="rotate(-90 444.5 1004.9)">10<tspan font-size="6.2" dy="-3.8">3</tspan></text>
<text x="444.5" y="981.6" font-size="10" text-anchor="middle" fill="#383838" transform="rotate(-90 444.5 981.6)">10<tspan font-size="6.2" dy="-3.8">4</tspan></text>
<text x="444.5" y="958.4" font-size="10" text-anchor="middle" fill="#383838" transform="rotate(-90 444.5 958.4)">10<tspan font-size="6.2" dy="-3.8">5</tspan></text>
<text x="444.5" y="935.2" font-size="10" text-anchor="middle" fill="#383838" transform="rotate(-90 444.5 935.2)">10<tspan font-size="6.2" dy="-3.8">6</tspan></text>
<text x="444.5" y="912" font-size="10" text-anchor="middle" fill="#383838" transform="rotate(-90 444.5 912)">10<tspan font-size="6.2" dy="-3.8">7</tspan></text>
<text x="454.5" y="921" font-size="22.5">7.00%</text>
<text x="605.5" y="921.5" font-size="22.5" text-anchor="end">45.32%</text>
<text x="451.5" y="1058.8" font-size="22.5">25.09%</text>
<text x="607" y="1058.8" font-size="22.5" text-anchor="end">22.59%</text>
<line x1="1241.3" y1="1623" x2="1241.3" y2="1018" stroke="#000" stroke-width="1.7"/>
<path d="M1234.3 1030L1241.3 1018L1248.3 1030" stroke="#000" stroke-width="1.7" fill="none"/>
<line x1="1240.5" y1="1623" x2="1838" y2="1623" stroke="#000" stroke-width="1.7"/>
<path d="M1826 1616L1838 1623L1826 1630" stroke="#000" stroke-width="1.7" fill="none"/>
<text x="1233.9" y="1337" font-size="28" text-anchor="middle" transform="rotate(-90 1233.9 1337)" textLength="82" lengthAdjust="spacingAndGlyphs">7-AAD</text>
<text x="1263.7" y="1332" font-size="27" text-anchor="middle" transform="rotate(-90 1263.7 1332)" textLength="67" lengthAdjust="spacingAndGlyphs">A549</text>
<line x1="1267.7" y1="1143" x2="1267.7" y2="1535" stroke="#000" stroke-width="1.7"/>
<text x="1300" y="1151" font-size="25" text-anchor="middle" transform="rotate(-90 1300 1151)" textLength="104" lengthAdjust="spacingAndGlyphs">Nonsense</text>
<text x="1298" y="1339.1" font-size="25" text-anchor="middle" transform="rotate(-90 1298 1339.1)" textLength="140" lengthAdjust="spacingAndGlyphs">Si CRTAC1-2</text>
<text x="1298" y="1511.5" font-size="25" text-anchor="middle" transform="rotate(-90 1298 1511.5)" textLength="139" lengthAdjust="spacingAndGlyphs">Si CRTAC1-3</text>
<text x="1513" y="1043" font-size="22" textLength="132" lengthAdjust="spacingAndGlyphs" xml:space="preserve" style="white-space:pre">CDDP  (μM)</text>
<line x1="1402" y1="1052" x2="1750" y2="1052" stroke="#000" stroke-width="1.7"/>
<text x="1473" y="1073" font-size="24" text-anchor="middle">0</text>
<text x="1670" y="1073" font-size="24" text-anchor="middle">10</text>
<text x="1484" y="1646.5" font-size="27" textLength="187" lengthAdjust="spacingAndGlyphs">Annexin V-APC</text>
<rect x="1316" y="1081.7" width="159.3" height="157.8" fill="#fff" stroke="#999" stroke-width="1.3"/>
<g clip-path="url(#fc19)"><g filter="url(#spk)">
<ellipse cx="1370" cy="1182" rx="41.4" ry="26.4" fill="url(#gh)" transform="rotate(-45 1370 1182)"/>
<ellipse cx="1370" cy="1182" rx="27" ry="16.5" fill="url(#g3)" transform="rotate(-45 1370 1182)"/>
<ellipse cx="1400" cy="1142" rx="27" ry="6" fill="url(#g0)" transform="rotate(-50 1400 1142)"/>
</g></g>
<line x1="1395.8" y1="1081.7" x2="1395.8" y2="1239.5" stroke="#666" stroke-width="1.3"/>
<line x1="1316" y1="1157.1" x2="1475.3" y2="1157.1" stroke="#666" stroke-width="1.3"/>
<line x1="1316" y1="1081.7" x2="1316" y2="1240.5" stroke="#555" stroke-width="1.4"/>
<line x1="1315" y1="1239.5" x2="1475.3" y2="1239.5" stroke="#666" stroke-width="1.4"/>
<path d="M1316 1236.5h-3M1316 1233.4h-3M1316 1230.3h-3M1316 1227.2h-3M1316 1224.1h-3M1316 1221h-3M1316 1217.9h-3M1316 1214.8h-3M1316 1211.7h-3M1316 1208.6h-3M1316 1205.5h-3M1316 1202.4h-3M1316 1199.3h-3M1316 1196.2h-3M1316 1193.1h-3M1316 1190h-3M1316 1186.9h-3M1316 1183.8h-3M1316 1180.7h-3M1316 1177.6h-3M1316 1174.5h-3M1316 1171.4h-3M1316 1168.3h-3M1316 1165.2h-3M1316 1162.1h-3M1316 1159h-3M1316 1155.9h-3M1316 1152.8h-3M1316 1149.7h-3M1316 1146.6h-3M1316 1143.5h-3M1316 1140.4h-3M1316 1137.3h-3M1316 1134.2h-3M1316 1131.1h-3M1316 1128h-3M1316 1124.9h-3M1316 1121.8h-3M1316 1118.7h-3M1316 1115.6h-3M1316 1112.5h-3M1316 1109.4h-3M1316 1106.3h-3M1316 1103.2h-3M1316 1100.1h-3M1316 1097h-3M1316 1093.9h-3M1316 1090.8h-3M1316 1087.7h-3M1316 1084.6h-3M1319 1239.5v3M1322.1 1239.5v3M1325.2 1239.5v3M1328.3 1239.5v3M1331.4 1239.5v3M1334.5 1239.5v3M1337.6 1239.5v3M1340.7 1239.5v3M1343.8 1239.5v3M1346.9 1239.5v3M1350 1239.5v3M1353.1 1239.5v3M1356.2 1239.5v3M1359.3 1239.5v3M1362.4 1239.5v3M1365.5 1239.5v3M1368.6 1239.5v3M1371.7 1239.5v3M1374.8 1239.5v3M1377.9 1239.5v3M1381 1239.5v3M1384.1 1239.5v3M1387.2 1239.5v3M1390.3 1239.5v3M1393.4 1239.5v3M1396.5 1239.5v3M1399.6 1239.5v3M1402.7 1239.5v3M1405.8 1239.5v3M1408.9 1239.5v3M1412 1239.5v3M1415.1 1239.5v3M1418.2 1239.5v3M1421.3 1239.5v3M1424.4 1239.5v3M1427.5 1239.5v3M1430.6 1239.5v3M1433.7 1239.5v3M1436.8 1239.5v3M1439.9 1239.5v3M1443 1239.5v3M1446.1 1239.5v3M1449.2 1239.5v3M1452.3 1239.5v3M1455.4 1239.5v3M1458.5 1239.5v3M1461.6 1239.5v3M1464.7 1239.5v3M1467.8 1239.5v3M1470.9 1239.5v3" stroke="#777" stroke-width="0.9"/>
<text x="1327" y="1254.5" font-size="10.5" text-anchor="middle" fill="#383838">0</text>
<text x="1350.2" y="1254.5" font-size="10.5" text-anchor="middle" fill="#383838">10<tspan font-size="6.5" dy="-4">2</tspan></text>
<text x="1373.4" y="1254.5" font-size="10.5" text-anchor="middle" fill="#383838">10<tspan font-size="6.5" dy="-4">3</tspan></text>
<text x="1396.7" y="1254.5" font-size="10.5" text-anchor="middle" fill="#383838">10<tspan font-size="6.5" dy="-4">4</tspan></text>
<text x="1419.9" y="1254.5" font-size="10.5" text-anchor="middle" fill="#383838">10<tspan font-size="6.5" dy="-4">5</tspan></text>
<text x="1443.1" y="1254.5" font-size="10.5" text-anchor="middle" fill="#383838">10<tspan font-size="6.5" dy="-4">6</tspan></text>
<text x="1466.3" y="1254.5" font-size="10.5" text-anchor="middle" fill="#383838">10<tspan font-size="6.5" dy="-4">7</tspan></text>
<text x="1313" y="1229.5" font-size="10" text-anchor="middle" fill="#383838" transform="rotate(-90 1313 1229.5)">0</text>
<text x="1313" y="1206.5" font-size="10" text-anchor="middle" fill="#383838" transform="rotate(-90 1313 1206.5)">10<tspan font-size="6.2" dy="-3.8">2</tspan></text>
<text x="1313" y="1183.6" font-size="10" text-anchor="middle" fill="#383838" transform="rotate(-90 1313 1183.6)">10<tspan font-size="6.2" dy="-3.8">3</tspan></text>
<text x="1313" y="1160.6" font-size="10" text-anchor="middle" fill="#383838" transform="rotate(-90 1313 1160.6)">10<tspan font-size="6.2" dy="-3.8">4</tspan></text>
<text x="1313" y="1137.6" font-size="10" text-anchor="middle" fill="#383838" transform="rotate(-90 1313 1137.6)">10<tspan font-size="6.2" dy="-3.8">5</tspan></text>
<text x="1313" y="1114.7" font-size="10" text-anchor="middle" fill="#383838" transform="rotate(-90 1313 1114.7)">10<tspan font-size="6.2" dy="-3.8">6</tspan></text>
<text x="1313" y="1091.7" font-size="10" text-anchor="middle" fill="#383838" transform="rotate(-90 1313 1091.7)">10<tspan font-size="6.2" dy="-3.8">7</tspan></text>
<text x="1322" y="1102.7" font-size="22.5">1.05%</text>
<text x="1471.3" y="1103.2" font-size="22.5" text-anchor="end">3.67%</text>
<text x="1321" y="1237" font-size="22.5">95.13%</text>
<text x="1472.8" y="1237" font-size="22.5" text-anchor="end">0.15%</text>
<rect x="1494.3" y="1081.7" width="157.8" height="157.8" fill="#fff" stroke="#999" stroke-width="1.3"/>
<g clip-path="url(#fc20)"><g filter="url(#spk)">
<ellipse cx="1554" cy="1177" rx="46" ry="26.4" fill="url(#gh)" transform="rotate(-25 1554 1177)"/>
<ellipse cx="1554" cy="1177" rx="30" ry="16.5" fill="url(#g3)" transform="rotate(-25 1554 1177)"/>
<ellipse cx="1582" cy="1136" rx="15" ry="9" fill="url(#g1)" transform="rotate(-45 1582 1136)"/>
<ellipse cx="1572" cy="1170" rx="12" ry="18" fill="url(#g0)"/>
</g></g>
<line x1="1573.8" y1="1081.7" x2="1573.8" y2="1239.5" stroke="#666" stroke-width="1.3"/>
<line x1="1494.3" y1="1157.1" x2="1652.1" y2="1157.1" stroke="#666" stroke-width="1.3"/>
<line x1="1494.3" y1="1081.7" x2="1494.3" y2="1240.5" stroke="#555" stroke-width="1.4"/>
<line x1="1493.3" y1="1239.5" x2="1652.1" y2="1239.5" stroke="#666" stroke-width="1.4"/>
<path d="M1494.3 1236.5h-3M1494.3 1233.4h-3M1494.3 1230.3h-3M1494.3 1227.2h-3M1494.3 1224.1h-3M1494.3 1221h-3M1494.3 1217.9h-3M1494.3 1214.8h-3M1494.3 1211.7h-3M1494.3 1208.6h-3M1494.3 1205.5h-3M1494.3 1202.4h-3M1494.3 1199.3h-3M1494.3 1196.2h-3M1494.3 1193.1h-3M1494.3 1190h-3M1494.3 1186.9h-3M1494.3 1183.8h-3M1494.3 1180.7h-3M1494.3 1177.6h-3M1494.3 1174.5h-3M1494.3 1171.4h-3M1494.3 1168.3h-3M1494.3 1165.2h-3M1494.3 1162.1h-3M1494.3 1159h-3M1494.3 1155.9h-3M1494.3 1152.8h-3M1494.3 1149.7h-3M1494.3 1146.6h-3M1494.3 1143.5h-3M1494.3 1140.4h-3M1494.3 1137.3h-3M1494.3 1134.2h-3M1494.3 1131.1h-3M1494.3 1128h-3M1494.3 1124.9h-3M1494.3 1121.8h-3M1494.3 1118.7h-3M1494.3 1115.6h-3M1494.3 1112.5h-3M1494.3 1109.4h-3M1494.3 1106.3h-3M1494.3 1103.2h-3M1494.3 1100.1h-3M1494.3 1097h-3M1494.3 1093.9h-3M1494.3 1090.8h-3M1494.3 1087.7h-3M1494.3 1084.6h-3M1497.3 1239.5v3M1500.4 1239.5v3M1503.5 1239.5v3M1506.6 1239.5v3M1509.7 1239.5v3M1512.8 1239.5v3M1515.9 1239.5v3M1519 1239.5v3M1522.1 1239.5v3M1525.2 1239.5v3M1528.3 1239.5v3M1531.4 1239.5v3M1534.5 1239.5v3M1537.6 1239.5v3M1540.7 1239.5v3M1543.8 1239.5v3M1546.9 1239.5v3M1550 1239.5v3M1553.1 1239.5v3M1556.2 1239.5v3M1559.3 1239.5v3M1562.4 1239.5v3M1565.5 1239.5v3M1568.6 1239.5v3M1571.7 1239.5v3M1574.8 1239.5v3M1577.9 1239.5v3M1581 1239.5v3M1584.1 1239.5v3M1587.2 1239.5v3M1590.3 1239.5v3M1593.4 1239.5v3M1596.5 1239.5v3M1599.6 1239.5v3M1602.7 1239.5v3M1605.8 1239.5v3M1608.9 1239.5v3M1612 1239.5v3M1615.1 1239.5v3M1618.2 1239.5v3M1621.3 1239.5v3M1624.4 1239.5v3M1627.5 1239.5v3M1630.6 1239.5v3M1633.7 1239.5v3M1636.8 1239.5v3M1639.9 1239.5v3M1643 1239.5v3M1646.1 1239.5v3M1649.2 1239.5v3" stroke="#777" stroke-width="0.9"/>
<text x="1505.3" y="1254.5" font-size="10.5" text-anchor="middle" fill="#383838">0</text>
<text x="1528.3" y="1254.5" font-size="10.5" text-anchor="middle" fill="#383838">10<tspan font-size="6.5" dy="-4">2</tspan></text>
<text x="1551.2" y="1254.5" font-size="10.5" text-anchor="middle" fill="#383838">10<tspan font-size="6.5" dy="-4">3</tspan></text>
<text x="1574.2" y="1254.5" font-size="10.5" text-anchor="middle" fill="#383838">10<tspan font-size="6.5" dy="-4">4</tspan></text>
<text x="1597.2" y="1254.5" font-size="10.5" text-anchor="middle" fill="#383838">10<tspan font-size="6.5" dy="-4">5</tspan></text>
<text x="1620.1" y="1254.5" font-size="10.5" text-anchor="middle" fill="#383838">10<tspan font-size="6.5" dy="-4">6</tspan></text>
<text x="1643.1" y="1254.5" font-size="10.5" text-anchor="middle" fill="#383838">10<tspan font-size="6.5" dy="-4">7</tspan></text>
<text x="1491.3" y="1229.5" font-size="10" text-anchor="middle" fill="#383838" transform="rotate(-90 1491.3 1229.5)">0</text>
<text x="1491.3" y="1206.5" font-size="10" text-anchor="middle" fill="#383838" transform="rotate(-90 1491.3 1206.5)">10<tspan font-size="6.2" dy="-3.8">2</tspan></text>
<text x="1491.3" y="1183.6" font-size="10" text-anchor="middle" fill="#383838" transform="rotate(-90 1491.3 1183.6)">10<tspan font-size="6.2" dy="-3.8">3</tspan></text>
<text x="1491.3" y="1160.6" font-size="10" text-anchor="middle" fill="#383838" transform="rotate(-90 1491.3 1160.6)">10<tspan font-size="6.2" dy="-3.8">4</tspan></text>
<text x="1491.3" y="1137.6" font-size="10" text-anchor="middle" fill="#383838" transform="rotate(-90 1491.3 1137.6)">10<tspan font-size="6.2" dy="-3.8">5</tspan></text>
<text x="1491.3" y="1114.7" font-size="10" text-anchor="middle" fill="#383838" transform="rotate(-90 1491.3 1114.7)">10<tspan font-size="6.2" dy="-3.8">6</tspan></text>
<text x="1491.3" y="1091.7" font-size="10" text-anchor="middle" fill="#383838" transform="rotate(-90 1491.3 1091.7)">10<tspan font-size="6.2" dy="-3.8">7</tspan></text>
<text x="1500.3" y="1102.7" font-size="22.5">0.74%</text>
<text x="1648.1" y="1103.2" font-size="22.5" text-anchor="end">5.11%</text>
<text x="1499.3" y="1237" font-size="22.5">91.21%</text>
<text x="1649.6" y="1237" font-size="22.5" text-anchor="end">2.94%</text>
<rect x="1671.1" y="1081.7" width="157.3" height="157.8" fill="#fff" stroke="#999" stroke-width="1.3"/>
<g clip-path="url(#fc21)"><g filter="url(#spkL)">
<ellipse cx="1747" cy="1174" rx="50.6" ry="24" fill="url(#gh)" transform="rotate(-35 1747 1174)"/>
<ellipse cx="1773" cy="1127" rx="36.8" ry="16.8" fill="url(#gh)" transform="rotate(-35 1773 1127)"/>
<ellipse cx="1747" cy="1174" rx="33" ry="15" fill="url(#g2)" transform="rotate(-35 1747 1174)"/>
<ellipse cx="1773" cy="1127" rx="24" ry="10.5" fill="url(#g2)" transform="rotate(-35 1773 1127)"/>
<ellipse cx="1760" cy="1150" rx="15" ry="15" fill="url(#g0)" transform="rotate(-50 1760 1150)"/>
</g></g>
<line x1="1750" y1="1081.7" x2="1750" y2="1239.5" stroke="#666" stroke-width="1.3"/>
<line x1="1671.1" y1="1160" x2="1828.4" y2="1160" stroke="#666" stroke-width="1.3"/>
<line x1="1671.1" y1="1081.7" x2="1671.1" y2="1240.5" stroke="#555" stroke-width="1.4"/>
<line x1="1670.1" y1="1239.5" x2="1828.4" y2="1239.5" stroke="#666" stroke-width="1.4"/>
<path d="M1671.1 1236.5h-3M1671.1 1233.4h-3M1671.1 1230.3h-3M1671.1 1227.2h-3M1671.1 1224.1h-3M1671.1 1221h-3M1671.1 1217.9h-3M1671.1 1214.8h-3M1671.1 1211.7h-3M1671.1 1208.6h-3M1671.1 1205.5h-3M1671.1 1202.4h-3M1671.1 1199.3h-3M1671.1 1196.2h-3M1671.1 1193.1h-3M1671.1 1190h-3M1671.1 1186.9h-3M1671.1 1183.8h-3M1671.1 1180.7h-3M1671.1 1177.6h-3M1671.1 1174.5h-3M1671.1 1171.4h-3M1671.1 1168.3h-3M1671.1 1165.2h-3M1671.1 1162.1h-3M1671.1 1159h-3M1671.1 1155.9h-3M1671.1 1152.8h-3M1671.1 1149.7h-3M1671.1 1146.6h-3M1671.1 1143.5h-3M1671.1 1140.4h-3M1671.1 1137.3h-3M1671.1 1134.2h-3M1671.1 1131.1h-3M1671.1 1128h-3M1671.1 1124.9h-3M1671.1 1121.8h-3M1671.1 1118.7h-3M1671.1 1115.6h-3M1671.1 1112.5h-3M1671.1 1109.4h-3M1671.1 1106.3h-3M1671.1 1103.2h-3M1671.1 1100.1h-3M1671.1 1097h-3M1671.1 1093.9h-3M1671.1 1090.8h-3M1671.1 1087.7h-3M1671.1 1084.6h-3M1674.1 1239.5v3M1677.2 1239.5v3M1680.3 1239.5v3M1683.4 1239.5v3M1686.5 1239.5v3M1689.6 1239.5v3M1692.7 1239.5v3M1695.8 1239.5v3M1698.9 1239.5v3M1702 1239.5v3M1705.1 1239.5v3M1708.2 1239.5v3M1711.3 1239.5v3M1714.4 1239.5v3M1717.5 1239.5v3M1720.6 1239.5v3M1723.7 1239.5v3M1726.8 1239.5v3M1729.9 1239.5v3M1733 1239.5v3M1736.1 1239.5v3M1739.2 1239.5v3M1742.3 1239.5v3M1745.4 1239.5v3M1748.5 1239.5v3M1751.6 1239.5v3M1754.7 1239.5v3M1757.8 1239.5v3M1760.9 1239.5v3M1764 1239.5v3M1767.1 1239.5v3M1770.2 1239.5v3M1773.3 1239.5v3M1776.4 1239.5v3M1779.5 1239.5v3M1782.6 1239.5v3M1785.7 1239.5v3M1788.8 1239.5v3M1791.9 1239.5v3M1795 1239.5v3M1798.1 1239.5v3M1801.2 1239.5v3M1804.3 1239.5v3M1807.4 1239.5v3M1810.5 1239.5v3M1813.6 1239.5v3M1816.7 1239.5v3M1819.8 1239.5v3M1822.9 1239.5v3M1826 1239.5v3" stroke="#777" stroke-width="0.9"/>
<text x="1682.1" y="1254.5" font-size="10.5" text-anchor="middle" fill="#383838">0</text>
<text x="1705" y="1254.5" font-size="10.5" text-anchor="middle" fill="#383838">10<tspan font-size="6.5" dy="-4">2</tspan></text>
<text x="1727.9" y="1254.5" font-size="10.5" text-anchor="middle" fill="#383838">10<tspan font-size="6.5" dy="-4">3</tspan></text>
<text x="1750.8" y="1254.5" font-size="10.5" text-anchor="middle" fill="#383838">10<tspan font-size="6.5" dy="-4">4</tspan></text>
<text x="1773.6" y="1254.5" font-size="10.5" text-anchor="middle" fill="#383838">10<tspan font-size="6.5" dy="-4">5</tspan></text>
<text x="1796.5" y="1254.5" font-size="10.5" text-anchor="middle" fill="#383838">10<tspan font-size="6.5" dy="-4">6</tspan></text>
<text x="1819.4" y="1254.5" font-size="10.5" text-anchor="middle" fill="#383838">10<tspan font-size="6.5" dy="-4">7</tspan></text>
<text x="1668.1" y="1229.5" font-size="10" text-anchor="middle" fill="#383838" transform="rotate(-90 1668.1 1229.5)">0</text>
<text x="1668.1" y="1206.5" font-size="10" text-anchor="middle" fill="#383838" transform="rotate(-90 1668.1 1206.5)">10<tspan font-size="6.2" dy="-3.8">2</tspan></text>
<text x="1668.1" y="1183.6" font-size="10" text-anchor="middle" fill="#383838" transform="rotate(-90 1668.1 1183.6)">10<tspan font-size="6.2" dy="-3.8">3</tspan></text>
<text x="1668.1" y="1160.6" font-size="10" text-anchor="middle" fill="#383838" transform="rotate(-90 1668.1 1160.6)">10<tspan font-size="6.2" dy="-3.8">4</tspan></text>
<text x="1668.1" y="1137.6" font-size="10" text-anchor="middle" fill="#383838" transform="rotate(-90 1668.1 1137.6)">10<tspan font-size="6.2" dy="-3.8">5</tspan></text>
<text x="1668.1" y="1114.7" font-size="10" text-anchor="middle" fill="#383838" transform="rotate(-90 1668.1 1114.7)">10<tspan font-size="6.2" dy="-3.8">6</tspan></text>
<text x="1668.1" y="1091.7" font-size="10" text-anchor="middle" fill="#383838" transform="rotate(-90 1668.1 1091.7)">10<tspan font-size="6.2" dy="-3.8">7</tspan></text>
<text x="1677.1" y="1102.7" font-size="22.5">1.28%</text>
<text x="1824.4" y="1103.2" font-size="22.5" text-anchor="end">27.15%</text>
<text x="1676.1" y="1237" font-size="22.5">48.53%</text>
<text x="1825.9" y="1237" font-size="22.5" text-anchor="end">23.04%</text>
<rect x="1316" y="1261.4" width="159.3" height="157.8" fill="#fff" stroke="#999" stroke-width="1.3"/>
<g clip-path="url(#fc22)"><g filter="url(#spk)">
<ellipse cx="1372" cy="1358" rx="41.4" ry="26.4" fill="url(#gh)" transform="rotate(-40 1372 1358)"/>
<ellipse cx="1372" cy="1358" rx="27" ry="16.5" fill="url(#g3)" transform="rotate(-40 1372 1358)"/>
<ellipse cx="1408" cy="1316" rx="18" ry="9" fill="url(#g0)" transform="rotate(-45 1408 1316)"/>
</g></g>
<line x1="1396.4" y1="1261.4" x2="1396.4" y2="1419.2" stroke="#666" stroke-width="1.3"/>
<line x1="1316" y1="1337.4" x2="1475.3" y2="1337.4" stroke="#666" stroke-width="1.3"/>
<line x1="1316" y1="1261.4" x2="1316" y2="1420.2" stroke="#555" stroke-width="1.4"/>
<line x1="1315" y1="1419.2" x2="1475.3" y2="1419.2" stroke="#666" stroke-width="1.4"/>
<path d="M1316 1416.2h-3M1316 1413.1h-3M1316 1410h-3M1316 1406.9h-3M1316 1403.8h-3M1316 1400.7h-3M1316 1397.6h-3M1316 1394.5h-3M1316 1391.4h-3M1316 1388.3h-3M1316 1385.2h-3M1316 1382.1h-3M1316 1379h-3M1316 1375.9h-3M1316 1372.8h-3M1316 1369.7h-3M1316 1366.6h-3M1316 1363.5h-3M1316 1360.4h-3M1316 1357.3h-3M1316 1354.2h-3M1316 1351.1h-3M1316 1348h-3M1316 1344.9h-3M1316 1341.8h-3M1316 1338.7h-3M1316 1335.6h-3M1316 1332.5h-3M1316 1329.4h-3M1316 1326.3h-3M1316 1323.2h-3M1316 1320.1h-3M1316 1317h-3M1316 1313.9h-3M1316 1310.8h-3M1316 1307.7h-3M1316 1304.6h-3M1316 1301.5h-3M1316 1298.4h-3M1316 1295.3h-3M1316 1292.2h-3M1316 1289.1h-3M1316 1286h-3M1316 1282.9h-3M1316 1279.8h-3M1316 1276.7h-3M1316 1273.6h-3M1316 1270.5h-3M1316 1267.4h-3M1316 1264.3h-3M1319 1419.2v3M1322.1 1419.2v3M1325.2 1419.2v3M1328.3 1419.2v3M1331.4 1419.2v3M1334.5 1419.2v3M1337.6 1419.2v3M1340.7 1419.2v3M1343.8 1419.2v3M1346.9 1419.2v3M1350 1419.2v3M1353.1 1419.2v3M1356.2 1419.2v3M1359.3 1419.2v3M1362.4 1419.2v3M1365.5 1419.2v3M1368.6 1419.2v3M1371.7 1419.2v3M1374.8 1419.2v3M1377.9 1419.2v3M1381 1419.2v3M1384.1 1419.2v3M1387.2 1419.2v3M1390.3 1419.2v3M1393.4 1419.2v3M1396.5 1419.2v3M1399.6 1419.2v3M1402.7 1419.2v3M1405.8 1419.2v3M1408.9 1419.2v3M1412 1419.2v3M1415.1 1419.2v3M1418.2 1419.2v3M1421.3 1419.2v3M1424.4 1419.2v3M1427.5 1419.2v3M1430.6 1419.2v3M1433.7 1419.2v3M1436.8 1419.2v3M1439.9 1419.2v3M1443 1419.2v3M1446.1 1419.2v3M1449.2 1419.2v3M1452.3 1419.2v3M1455.4 1419.2v3M1458.5 1419.2v3M1461.6 1419.2v3M1464.7 1419.2v3M1467.8 1419.2v3M1470.9 1419.2v3" stroke="#777" stroke-width="0.9"/>
<text x="1327" y="1434.2" font-size="10.5" text-anchor="middle" fill="#383838">0</text>
<text x="1350.2" y="1434.2" font-size="10.5" text-anchor="middle" fill="#383838">10<tspan font-size="6.5" dy="-4">2</tspan></text>
<text x="1373.4" y="1434.2" font-size="10.5" text-anchor="middle" fill="#383838">10<tspan font-size="6.5" dy="-4">3</tspan></text>
<text x="1396.7" y="1434.2" font-size="10.5" text-anchor="middle" fill="#383838">10<tspan font-size="6.5" dy="-4">4</tspan></text>
<text x="1419.9" y="1434.2" font-size="10.5" text-anchor="middle" fill="#383838">10<tspan font-size="6.5" dy="-4">5</tspan></text>
<text x="1443.1" y="1434.2" font-size="10.5" text-anchor="middle" fill="#383838">10<tspan font-size="6.5" dy="-4">6</tspan></text>
<text x="1466.3" y="1434.2" font-size="10.5" text-anchor="middle" fill="#383838">10<tspan font-size="6.5" dy="-4">7</tspan></text>
<text x="1313" y="1409.2" font-size="10" text-anchor="middle" fill="#383838" transform="rotate(-90 1313 1409.2)">0</text>
<text x="1313" y="1386.2" font-size="10" text-anchor="middle" fill="#383838" transform="rotate(-90 1313 1386.2)">10<tspan font-size="6.2" dy="-3.8">2</tspan></text>
<text x="1313" y="1363.3" font-size="10" text-anchor="middle" fill="#383838" transform="rotate(-90 1313 1363.3)">10<tspan font-size="6.2" dy="-3.8">3</tspan></text>
<text x="1313" y="1340.3" font-size="10" text-anchor="middle" fill="#383838" transform="rotate(-90 1313 1340.3)">10<tspan font-size="6.2" dy="-3.8">4</tspan></text>
<text x="1313" y="1317.3" font-size="10" text-anchor="middle" fill="#383838" transform="rotate(-90 1313 1317.3)">10<tspan font-size="6.2" dy="-3.8">5</tspan></text>
<text x="1313" y="1294.4" font-size="10" text-anchor="middle" fill="#383838" transform="rotate(-90 1313 1294.4)">10<tspan font-size="6.2" dy="-3.8">6</tspan></text>
<text x="1313" y="1271.4" font-size="10" text-anchor="middle" fill="#383838" transform="rotate(-90 1313 1271.4)">10<tspan font-size="6.2" dy="-3.8">7</tspan></text>
<text x="1322" y="1282.4" font-size="22.5">0.77%</text>
<text x="1471.3" y="1282.9" font-size="22.5" text-anchor="end">2.02%</text>
<text x="1321" y="1416.7" font-size="22.5">96.69%</text>
<text x="1472.8" y="1416.7" font-size="22.5" text-anchor="end">0.52%</text>
<rect x="1494.3" y="1261.4" width="157.8" height="157.8" fill="#fff" stroke="#999" stroke-width="1.3"/>
<g clip-path="url(#fc23)"><g filter="url(#spk)">
<ellipse cx="1556" cy="1355" rx="46" ry="26.4" fill="url(#gh)" transform="rotate(-25 1556 1355)"/>
<ellipse cx="1556" cy="1355" rx="30" ry="16.5" fill="url(#g3)" transform="rotate(-25 1556 1355)"/>
<ellipse cx="1581" cy="1317" rx="18" ry="9" fill="url(#g0)" transform="rotate(-50 1581 1317)"/>
<ellipse cx="1572" cy="1350" rx="12" ry="15" fill="url(#g0)"/>
</g></g>
<line x1="1572.4" y1="1261.4" x2="1572.4" y2="1419.2" stroke="#666" stroke-width="1.3"/>
<line x1="1494.3" y1="1338.8" x2="1652.1" y2="1338.8" stroke="#666" stroke-width="1.3"/>
<line x1="1494.3" y1="1261.4" x2="1494.3" y2="1420.2" stroke="#555" stroke-width="1.4"/>
<line x1="1493.3" y1="1419.2" x2="1652.1" y2="1419.2" stroke="#666" stroke-width="1.4"/>
<path d="M1494.3 1416.2h-3M1494.3 1413.1h-3M1494.3 1410h-3M1494.3 1406.9h-3M1494.3 1403.8h-3M1494.3 1400.7h-3M1494.3 1397.6h-3M1494.3 1394.5h-3M1494.3 1391.4h-3M1494.3 1388.3h-3M1494.3 1385.2h-3M1494.3 1382.1h-3M1494.3 1379h-3M1494.3 1375.9h-3M1494.3 1372.8h-3M1494.3 1369.7h-3M1494.3 1366.6h-3M1494.3 1363.5h-3M1494.3 1360.4h-3M1494.3 1357.3h-3M1494.3 1354.2h-3M1494.3 1351.1h-3M1494.3 1348h-3M1494.3 1344.9h-3M1494.3 1341.8h-3M1494.3 1338.7h-3M1494.3 1335.6h-3M1494.3 1332.5h-3M1494.3 1329.4h-3M1494.3 1326.3h-3M1494.3 1323.2h-3M1494.3 1320.1h-3M1494.3 1317h-3M1494.3 1313.9h-3M1494.3 1310.8h-3M1494.3 1307.7h-3M1494.3 1304.6h-3M1494.3 1301.5h-3M1494.3 1298.4h-3M1494.3 1295.3h-3M1494.3 1292.2h-3M1494.3 1289.1h-3M1494.3 1286h-3M1494.3 1282.9h-3M1494.3 1279.8h-3M1494.3 1276.7h-3M1494.3 1273.6h-3M1494.3 1270.5h-3M1494.3 1267.4h-3M1494.3 1264.3h-3M1497.3 1419.2v3M1500.4 1419.2v3M1503.5 1419.2v3M1506.6 1419.2v3M1509.7 1419.2v3M1512.8 1419.2v3M1515.9 1419.2v3M1519 1419.2v3M1522.1 1419.2v3M1525.2 1419.2v3M1528.3 1419.2v3M1531.4 1419.2v3M1534.5 1419.2v3M1537.6 1419.2v3M1540.7 1419.2v3M1543.8 1419.2v3M1546.9 1419.2v3M1550 1419.2v3M1553.1 1419.2v3M1556.2 1419.2v3M1559.3 1419.2v3M1562.4 1419.2v3M1565.5 1419.2v3M1568.6 1419.2v3M1571.7 1419.2v3M1574.8 1419.2v3M1577.9 1419.2v3M1581 1419.2v3M1584.1 1419.2v3M1587.2 1419.2v3M1590.3 1419.2v3M1593.4 1419.2v3M1596.5 1419.2v3M1599.6 1419.2v3M1602.7 1419.2v3M1605.8 1419.2v3M1608.9 1419.2v3M1612 1419.2v3M1615.1 1419.2v3M1618.2 1419.2v3M1621.3 1419.2v3M1624.4 1419.2v3M1627.5 1419.2v3M1630.6 1419.2v3M1633.7 1419.2v3M1636.8 1419.2v3M1639.9 1419.2v3M1643 1419.2v3M1646.1 1419.2v3M1649.2 1419.2v3" stroke="#777" stroke-width="0.9"/>
<text x="1505.3" y="1434.2" font-size="10.5" text-anchor="middle" fill="#383838">0</text>
<text x="1528.3" y="1434.2" font-size="10.5" text-anchor="middle" fill="#383838">10<tspan font-size="6.5" dy="-4">2</tspan></text>
<text x="1551.2" y="1434.2" font-size="10.5" text-anchor="middle" fill="#383838">10<tspan font-size="6.5" dy="-4">3</tspan></text>
<text x="1574.2" y="1434.2" font-size="10.5" text-anchor="middle" fill="#383838">10<tspan font-size="6.5" dy="-4">4</tspan></text>
<text x="1597.2" y="1434.2" font-size="10.5" text-anchor="middle" fill="#383838">10<tspan font-size="6.5" dy="-4">5</tspan></text>
<text x="1620.1" y="1434.2" font-size="10.5" text-anchor="middle" fill="#383838">10<tspan font-size="6.5" dy="-4">6</tspan></text>
<text x="1643.1" y="1434.2" font-size="10.5" text-anchor="middle" fill="#383838">10<tspan font-size="6.5" dy="-4">7</tspan></text>
<text x="1491.3" y="1409.2" font-size="10" text-anchor="middle" fill="#383838" transform="rotate(-90 1491.3 1409.2)">0</text>
<text x="1491.3" y="1386.2" font-size="10" text-anchor="middle" fill="#383838" transform="rotate(-90 1491.3 1386.2)">10<tspan font-size="6.2" dy="-3.8">2</tspan></text>
<text x="1491.3" y="1363.3" font-size="10" text-anchor="middle" fill="#383838" transform="rotate(-90 1491.3 1363.3)">10<tspan font-size="6.2" dy="-3.8">3</tspan></text>
<text x="1491.3" y="1340.3" font-size="10" text-anchor="middle" fill="#383838" transform="rotate(-90 1491.3 1340.3)">10<tspan font-size="6.2" dy="-3.8">4</tspan></text>
<text x="1491.3" y="1317.3" font-size="10" text-anchor="middle" fill="#383838" transform="rotate(-90 1491.3 1317.3)">10<tspan font-size="6.2" dy="-3.8">5</tspan></text>
<text x="1491.3" y="1294.4" font-size="10" text-anchor="middle" fill="#383838" transform="rotate(-90 1491.3 1294.4)">10<tspan font-size="6.2" dy="-3.8">6</tspan></text>
<text x="1491.3" y="1271.4" font-size="10" text-anchor="middle" fill="#383838" transform="rotate(-90 1491.3 1271.4)">10<tspan font-size="6.2" dy="-3.8">7</tspan></text>
<text x="1500.3" y="1282.4" font-size="22.5">0.84%</text>
<text x="1648.1" y="1282.9" font-size="22.5" text-anchor="end">3.63%</text>
<text x="1499.3" y="1416.7" font-size="22.5">91.30%</text>
<text x="1649.6" y="1416.7" font-size="22.5" text-anchor="end">4.23%</text>
<rect x="1671.1" y="1261.4" width="157.3" height="157.8" fill="#fff" stroke="#999" stroke-width="1.3"/>
<g clip-path="url(#fc24)"><g filter="url(#spk)">
<ellipse cx="1735" cy="1356" rx="55.2" ry="26.4" fill="url(#gh)" transform="rotate(-25 1735 1356)"/>
<ellipse cx="1735" cy="1356" rx="36" ry="16.5" fill="url(#g3)" transform="rotate(-25 1735 1356)"/>
<ellipse cx="1762" cy="1317" rx="21" ry="9" fill="url(#g1)" transform="rotate(-45 1762 1317)"/>
<ellipse cx="1752" cy="1345" rx="12" ry="15" fill="url(#g0)"/>
</g></g>
<line x1="1750" y1="1261.4" x2="1750" y2="1419.2" stroke="#666" stroke-width="1.3"/>
<line x1="1671.1" y1="1338.8" x2="1828.4" y2="1338.8" stroke="#666" stroke-width="1.3"/>
<line x1="1671.1" y1="1261.4" x2="1671.1" y2="1420.2" stroke="#555" stroke-width="1.4"/>
<line x1="1670.1" y1="1419.2" x2="1828.4" y2="1419.2" stroke="#666" stroke-width="1.4"/>
<path d="M1671.1 1416.2h-3M1671.1 1413.1h-3M1671.1 1410h-3M1671.1 1406.9h-3M1671.1 1403.8h-3M1671.1 1400.7h-3M1671.1 1397.6h-3M1671.1 1394.5h-3M1671.1 1391.4h-3M1671.1 1388.3h-3M1671.1 1385.2h-3M1671.1 1382.1h-3M1671.1 1379h-3M1671.1 1375.9h-3M1671.1 1372.8h-3M1671.1 1369.7h-3M1671.1 1366.6h-3M1671.1 1363.5h-3M1671.1 1360.4h-3M1671.1 1357.3h-3M1671.1 1354.2h-3M1671.1 1351.1h-3M1671.1 1348h-3M1671.1 1344.9h-3M1671.1 1341.8h-3M1671.1 1338.7h-3M1671.1 1335.6h-3M1671.1 1332.5h-3M1671.1 1329.4h-3M1671.1 1326.3h-3M1671.1 1323.2h-3M1671.1 1320.1h-3M1671.1 1317h-3M1671.1 1313.9h-3M1671.1 1310.8h-3M1671.1 1307.7h-3M1671.1 1304.6h-3M1671.1 1301.5h-3M1671.1 1298.4h-3M1671.1 1295.3h-3M1671.1 1292.2h-3M1671.1 1289.1h-3M1671.1 1286h-3M1671.1 1282.9h-3M1671.1 1279.8h-3M1671.1 1276.7h-3M1671.1 1273.6h-3M1671.1 1270.5h-3M1671.1 1267.4h-3M1671.1 1264.3h-3M1674.1 1419.2v3M1677.2 1419.2v3M1680.3 1419.2v3M1683.4 1419.2v3M1686.5 1419.2v3M1689.6 1419.2v3M1692.7 1419.2v3M1695.8 1419.2v3M1698.9 1419.2v3M1702 1419.2v3M1705.1 1419.2v3M1708.2 1419.2v3M1711.3 1419.2v3M1714.4 1419.2v3M1717.5 1419.2v3M1720.6 1419.2v3M1723.7 1419.2v3M1726.8 1419.2v3M1729.9 1419.2v3M1733 1419.2v3M1736.1 1419.2v3M1739.2 1419.2v3M1742.3 1419.2v3M1745.4 1419.2v3M1748.5 1419.2v3M1751.6 1419.2v3M1754.7 1419.2v3M1757.8 1419.2v3M1760.9 1419.2v3M1764 1419.2v3M1767.1 1419.2v3M1770.2 1419.2v3M1773.3 1419.2v3M1776.4 1419.2v3M1779.5 1419.2v3M1782.6 1419.2v3M1785.7 1419.2v3M1788.8 1419.2v3M1791.9 1419.2v3M1795 1419.2v3M1798.1 1419.2v3M1801.2 1419.2v3M1804.3 1419.2v3M1807.4 1419.2v3M1810.5 1419.2v3M1813.6 1419.2v3M1816.7 1419.2v3M1819.8 1419.2v3M1822.9 1419.2v3M1826 1419.2v3" stroke="#777" stroke-width="0.9"/>
<text x="1682.1" y="1434.2" font-size="10.5" text-anchor="middle" fill="#383838">0</text>
<text x="1705" y="1434.2" font-size="10.5" text-anchor="middle" fill="#383838">10<tspan font-size="6.5" dy="-4">2</tspan></text>
<text x="1727.9" y="1434.2" font-size="10.5" text-anchor="middle" fill="#383838">10<tspan font-size="6.5" dy="-4">3</tspan></text>
<text x="1750.8" y="1434.2" font-size="10.5" text-anchor="middle" fill="#383838">10<tspan font-size="6.5" dy="-4">4</tspan></text>
<text x="1773.6" y="1434.2" font-size="10.5" text-anchor="middle" fill="#383838">10<tspan font-size="6.5" dy="-4">5</tspan></text>
<text x="1796.5" y="1434.2" font-size="10.5" text-anchor="middle" fill="#383838">10<tspan font-size="6.5" dy="-4">6</tspan></text>
<text x="1819.4" y="1434.2" font-size="10.5" text-anchor="middle" fill="#383838">10<tspan font-size="6.5" dy="-4">7</tspan></text>
<text x="1668.1" y="1409.2" font-size="10" text-anchor="middle" fill="#383838" transform="rotate(-90 1668.1 1409.2)">0</text>
<text x="1668.1" y="1386.2" font-size="10" text-anchor="middle" fill="#383838" transform="rotate(-90 1668.1 1386.2)">10<tspan font-size="6.2" dy="-3.8">2</tspan></text>
<text x="1668.1" y="1363.3" font-size="10" text-anchor="middle" fill="#383838" transform="rotate(-90 1668.1 1363.3)">10<tspan font-size="6.2" dy="-3.8">3</tspan></text>
<text x="1668.1" y="1340.3" font-size="10" text-anchor="middle" fill="#383838" transform="rotate(-90 1668.1 1340.3)">10<tspan font-size="6.2" dy="-3.8">4</tspan></text>
<text x="1668.1" y="1317.3" font-size="10" text-anchor="middle" fill="#383838" transform="rotate(-90 1668.1 1317.3)">10<tspan font-size="6.2" dy="-3.8">5</tspan></text>
<text x="1668.1" y="1294.4" font-size="10" text-anchor="middle" fill="#383838" transform="rotate(-90 1668.1 1294.4)">10<tspan font-size="6.2" dy="-3.8">6</tspan></text>
<text x="1668.1" y="1271.4" font-size="10" text-anchor="middle" fill="#383838" transform="rotate(-90 1668.1 1271.4)">10<tspan font-size="6.2" dy="-3.8">7</tspan></text>
<text x="1677.1" y="1282.4" font-size="22.5">0.78%</text>
<text x="1824.4" y="1282.9" font-size="22.5" text-anchor="end">6.95%</text>
<text x="1676.1" y="1416.7" font-size="22.5">85.59%</text>
<text x="1825.9" y="1416.7" font-size="22.5" text-anchor="end">6.68%</text>
<rect x="1316" y="1441.1" width="159.3" height="157.2" fill="#fff" stroke="#999" stroke-width="1.3"/>
<g clip-path="url(#fc25)"><g filter="url(#spk)">
<ellipse cx="1369" cy="1539" rx="39.1" ry="26.4" fill="url(#gh)" transform="rotate(-40 1369 1539)"/>
<ellipse cx="1369" cy="1539" rx="25.5" ry="16.5" fill="url(#g3)" transform="rotate(-40 1369 1539)"/>
<ellipse cx="1408" cy="1491" rx="18" ry="9" fill="url(#g0)" transform="rotate(-45 1408 1491)"/>
</g></g>
<line x1="1396" y1="1441.1" x2="1396" y2="1598.3" stroke="#666" stroke-width="1.3"/>
<line x1="1316" y1="1516.2" x2="1475.3" y2="1516.2" stroke="#666" stroke-width="1.3"/>
<line x1="1316" y1="1441.1" x2="1316" y2="1599.3" stroke="#555" stroke-width="1.4"/>
<line x1="1315" y1="1598.3" x2="1475.3" y2="1598.3" stroke="#666" stroke-width="1.4"/>
<path d="M1316 1595.3h-3M1316 1592.2h-3M1316 1589.1h-3M1316 1586h-3M1316 1582.9h-3M1316 1579.8h-3M1316 1576.7h-3M1316 1573.6h-3M1316 1570.5h-3M1316 1567.4h-3M1316 1564.3h-3M1316 1561.2h-3M1316 1558.1h-3M1316 1555h-3M1316 1551.9h-3M1316 1548.8h-3M1316 1545.7h-3M1316 1542.6h-3M1316 1539.5h-3M1316 1536.4h-3M1316 1533.3h-3M1316 1530.2h-3M1316 1527.1h-3M1316 1524h-3M1316 1520.9h-3M1316 1517.8h-3M1316 1514.7h-3M1316 1511.6h-3M1316 1508.5h-3M1316 1505.4h-3M1316 1502.3h-3M1316 1499.2h-3M1316 1496.1h-3M1316 1493h-3M1316 1489.9h-3M1316 1486.8h-3M1316 1483.7h-3M1316 1480.6h-3M1316 1477.5h-3M1316 1474.4h-3M1316 1471.3h-3M1316 1468.2h-3M1316 1465.1h-3M1316 1462h-3M1316 1458.9h-3M1316 1455.8h-3M1316 1452.7h-3M1316 1449.6h-3M1316 1446.5h-3M1316 1443.4h-3M1319 1598.3v3M1322.1 1598.3v3M1325.2 1598.3v3M1328.3 1598.3v3M1331.4 1598.3v3M1334.5 1598.3v3M1337.6 1598.3v3M1340.7 1598.3v3M1343.8 1598.3v3M1346.9 1598.3v3M1350 1598.3v3M1353.1 1598.3v3M1356.2 1598.3v3M1359.3 1598.3v3M1362.4 1598.3v3M1365.5 1598.3v3M1368.6 1598.3v3M1371.7 1598.3v3M1374.8 1598.3v3M1377.9 1598.3v3M1381 1598.3v3M1384.1 1598.3v3M1387.2 1598.3v3M1390.3 1598.3v3M1393.4 1598.3v3M1396.5 1598.3v3M1399.6 1598.3v3M1402.7 1598.3v3M1405.8 1598.3v3M1408.9 1598.3v3M1412 1598.3v3M1415.1 1598.3v3M1418.2 1598.3v3M1421.3 1598.3v3M1424.4 1598.3v3M1427.5 1598.3v3M1430.6 1598.3v3M1433.7 1598.3v3M1436.8 1598.3v3M1439.9 1598.3v3M1443 1598.3v3M1446.1 1598.3v3M1449.2 1598.3v3M1452.3 1598.3v3M1455.4 1598.3v3M1458.5 1598.3v3M1461.6 1598.3v3M1464.7 1598.3v3M1467.8 1598.3v3M1470.9 1598.3v3" stroke="#777" stroke-width="0.9"/>
<text x="1327" y="1613.3" font-size="10.5" text-anchor="middle" fill="#383838">0</text>
<text x="1350.2" y="1613.3" font-size="10.5" text-anchor="middle" fill="#383838">10<tspan font-size="6.5" dy="-4">2</tspan></text>
<text x="1373.4" y="1613.3" font-size="10.5" text-anchor="middle" fill="#383838">10<tspan font-size="6.5" dy="-4">3</tspan></text>
<text x="1396.7" y="1613.3" font-size="10.5" text-anchor="middle" fill="#383838">10<tspan font-size="6.5" dy="-4">4</tspan></text>
<text x="1419.9" y="1613.3" font-size="10.5" text-anchor="middle" fill="#383838">10<tspan font-size="6.5" dy="-4">5</tspan></text>
<text x="1443.1" y="1613.3" font-size="10.5" text-anchor="middle" fill="#383838">10<tspan font-size="6.5" dy="-4">6</tspan></text>
<text x="1466.3" y="1613.3" font-size="10.5" text-anchor="middle" fill="#383838">10<tspan font-size="6.5" dy="-4">7</tspan></text>
<text x="1313" y="1588.3" font-size="10" text-anchor="middle" fill="#383838" transform="rotate(-90 1313 1588.3)">0</text>
<text x="1313" y="1565.4" font-size="10" text-anchor="middle" fill="#383838" transform="rotate(-90 1313 1565.4)">10<tspan font-size="6.2" dy="-3.8">2</tspan></text>
<text x="1313" y="1542.6" font-size="10" text-anchor="middle" fill="#383838" transform="rotate(-90 1313 1542.6)">10<tspan font-size="6.2" dy="-3.8">3</tspan></text>
<text x="1313" y="1519.7" font-size="10" text-anchor="middle" fill="#383838" transform="rotate(-90 1313 1519.7)">10<tspan font-size="6.2" dy="-3.8">4</tspan></text>
<text x="1313" y="1496.8" font-size="10" text-anchor="middle" fill="#383838" transform="rotate(-90 1313 1496.8)">10<tspan font-size="6.2" dy="-3.8">5</tspan></text>
<text x="1313" y="1474" font-size="10" text-anchor="middle" fill="#383838" transform="rotate(-90 1313 1474)">10<tspan font-size="6.2" dy="-3.8">6</tspan></text>
<text x="1313" y="1451.1" font-size="10" text-anchor="middle" fill="#383838" transform="rotate(-90 1313 1451.1)">10<tspan font-size="6.2" dy="-3.8">7</tspan></text>
<text x="1322" y="1462.1" font-size="22.5">0.29%</text>
<text x="1471.3" y="1462.6" font-size="22.5" text-anchor="end">1.55%</text>
<text x="1321" y="1595.8" font-size="22.5">97.97%</text>
<text x="1472.8" y="1595.8" font-size="22.5" text-anchor="end">0.19%</text>
<rect x="1494.3" y="1441.1" width="157.8" height="157.2" fill="#fff" stroke="#999" stroke-width="1.3"/>
<g clip-path="url(#fc26)"><g filter="url(#spk)">
<ellipse cx="1551" cy="1538" rx="50.6" ry="26.4" fill="url(#gh)" transform="rotate(-25 1551 1538)"/>
<ellipse cx="1551" cy="1538" rx="33" ry="16.5" fill="url(#g3)" transform="rotate(-25 1551 1538)"/>
<ellipse cx="1582" cy="1494" rx="21" ry="9" fill="url(#g1)" transform="rotate(-45 1582 1494)"/>
<ellipse cx="1570" cy="1530" rx="12" ry="15" fill="url(#g0)"/>
</g></g>
<line x1="1572" y1="1441.1" x2="1572" y2="1598.3" stroke="#666" stroke-width="1.3"/>
<line x1="1494.3" y1="1520" x2="1652.1" y2="1520" stroke="#666" stroke-width="1.3"/>
<line x1="1494.3" y1="1441.1" x2="1494.3" y2="1599.3" stroke="#555" stroke-width="1.4"/>
<line x1="1493.3" y1="1598.3" x2="1652.1" y2="1598.3" stroke="#666" stroke-width="1.4"/>
<path d="M1494.3 1595.3h-3M1494.3 1592.2h-3M1494.3 1589.1h-3M1494.3 1586h-3M1494.3 1582.9h-3M1494.3 1579.8h-3M1494.3 1576.7h-3M1494.3 1573.6h-3M1494.3 1570.5h-3M1494.3 1567.4h-3M1494.3 1564.3h-3M1494.3 1561.2h-3M1494.3 1558.1h-3M1494.3 1555h-3M1494.3 1551.9h-3M1494.3 1548.8h-3M1494.3 1545.7h-3M1494.3 1542.6h-3M1494.3 1539.5h-3M1494.3 1536.4h-3M1494.3 1533.3h-3M1494.3 1530.2h-3M1494.3 1527.1h-3M1494.3 1524h-3M1494.3 1520.9h-3M1494.3 1517.8h-3M1494.3 1514.7h-3M1494.3 1511.6h-3M1494.3 1508.5h-3M1494.3 1505.4h-3M1494.3 1502.3h-3M1494.3 1499.2h-3M1494.3 1496.1h-3M1494.3 1493h-3M1494.3 1489.9h-3M1494.3 1486.8h-3M1494.3 1483.7h-3M1494.3 1480.6h-3M1494.3 1477.5h-3M1494.3 1474.4h-3M1494.3 1471.3h-3M1494.3 1468.2h-3M1494.3 1465.1h-3M1494.3 1462h-3M1494.3 1458.9h-3M1494.3 1455.8h-3M1494.3 1452.7h-3M1494.3 1449.6h-3M1494.3 1446.5h-3M1494.3 1443.4h-3M1497.3 1598.3v3M1500.4 1598.3v3M1503.5 1598.3v3M1506.6 1598.3v3M1509.7 1598.3v3M1512.8 1598.3v3M1515.9 1598.3v3M1519 1598.3v3M1522.1 1598.3v3M1525.2 1598.3v3M1528.3 1598.3v3M1531.4 1598.3v3M1534.5 1598.3v3M1537.6 1598.3v3M1540.7 1598.3v3M1543.8 1598.3v3M1546.9 1598.3v3M1550 1598.3v3M1553.1 1598.3v3M1556.2 1598.3v3M1559.3 1598.3v3M1562.4 1598.3v3M1565.5 1598.3v3M1568.6 1598.3v3M1571.7 1598.3v3M1574.8 1598.3v3M1577.9 1598.3v3M1581 1598.3v3M1584.1 1598.3v3M1587.2 1598.3v3M1590.3 1598.3v3M1593.4 1598.3v3M1596.5 1598.3v3M1599.6 1598.3v3M1602.7 1598.3v3M1605.8 1598.3v3M1608.9 1598.3v3M1612 1598.3v3M1615.1 1598.3v3M1618.2 1598.3v3M1621.3 1598.3v3M1624.4 1598.3v3M1627.5 1598.3v3M1630.6 1598.3v3M1633.7 1598.3v3M1636.8 1598.3v3M1639.9 1598.3v3M1643 1598.3v3M1646.1 1598.3v3M1649.2 1598.3v3" stroke="#777" stroke-width="0.9"/>
<text x="1505.3" y="1613.3" font-size="10.5" text-anchor="middle" fill="#383838">0</text>
<text x="1528.3" y="1613.3" font-size="10.5" text-anchor="middle" fill="#383838">10<tspan font-size="6.5" dy="-4">2</tspan></text>
<text x="1551.2" y="1613.3" font-size="10.5" text-anchor="middle" fill="#383838">10<tspan font-size="6.5" dy="-4">3</tspan></text>
<text x="1574.2" y="1613.3" font-size="10.5" text-anchor="middle" fill="#383838">10<tspan font-size="6.5" dy="-4">4</tspan></text>
<text x="1597.2" y="1613.3" font-size="10.5" text-anchor="middle" fill="#383838">10<tspan font-size="6.5" dy="-4">5</tspan></text>
<text x="1620.1" y="1613.3" font-size="10.5" text-anchor="middle" fill="#383838">10<tspan font-size="6.5" dy="-4">6</tspan></text>
<text x="1643.1" y="1613.3" font-size="10.5" text-anchor="middle" fill="#383838">10<tspan font-size="6.5" dy="-4">7</tspan></text>
<text x="1491.3" y="1588.3" font-size="10" text-anchor="middle" fill="#383838" transform="rotate(-90 1491.3 1588.3)">0</text>
<text x="1491.3" y="1565.4" font-size="10" text-anchor="middle" fill="#383838" transform="rotate(-90 1491.3 1565.4)">10<tspan font-size="6.2" dy="-3.8">2</tspan></text>
<text x="1491.3" y="1542.6" font-size="10" text-anchor="middle" fill="#383838" transform="rotate(-90 1491.3 1542.6)">10<tspan font-size="6.2" dy="-3.8">3</tspan></text>
<text x="1491.3" y="1519.7" font-size="10" text-anchor="middle" fill="#383838" transform="rotate(-90 1491.3 1519.7)">10<tspan font-size="6.2" dy="-3.8">4</tspan></text>
<text x="1491.3" y="1496.8" font-size="10" text-anchor="middle" fill="#383838" transform="rotate(-90 1491.3 1496.8)">10<tspan font-size="6.2" dy="-3.8">5</tspan></text>
<text x="1491.3" y="1474" font-size="10" text-anchor="middle" fill="#383838" transform="rotate(-90 1491.3 1474)">10<tspan font-size="6.2" dy="-3.8">6</tspan></text>
<text x="1491.3" y="1451.1" font-size="10" text-anchor="middle" fill="#383838" transform="rotate(-90 1491.3 1451.1)">10<tspan font-size="6.2" dy="-3.8">7</tspan></text>
<text x="1500.3" y="1462.1" font-size="22.5">1.13%</text>
<text x="1648.1" y="1462.6" font-size="22.5" text-anchor="end">8.58%</text>
<text x="1499.3" y="1595.8" font-size="22.5">86.44%</text>
<text x="1649.6" y="1595.8" font-size="22.5" text-anchor="end">3.85%</text>
<rect x="1671.1" y="1441.1" width="157.3" height="157.2" fill="#fff" stroke="#999" stroke-width="1.3"/>
<g clip-path="url(#fc27)"><g filter="url(#spk)">
<ellipse cx="1735" cy="1536" rx="50.6" ry="26.4" fill="url(#gh)" transform="rotate(-25 1735 1536)"/>
<ellipse cx="1760" cy="1500" rx="27.6" ry="21.6" fill="url(#gh)" transform="rotate(-45 1760 1500)"/>
<ellipse cx="1735" cy="1536" rx="33" ry="16.5" fill="url(#g3)" transform="rotate(-25 1735 1536)"/>
<ellipse cx="1760" cy="1500" rx="18" ry="13.5" fill="url(#g2)" transform="rotate(-45 1760 1500)"/>
<ellipse cx="1752" cy="1525" rx="12" ry="15" fill="url(#g0)"/>
</g></g>
<line x1="1750" y1="1441.1" x2="1750" y2="1598.3" stroke="#666" stroke-width="1.3"/>
<line x1="1671.1" y1="1518.6" x2="1828.4" y2="1518.6" stroke="#666" stroke-width="1.3"/>
<line x1="1671.1" y1="1441.1" x2="1671.1" y2="1599.3" stroke="#555" stroke-width="1.4"/>
<line x1="1670.1" y1="1598.3" x2="1828.4" y2="1598.3" stroke="#666" stroke-width="1.4"/>
<path d="M1671.1 1595.3h-3M1671.1 1592.2h-3M1671.1 1589.1h-3M1671.1 1586h-3M1671.1 1582.9h-3M1671.1 1579.8h-3M1671.1 1576.7h-3M1671.1 1573.6h-3M1671.1 1570.5h-3M1671.1 1567.4h-3M1671.1 1564.3h-3M1671.1 1561.2h-3M1671.1 1558.1h-3M1671.1 1555h-3M1671.1 1551.9h-3M1671.1 1548.8h-3M1671.1 1545.7h-3M1671.1 1542.6h-3M1671.1 1539.5h-3M1671.1 1536.4h-3M1671.1 1533.3h-3M1671.1 1530.2h-3M1671.1 1527.1h-3M1671.1 1524h-3M1671.1 1520.9h-3M1671.1 1517.8h-3M1671.1 1514.7h-3M1671.1 1511.6h-3M1671.1 1508.5h-3M1671.1 1505.4h-3M1671.1 1502.3h-3M1671.1 1499.2h-3M1671.1 1496.1h-3M1671.1 1493h-3M1671.1 1489.9h-3M1671.1 1486.8h-3M1671.1 1483.7h-3M1671.1 1480.6h-3M1671.1 1477.5h-3M1671.1 1474.4h-3M1671.1 1471.3h-3M1671.1 1468.2h-3M1671.1 1465.1h-3M1671.1 1462h-3M1671.1 1458.9h-3M1671.1 1455.8h-3M1671.1 1452.7h-3M1671.1 1449.6h-3M1671.1 1446.5h-3M1671.1 1443.4h-3M1674.1 1598.3v3M1677.2 1598.3v3M1680.3 1598.3v3M1683.4 1598.3v3M1686.5 1598.3v3M1689.6 1598.3v3M1692.7 1598.3v3M1695.8 1598.3v3M1698.9 1598.3v3M1702 1598.3v3M1705.1 1598.3v3M1708.2 1598.3v3M1711.3 1598.3v3M1714.4 1598.3v3M1717.5 1598.3v3M1720.6 1598.3v3M1723.7 1598.3v3M1726.8 1598.3v3M1729.9 1598.3v3M1733 1598.3v3M1736.1 1598.3v3M1739.2 1598.3v3M1742.3 1598.3v3M1745.4 1598.3v3M1748.5 1598.3v3M1751.6 1598.3v3M1754.7 1598.3v3M1757.8 1598.3v3M1760.9 1598.3v3M1764 1598.3v3M1767.1 1598.3v3M1770.2 1598.3v3M1773.3 1598.3v3M1776.4 1598.3v3M1779.5 1598.3v3M1782.6 1598.3v3M1785.7 1598.3v3M1788.8 1598.3v3M1791.9 1598.3v3M1795 1598.3v3M1798.1 1598.3v3M1801.2 1598.3v3M1804.3 1598.3v3M1807.4 1598.3v3M1810.5 1598.3v3M1813.6 1598.3v3M1816.7 1598.3v3M1819.8 1598.3v3M1822.9 1598.3v3M1826 1598.3v3" stroke="#777" stroke-width="0.9"/>
<text x="1682.1" y="1613.3" font-size="10.5" text-anchor="middle" fill="#383838">0</text>
<text x="1705" y="1613.3" font-size="10.5" text-anchor="middle" fill="#383838">10<tspan font-size="6.5" dy="-4">2</tspan></text>
<text x="1727.9" y="1613.3" font-size="10.5" text-anchor="middle" fill="#383838">10<tspan font-size="6.5" dy="-4">3</tspan></text>
<text x="1750.8" y="1613.3" font-size="10.5" text-anchor="middle" fill="#383838">10<tspan font-size="6.5" dy="-4">4</tspan></text>
<text x="1773.6" y="1613.3" font-size="10.5" text-anchor="middle" fill="#383838">10<tspan font-size="6.5" dy="-4">5</tspan></text>
<text x="1796.5" y="1613.3" font-size="10.5" text-anchor="middle" fill="#383838">10<tspan font-size="6.5" dy="-4">6</tspan></text>
<text x="1819.4" y="1613.3" font-size="10.5" text-anchor="middle" fill="#383838">10<tspan font-size="6.5" dy="-4">7</tspan></text>
<text x="1668.1" y="1588.3" font-size="10" text-anchor="middle" fill="#383838" transform="rotate(-90 1668.1 1588.3)">0</text>
<text x="1668.1" y="1565.4" font-size="10" text-anchor="middle" fill="#383838" transform="rotate(-90 1668.1 1565.4)">10<tspan font-size="6.2" dy="-3.8">2</tspan></text>
<text x="1668.1" y="1542.6" font-size="10" text-anchor="middle" fill="#383838" transform="rotate(-90 1668.1 1542.6)">10<tspan font-size="6.2" dy="-3.8">3</tspan></text>
<text x="1668.1" y="1519.7" font-size="10" text-anchor="middle" fill="#383838" transform="rotate(-90 1668.1 1519.7)">10<tspan font-size="6.2" dy="-3.8">4</tspan></text>
<text x="1668.1" y="1496.8" font-size="10" text-anchor="middle" fill="#383838" transform="rotate(-90 1668.1 1496.8)">10<tspan font-size="6.2" dy="-3.8">5</tspan></text>
<text x="1668.1" y="1474" font-size="10" text-anchor="middle" fill="#383838" transform="rotate(-90 1668.1 1474)">10<tspan font-size="6.2" dy="-3.8">6</tspan></text>
<text x="1668.1" y="1451.1" font-size="10" text-anchor="middle" fill="#383838" transform="rotate(-90 1668.1 1451.1)">10<tspan font-size="6.2" dy="-3.8">7</tspan></text>
<text x="1677.1" y="1462.1" font-size="22.5">1.72%</text>
<text x="1824.4" y="1462.6" font-size="22.5" text-anchor="end">16.08%</text>
<text x="1676.1" y="1595.8" font-size="22.5">73.92%</text>
<text x="1825.9" y="1595.8" font-size="22.5" text-anchor="end">8.28%</text>
<line x1="590" y1="2113" x2="590" y2="1507" stroke="#000" stroke-width="1.7"/>
<path d="M583 1519L590 1507L597 1519" stroke="#000" stroke-width="1.7" fill="none"/>
<line x1="590" y1="2113" x2="1195" y2="2113" stroke="#000" stroke-width="1.7"/>
<path d="M1183 2106L1195 2113L1183 2120" stroke="#000" stroke-width="1.7" fill="none"/>
<text x="585.4" y="1833" font-size="28" text-anchor="middle" transform="rotate(-90 585.4 1833)" textLength="82" lengthAdjust="spacingAndGlyphs">7-AAD</text>
<text x="613" y="1829.8" font-size="27" text-anchor="middle" transform="rotate(-90 613 1829.8)" textLength="85" lengthAdjust="spacingAndGlyphs">H1975</text>
<line x1="613.5" y1="1642" x2="613.5" y2="2033" stroke="#000" stroke-width="1.7"/>
<text x="637.7" y="1647" font-size="25" text-anchor="middle" transform="rotate(-90 637.7 1647)" textLength="102" lengthAdjust="spacingAndGlyphs">Nonsense</text>
<text x="637.5" y="1836.5" font-size="25" text-anchor="middle" transform="rotate(-90 637.5 1836.5)" textLength="139" lengthAdjust="spacingAndGlyphs">Si CRTAC1-2</text>
<text x="637.5" y="2015" font-size="25" text-anchor="middle" transform="rotate(-90 637.5 2015)" textLength="142" lengthAdjust="spacingAndGlyphs">Si CRTAC1-3</text>
<text x="855" y="1540" font-size="22" textLength="132" lengthAdjust="spacingAndGlyphs" xml:space="preserve" style="white-space:pre">CDDP  (μM)</text>
<line x1="743" y1="1548" x2="1092" y2="1548" stroke="#000" stroke-width="1.7"/>
<text x="815" y="1570" font-size="24" text-anchor="middle">0</text>
<text x="1013" y="1570" font-size="24" text-anchor="middle">10</text>
<text x="827" y="2140.5" font-size="27" textLength="188" lengthAdjust="spacingAndGlyphs">Annexin V-APC</text>
<rect x="654.3" y="1574.9" width="158.9" height="157.7" fill="#fff" stroke="#999" stroke-width="1.3"/>
<g clip-path="url(#fc28)"><g filter="url(#spk)">
<ellipse cx="714" cy="1670" rx="50.6" ry="31.2" fill="url(#gh)" transform="rotate(-40 714 1670)"/>
<ellipse cx="714" cy="1670" rx="33" ry="19.5" fill="url(#g4)" transform="rotate(-40 714 1670)"/>
<ellipse cx="702" cy="1682" rx="21" ry="21" fill="url(#g1)"/>
<ellipse cx="740" cy="1640" rx="33" ry="6" fill="url(#g0)" transform="rotate(-45 740 1640)"/>
<ellipse cx="752" cy="1630" rx="18" ry="6" fill="url(#g1)" transform="rotate(-45 752 1630)"/>
</g></g>
<line x1="732.9" y1="1574.9" x2="732.9" y2="1732.6" stroke="#666" stroke-width="1.3"/>
<line x1="654.3" y1="1651.7" x2="813.2" y2="1651.7" stroke="#666" stroke-width="1.3"/>
<line x1="654.3" y1="1574.9" x2="654.3" y2="1733.6" stroke="#555" stroke-width="1.4"/>
<line x1="653.3" y1="1732.6" x2="813.2" y2="1732.6" stroke="#666" stroke-width="1.4"/>
<path d="M654.3 1729.6h-3M654.3 1726.5h-3M654.3 1723.4h-3M654.3 1720.3h-3M654.3 1717.2h-3M654.3 1714.1h-3M654.3 1711h-3M654.3 1707.9h-3M654.3 1704.8h-3M654.3 1701.7h-3M654.3 1698.6h-3M654.3 1695.5h-3M654.3 1692.4h-3M654.3 1689.3h-3M654.3 1686.2h-3M654.3 1683.1h-3M654.3 1680h-3M654.3 1676.9h-3M654.3 1673.8h-3M654.3 1670.7h-3M654.3 1667.6h-3M654.3 1664.5h-3M654.3 1661.4h-3M654.3 1658.3h-3M654.3 1655.2h-3M654.3 1652.1h-3M654.3 1649h-3M654.3 1645.9h-3M654.3 1642.8h-3M654.3 1639.7h-3M654.3 1636.6h-3M654.3 1633.5h-3M654.3 1630.4h-3M654.3 1627.3h-3M654.3 1624.2h-3M654.3 1621.1h-3M654.3 1618h-3M654.3 1614.9h-3M654.3 1611.8h-3M654.3 1608.7h-3M654.3 1605.6h-3M654.3 1602.5h-3M654.3 1599.4h-3M654.3 1596.3h-3M654.3 1593.2h-3M654.3 1590.1h-3M654.3 1587h-3M654.3 1583.9h-3M654.3 1580.8h-3M654.3 1577.7h-3M657.3 1732.6v3M660.4 1732.6v3M663.5 1732.6v3M666.6 1732.6v3M669.7 1732.6v3M672.8 1732.6v3M675.9 1732.6v3M679 1732.6v3M682.1 1732.6v3M685.2 1732.6v3M688.3 1732.6v3M691.4 1732.6v3M694.5 1732.6v3M697.6 1732.6v3M700.7 1732.6v3M703.8 1732.6v3M706.9 1732.6v3M710 1732.6v3M713.1 1732.6v3M716.2 1732.6v3M719.3 1732.6v3M722.4 1732.6v3M725.5 1732.6v3M728.6 1732.6v3M731.7 1732.6v3M734.8 1732.6v3M737.9 1732.6v3M741 1732.6v3M744.1 1732.6v3M747.2 1732.6v3M750.3 1732.6v3M753.4 1732.6v3M756.5 1732.6v3M759.6 1732.6v3M762.7 1732.6v3M765.8 1732.6v3M768.9 1732.6v3M772 1732.6v3M775.1 1732.6v3M778.2 1732.6v3M781.3 1732.6v3M784.4 1732.6v3M787.5 1732.6v3M790.6 1732.6v3M793.7 1732.6v3M796.8 1732.6v3M799.9 1732.6v3M803 1732.6v3M806.1 1732.6v3M809.2 1732.6v3" stroke="#777" stroke-width="0.9"/>
<text x="665.3" y="1747.6" font-size="10.5" text-anchor="middle" fill="#383838">0</text>
<text x="685.1" y="1747.6" font-size="10.5" text-anchor="middle" fill="#383838">10<tspan font-size="6.5" dy="-4">1</tspan></text>
<text x="705" y="1747.6" font-size="10.5" text-anchor="middle" fill="#383838">10<tspan font-size="6.5" dy="-4">2</tspan></text>
<text x="724.8" y="1747.6" font-size="10.5" text-anchor="middle" fill="#383838">10<tspan font-size="6.5" dy="-4">3</tspan></text>
<text x="744.7" y="1747.6" font-size="10.5" text-anchor="middle" fill="#383838">10<tspan font-size="6.5" dy="-4">4</tspan></text>
<text x="764.5" y="1747.6" font-size="10.5" text-anchor="middle" fill="#383838">10<tspan font-size="6.5" dy="-4">5</tspan></text>
<text x="784.4" y="1747.6" font-size="10.5" text-anchor="middle" fill="#383838">10<tspan font-size="6.5" dy="-4">6</tspan></text>
<text x="804.2" y="1747.6" font-size="10.5" text-anchor="middle" fill="#383838">10<tspan font-size="6.5" dy="-4">7</tspan></text>
<text x="647.3" y="1722.6" font-size="10" text-anchor="middle" fill="#383838" transform="rotate(-90 647.3 1722.6)">0</text>
<text x="647.3" y="1699.6" font-size="10" text-anchor="middle" fill="#383838" transform="rotate(-90 647.3 1699.6)">10<tspan font-size="6.2" dy="-3.8">2</tspan></text>
<text x="647.3" y="1676.7" font-size="10" text-anchor="middle" fill="#383838" transform="rotate(-90 647.3 1676.7)">10<tspan font-size="6.2" dy="-3.8">3</tspan></text>
<text x="647.3" y="1653.8" font-size="10" text-anchor="middle" fill="#383838" transform="rotate(-90 647.3 1653.8)">10<tspan font-size="6.2" dy="-3.8">4</tspan></text>
<text x="647.3" y="1630.8" font-size="10" text-anchor="middle" fill="#383838" transform="rotate(-90 647.3 1630.8)">10<tspan font-size="6.2" dy="-3.8">5</tspan></text>
<text x="647.3" y="1607.9" font-size="10" text-anchor="middle" fill="#383838" transform="rotate(-90 647.3 1607.9)">10<tspan font-size="6.2" dy="-3.8">6</tspan></text>
<text x="647.3" y="1584.9" font-size="10" text-anchor="middle" fill="#383838" transform="rotate(-90 647.3 1584.9)">10<tspan font-size="6.2" dy="-3.8">7</tspan></text>
<text x="659.3" y="1594.9" font-size="22.5">0.08%</text>
<text x="809.2" y="1595.4" font-size="22.5" text-anchor="end">2.63%</text>
<text x="657.3" y="1730.1" font-size="22.5">96.21%</text>
<text x="810.7" y="1730.1" font-size="22.5" text-anchor="end">1.08%</text>
<rect x="832.9" y="1574.9" width="159.8" height="157.7" fill="#fff" stroke="#999" stroke-width="1.3"/>
<g clip-path="url(#fc29)"><g filter="url(#spk)">
<ellipse cx="902" cy="1664" rx="41.4" ry="26.4" fill="url(#gh)" transform="rotate(-35 902 1664)"/>
<ellipse cx="902" cy="1664" rx="27" ry="16.5" fill="url(#g3)" transform="rotate(-35 902 1664)"/>
<ellipse cx="925" cy="1640" rx="24" ry="15" fill="url(#g1)" transform="rotate(-55 925 1640)"/>
<ellipse cx="915" cy="1660" rx="15" ry="18" fill="url(#g0)"/>
</g></g>
<line x1="911.4" y1="1574.9" x2="911.4" y2="1732.6" stroke="#666" stroke-width="1.3"/>
<line x1="832.9" y1="1651.7" x2="992.7" y2="1651.7" stroke="#666" stroke-width="1.3"/>
<line x1="832.9" y1="1574.9" x2="832.9" y2="1733.6" stroke="#555" stroke-width="1.4"/>
<line x1="831.9" y1="1732.6" x2="992.7" y2="1732.6" stroke="#666" stroke-width="1.4"/>
<path d="M832.9 1729.6h-3M832.9 1726.5h-3M832.9 1723.4h-3M832.9 1720.3h-3M832.9 1717.2h-3M832.9 1714.1h-3M832.9 1711h-3M832.9 1707.9h-3M832.9 1704.8h-3M832.9 1701.7h-3M832.9 1698.6h-3M832.9 1695.5h-3M832.9 1692.4h-3M832.9 1689.3h-3M832.9 1686.2h-3M832.9 1683.1h-3M832.9 1680h-3M832.9 1676.9h-3M832.9 1673.8h-3M832.9 1670.7h-3M832.9 1667.6h-3M832.9 1664.5h-3M832.9 1661.4h-3M832.9 1658.3h-3M832.9 1655.2h-3M832.9 1652.1h-3M832.9 1649h-3M832.9 1645.9h-3M832.9 1642.8h-3M832.9 1639.7h-3M832.9 1636.6h-3M832.9 1633.5h-3M832.9 1630.4h-3M832.9 1627.3h-3M832.9 1624.2h-3M832.9 1621.1h-3M832.9 1618h-3M832.9 1614.9h-3M832.9 1611.8h-3M832.9 1608.7h-3M832.9 1605.6h-3M832.9 1602.5h-3M832.9 1599.4h-3M832.9 1596.3h-3M832.9 1593.2h-3M832.9 1590.1h-3M832.9 1587h-3M832.9 1583.9h-3M832.9 1580.8h-3M832.9 1577.7h-3M835.9 1732.6v3M839 1732.6v3M842.1 1732.6v3M845.2 1732.6v3M848.3 1732.6v3M851.4 1732.6v3M854.5 1732.6v3M857.6 1732.6v3M860.7 1732.6v3M863.8 1732.6v3M866.9 1732.6v3M870 1732.6v3M873.1 1732.6v3M876.2 1732.6v3M879.3 1732.6v3M882.4 1732.6v3M885.5 1732.6v3M888.6 1732.6v3M891.7 1732.6v3M894.8 1732.6v3M897.9 1732.6v3M901 1732.6v3M904.1 1732.6v3M907.2 1732.6v3M910.3 1732.6v3M913.4 1732.6v3M916.5 1732.6v3M919.6 1732.6v3M922.7 1732.6v3M925.8 1732.6v3M928.9 1732.6v3M932 1732.6v3M935.1 1732.6v3M938.2 1732.6v3M941.3 1732.6v3M944.4 1732.6v3M947.5 1732.6v3M950.6 1732.6v3M953.7 1732.6v3M956.8 1732.6v3M959.9 1732.6v3M963 1732.6v3M966.1 1732.6v3M969.2 1732.6v3M972.3 1732.6v3M975.4 1732.6v3M978.5 1732.6v3M981.6 1732.6v3M984.7 1732.6v3M987.8 1732.6v3" stroke="#777" stroke-width="0.9"/>
<text x="843.9" y="1747.6" font-size="10.5" text-anchor="middle" fill="#383838">0</text>
<text x="863.9" y="1747.6" font-size="10.5" text-anchor="middle" fill="#383838">10<tspan font-size="6.5" dy="-4">1</tspan></text>
<text x="883.8" y="1747.6" font-size="10.5" text-anchor="middle" fill="#383838">10<tspan font-size="6.5" dy="-4">2</tspan></text>
<text x="903.8" y="1747.6" font-size="10.5" text-anchor="middle" fill="#383838">10<tspan font-size="6.5" dy="-4">3</tspan></text>
<text x="923.8" y="1747.6" font-size="10.5" text-anchor="middle" fill="#383838">10<tspan font-size="6.5" dy="-4">4</tspan></text>
<text x="943.8" y="1747.6" font-size="10.5" text-anchor="middle" fill="#383838">10<tspan font-size="6.5" dy="-4">5</tspan></text>
<text x="963.7" y="1747.6" font-size="10.5" text-anchor="middle" fill="#383838">10<tspan font-size="6.5" dy="-4">6</tspan></text>
<text x="983.7" y="1747.6" font-size="10.5" text-anchor="middle" fill="#383838">10<tspan font-size="6.5" dy="-4">7</tspan></text>
<text x="825.9" y="1722.6" font-size="10" text-anchor="middle" fill="#383838" transform="rotate(-90 825.9 1722.6)">0</text>
<text x="825.9" y="1699.6" font-size="10" text-anchor="middle" fill="#383838" transform="rotate(-90 825.9 1699.6)">10<tspan font-size="6.2" dy="-3.8">2</tspan></text>
<text x="825.9" y="1676.7" font-size="10" text-anchor="middle" fill="#383838" transform="rotate(-90 825.9 1676.7)">10<tspan font-size="6.2" dy="-3.8">3</tspan></text>
<text x="825.9" y="1653.8" font-size="10" text-anchor="middle" fill="#383838" transform="rotate(-90 825.9 1653.8)">10<tspan font-size="6.2" dy="-3.8">4</tspan></text>
<text x="825.9" y="1630.8" font-size="10" text-anchor="middle" fill="#383838" transform="rotate(-90 825.9 1630.8)">10<tspan font-size="6.2" dy="-3.8">5</tspan></text>
<text x="825.9" y="1607.9" font-size="10" text-anchor="middle" fill="#383838" transform="rotate(-90 825.9 1607.9)">10<tspan font-size="6.2" dy="-3.8">6</tspan></text>
<text x="825.9" y="1584.9" font-size="10" text-anchor="middle" fill="#383838" transform="rotate(-90 825.9 1584.9)">10<tspan font-size="6.2" dy="-3.8">7</tspan></text>
<text x="837.9" y="1594.9" font-size="22.5">0.09%</text>
<text x="988.7" y="1595.4" font-size="22.5" text-anchor="end">12.53%</text>
<text x="835.9" y="1730.1" font-size="22.5">74.10%</text>
<text x="990.2" y="1730.1" font-size="22.5" text-anchor="end">13.28%</text>
<rect x="1014.4" y="1574.9" width="159.8" height="157.7" fill="#fff" stroke="#999" stroke-width="1.3"/>
<g clip-path="url(#fc30)"><g filter="url(#spk)">
<ellipse cx="1092" cy="1661" rx="55.2" ry="28.8" fill="url(#gh)" transform="rotate(-40 1092 1661)"/>
<ellipse cx="1107" cy="1640" rx="32.2" ry="24" fill="url(#gh)" transform="rotate(-55 1107 1640)"/>
<ellipse cx="1092" cy="1661" rx="36" ry="18" fill="url(#g3)" transform="rotate(-40 1092 1661)"/>
<ellipse cx="1107" cy="1640" rx="21" ry="15" fill="url(#g2)" transform="rotate(-55 1107 1640)"/>
</g></g>
<line x1="1093.9" y1="1574.9" x2="1093.9" y2="1732.6" stroke="#666" stroke-width="1.3"/>
<line x1="1014.4" y1="1652.9" x2="1174.2" y2="1652.9" stroke="#666" stroke-width="1.3"/>
<line x1="1014.4" y1="1574.9" x2="1014.4" y2="1733.6" stroke="#555" stroke-width="1.4"/>
<line x1="1013.4" y1="1732.6" x2="1174.2" y2="1732.6" stroke="#666" stroke-width="1.4"/>
<path d="M1014.4 1729.6h-3M1014.4 1726.5h-3M1014.4 1723.4h-3M1014.4 1720.3h-3M1014.4 1717.2h-3M1014.4 1714.1h-3M1014.4 1711h-3M1014.4 1707.9h-3M1014.4 1704.8h-3M1014.4 1701.7h-3M1014.4 1698.6h-3M1014.4 1695.5h-3M1014.4 1692.4h-3M1014.4 1689.3h-3M1014.4 1686.2h-3M1014.4 1683.1h-3M1014.4 1680h-3M1014.4 1676.9h-3M1014.4 1673.8h-3M1014.4 1670.7h-3M1014.4 1667.6h-3M1014.4 1664.5h-3M1014.4 1661.4h-3M1014.4 1658.3h-3M1014.4 1655.2h-3M1014.4 1652.1h-3M1014.4 1649h-3M1014.4 1645.9h-3M1014.4 1642.8h-3M1014.4 1639.7h-3M1014.4 1636.6h-3M1014.4 1633.5h-3M1014.4 1630.4h-3M1014.4 1627.3h-3M1014.4 1624.2h-3M1014.4 1621.1h-3M1014.4 1618h-3M1014.4 1614.9h-3M1014.4 1611.8h-3M1014.4 1608.7h-3M1014.4 1605.6h-3M1014.4 1602.5h-3M1014.4 1599.4h-3M1014.4 1596.3h-3M1014.4 1593.2h-3M1014.4 1590.1h-3M1014.4 1587h-3M1014.4 1583.9h-3M1014.4 1580.8h-3M1014.4 1577.7h-3M1017.4 1732.6v3M1020.5 1732.6v3M1023.6 1732.6v3M1026.7 1732.6v3M1029.8 1732.6v3M1032.9 1732.6v3M1036 1732.6v3M1039.1 1732.6v3M1042.2 1732.6v3M1045.3 1732.6v3M1048.4 1732.6v3M1051.5 1732.6v3M1054.6 1732.6v3M1057.7 1732.6v3M1060.8 1732.6v3M1063.9 1732.6v3M1067 1732.6v3M1070.1 1732.6v3M1073.2 1732.6v3M1076.3 1732.6v3M1079.4 1732.6v3M1082.5 1732.6v3M1085.6 1732.6v3M1088.7 1732.6v3M1091.8 1732.6v3M1094.9 1732.6v3M1098 1732.6v3M1101.1 1732.6v3M1104.2 1732.6v3M1107.3 1732.6v3M1110.4 1732.6v3M1113.5 1732.6v3M1116.6 1732.6v3M1119.7 1732.6v3M1122.8 1732.6v3M1125.9 1732.6v3M1129 1732.6v3M1132.1 1732.6v3M1135.2 1732.6v3M1138.3 1732.6v3M1141.4 1732.6v3M1144.5 1732.6v3M1147.6 1732.6v3M1150.7 1732.6v3M1153.8 1732.6v3M1156.9 1732.6v3M1160 1732.6v3M1163.1 1732.6v3M1166.2 1732.6v3M1169.3 1732.6v3" stroke="#777" stroke-width="0.9"/>
<text x="1025.4" y="1747.6" font-size="10.5" text-anchor="middle" fill="#383838">0</text>
<text x="1045.4" y="1747.6" font-size="10.5" text-anchor="middle" fill="#383838">10<tspan font-size="6.5" dy="-4">1</tspan></text>
<text x="1065.3" y="1747.6" font-size="10.5" text-anchor="middle" fill="#383838">10<tspan font-size="6.5" dy="-4">2</tspan></text>
<text x="1085.3" y="1747.6" font-size="10.5" text-anchor="middle" fill="#383838">10<tspan font-size="6.5" dy="-4">3</tspan></text>
<text x="1105.3" y="1747.6" font-size="10.5" text-anchor="middle" fill="#383838">10<tspan font-size="6.5" dy="-4">4</tspan></text>
<text x="1125.3" y="1747.6" font-size="10.5" text-anchor="middle" fill="#383838">10<tspan font-size="6.5" dy="-4">5</tspan></text>
<text x="1145.2" y="1747.6" font-size="10.5" text-anchor="middle" fill="#383838">10<tspan font-size="6.5" dy="-4">6</tspan></text>
<text x="1165.2" y="1747.6" font-size="10.5" text-anchor="middle" fill="#383838">10<tspan font-size="6.5" dy="-4">7</tspan></text>
<text x="1007.4" y="1722.6" font-size="10" text-anchor="middle" fill="#383838" transform="rotate(-90 1007.4 1722.6)">0</text>
<text x="1007.4" y="1699.6" font-size="10" text-anchor="middle" fill="#383838" transform="rotate(-90 1007.4 1699.6)">10<tspan font-size="6.2" dy="-3.8">2</tspan></text>
<text x="1007.4" y="1676.7" font-size="10" text-anchor="middle" fill="#383838" transform="rotate(-90 1007.4 1676.7)">10<tspan font-size="6.2" dy="-3.8">3</tspan></text>
<text x="1007.4" y="1653.8" font-size="10" text-anchor="middle" fill="#383838" transform="rotate(-90 1007.4 1653.8)">10<tspan font-size="6.2" dy="-3.8">4</tspan></text>
<text x="1007.4" y="1630.8" font-size="10" text-anchor="middle" fill="#383838" transform="rotate(-90 1007.4 1630.8)">10<tspan font-size="6.2" dy="-3.8">5</tspan></text>
<text x="1007.4" y="1607.9" font-size="10" text-anchor="middle" fill="#383838" transform="rotate(-90 1007.4 1607.9)">10<tspan font-size="6.2" dy="-3.8">6</tspan></text>
<text x="1007.4" y="1584.9" font-size="10" text-anchor="middle" fill="#383838" transform="rotate(-90 1007.4 1584.9)">10<tspan font-size="6.2" dy="-3.8">7</tspan></text>
<text x="1019.4" y="1594.9" font-size="22.5">0.20%</text>
<text x="1170.2" y="1595.4" font-size="22.5" text-anchor="end">26.17%</text>
<text x="1017.4" y="1730.1" font-size="22.5">39.15%</text>
<text x="1171.7" y="1730.1" font-size="22.5" text-anchor="end">34.48%</text>
<rect x="654.3" y="1755.8" width="158.9" height="158.4" fill="#fff" stroke="#999" stroke-width="1.3"/>
<g clip-path="url(#fc31)"><g filter="url(#spk)">
<ellipse cx="716" cy="1849" rx="50.6" ry="31.2" fill="url(#gh)" transform="rotate(-40 716 1849)"/>
<ellipse cx="716" cy="1849" rx="33" ry="19.5" fill="url(#g4)" transform="rotate(-40 716 1849)"/>
<ellipse cx="705" cy="1860" rx="21" ry="21" fill="url(#g1)"/>
<ellipse cx="740" cy="1822" rx="33" ry="6" fill="url(#g0)" transform="rotate(-45 740 1822)"/>
<ellipse cx="752" cy="1812" rx="18" ry="6" fill="url(#g1)" transform="rotate(-45 752 1812)"/>
</g></g>
<line x1="733" y1="1755.8" x2="733" y2="1914.2" stroke="#666" stroke-width="1.3"/>
<line x1="654.3" y1="1832.3" x2="813.2" y2="1832.3" stroke="#666" stroke-width="1.3"/>
<line x1="654.3" y1="1755.8" x2="654.3" y2="1915.2" stroke="#555" stroke-width="1.4"/>
<line x1="653.3" y1="1914.2" x2="813.2" y2="1914.2" stroke="#666" stroke-width="1.4"/>
<path d="M654.3 1911.2h-3M654.3 1908.1h-3M654.3 1905h-3M654.3 1901.9h-3M654.3 1898.8h-3M654.3 1895.7h-3M654.3 1892.6h-3M654.3 1889.5h-3M654.3 1886.4h-3M654.3 1883.3h-3M654.3 1880.2h-3M654.3 1877.1h-3M654.3 1874h-3M654.3 1870.9h-3M654.3 1867.8h-3M654.3 1864.7h-3M654.3 1861.6h-3M654.3 1858.5h-3M654.3 1855.4h-3M654.3 1852.3h-3M654.3 1849.2h-3M654.3 1846.1h-3M654.3 1843h-3M654.3 1839.9h-3M654.3 1836.8h-3M654.3 1833.7h-3M654.3 1830.6h-3M654.3 1827.5h-3M654.3 1824.4h-3M654.3 1821.3h-3M654.3 1818.2h-3M654.3 1815.1h-3M654.3 1812h-3M654.3 1808.9h-3M654.3 1805.8h-3M654.3 1802.7h-3M654.3 1799.6h-3M654.3 1796.5h-3M654.3 1793.4h-3M654.3 1790.3h-3M654.3 1787.2h-3M654.3 1784.1h-3M654.3 1781h-3M654.3 1777.9h-3M654.3 1774.8h-3M654.3 1771.7h-3M654.3 1768.6h-3M654.3 1765.5h-3M654.3 1762.4h-3M654.3 1759.3h-3M657.3 1914.2v3M660.4 1914.2v3M663.5 1914.2v3M666.6 1914.2v3M669.7 1914.2v3M672.8 1914.2v3M675.9 1914.2v3M679 1914.2v3M682.1 1914.2v3M685.2 1914.2v3M688.3 1914.2v3M691.4 1914.2v3M694.5 1914.2v3M697.6 1914.2v3M700.7 1914.2v3M703.8 1914.2v3M706.9 1914.2v3M710 1914.2v3M713.1 1914.2v3M716.2 1914.2v3M719.3 1914.2v3M722.4 1914.2v3M725.5 1914.2v3M728.6 1914.2v3M731.7 1914.2v3M734.8 1914.2v3M737.9 1914.2v3M741 1914.2v3M744.1 1914.2v3M747.2 1914.2v3M750.3 1914.2v3M753.4 1914.2v3M756.5 1914.2v3M759.6 1914.2v3M762.7 1914.2v3M765.8 1914.2v3M768.9 1914.2v3M772 1914.2v3M775.1 1914.2v3M778.2 1914.2v3M781.3 1914.2v3M784.4 1914.2v3M787.5 1914.2v3M790.6 1914.2v3M793.7 1914.2v3M796.8 1914.2v3M799.9 1914.2v3M803 1914.2v3M806.1 1914.2v3M809.2 1914.2v3" stroke="#777" stroke-width="0.9"/>
<text x="665.3" y="1929.2" font-size="10.5" text-anchor="middle" fill="#383838">0</text>
<text x="685.1" y="1929.2" font-size="10.5" text-anchor="middle" fill="#383838">10<tspan font-size="6.5" dy="-4">1</tspan></text>
<text x="705" y="1929.2" font-size="10.5" text-anchor="middle" fill="#383838">10<tspan font-size="6.5" dy="-4">2</tspan></text>
<text x="724.8" y="1929.2" font-size="10.5" text-anchor="middle" fill="#383838">10<tspan font-size="6.5" dy="-4">3</tspan></text>
<text x="744.7" y="1929.2" font-size="10.5" text-anchor="middle" fill="#383838">10<tspan font-size="6.5" dy="-4">4</tspan></text>
<text x="764.5" y="1929.2" font-size="10.5" text-anchor="middle" fill="#383838">10<tspan font-size="6.5" dy="-4">5</tspan></text>
<text x="784.4" y="1929.2" font-size="10.5" text-anchor="middle" fill="#383838">10<tspan font-size="6.5" dy="-4">6</tspan></text>
<text x="804.2" y="1929.2" font-size="10.5" text-anchor="middle" fill="#383838">10<tspan font-size="6.5" dy="-4">7</tspan></text>
<text x="647.3" y="1904.2" font-size="10" text-anchor="middle" fill="#383838" transform="rotate(-90 647.3 1904.2)">0</text>
<text x="647.3" y="1881.1" font-size="10" text-anchor="middle" fill="#383838" transform="rotate(-90 647.3 1881.1)">10<tspan font-size="6.2" dy="-3.8">2</tspan></text>
<text x="647.3" y="1858.1" font-size="10" text-anchor="middle" fill="#383838" transform="rotate(-90 647.3 1858.1)">10<tspan font-size="6.2" dy="-3.8">3</tspan></text>
<text x="647.3" y="1835" font-size="10" text-anchor="middle" fill="#383838" transform="rotate(-90 647.3 1835)">10<tspan font-size="6.2" dy="-3.8">4</tspan></text>
<text x="647.3" y="1811.9" font-size="10" text-anchor="middle" fill="#383838" transform="rotate(-90 647.3 1811.9)">10<tspan font-size="6.2" dy="-3.8">5</tspan></text>
<text x="647.3" y="1788.9" font-size="10" text-anchor="middle" fill="#383838" transform="rotate(-90 647.3 1788.9)">10<tspan font-size="6.2" dy="-3.8">6</tspan></text>
<text x="647.3" y="1765.8" font-size="10" text-anchor="middle" fill="#383838" transform="rotate(-90 647.3 1765.8)">10<tspan font-size="6.2" dy="-3.8">7</tspan></text>
<text x="659.3" y="1775.8" font-size="22.5">0.24%</text>
<text x="809.2" y="1776.3" font-size="22.5" text-anchor="end">2.23%</text>
<text x="657.3" y="1911.7" font-size="22.5">96.71%</text>
<text x="810.7" y="1911.7" font-size="22.5" text-anchor="end">0.82%</text>
<rect x="832.9" y="1755.8" width="159.8" height="158.4" fill="#fff" stroke="#999" stroke-width="1.3"/>
<g clip-path="url(#fc32)"><g filter="url(#spk)">
<ellipse cx="899" cy="1847" rx="41.4" ry="26.4" fill="url(#gh)" transform="rotate(-35 899 1847)"/>
<ellipse cx="899" cy="1847" rx="27" ry="16.5" fill="url(#g4)" transform="rotate(-35 899 1847)"/>
<ellipse cx="926" cy="1822" rx="21" ry="12" fill="url(#g1)" transform="rotate(-55 926 1822)"/>
</g></g>
<line x1="911" y1="1755.8" x2="911" y2="1914.2" stroke="#666" stroke-width="1.3"/>
<line x1="832.9" y1="1833.4" x2="992.7" y2="1833.4" stroke="#666" stroke-width="1.3"/>
<line x1="832.9" y1="1755.8" x2="832.9" y2="1915.2" stroke="#555" stroke-width="1.4"/>
<line x1="831.9" y1="1914.2" x2="992.7" y2="1914.2" stroke="#666" stroke-width="1.4"/>
<path d="M832.9 1911.2h-3M832.9 1908.1h-3M832.9 1905h-3M832.9 1901.9h-3M832.9 1898.8h-3M832.9 1895.7h-3M832.9 1892.6h-3M832.9 1889.5h-3M832.9 1886.4h-3M832.9 1883.3h-3M832.9 1880.2h-3M832.9 1877.1h-3M832.9 1874h-3M832.9 1870.9h-3M832.9 1867.8h-3M832.9 1864.7h-3M832.9 1861.6h-3M832.9 1858.5h-3M832.9 1855.4h-3M832.9 1852.3h-3M832.9 1849.2h-3M832.9 1846.1h-3M832.9 1843h-3M832.9 1839.9h-3M832.9 1836.8h-3M832.9 1833.7h-3M832.9 1830.6h-3M832.9 1827.5h-3M832.9 1824.4h-3M832.9 1821.3h-3M832.9 1818.2h-3M832.9 1815.1h-3M832.9 1812h-3M832.9 1808.9h-3M832.9 1805.8h-3M832.9 1802.7h-3M832.9 1799.6h-3M832.9 1796.5h-3M832.9 1793.4h-3M832.9 1790.3h-3M832.9 1787.2h-3M832.9 1784.1h-3M832.9 1781h-3M832.9 1777.9h-3M832.9 1774.8h-3M832.9 1771.7h-3M832.9 1768.6h-3M832.9 1765.5h-3M832.9 1762.4h-3M832.9 1759.3h-3M835.9 1914.2v3M839 1914.2v3M842.1 1914.2v3M845.2 1914.2v3M848.3 1914.2v3M851.4 1914.2v3M854.5 1914.2v3M857.6 1914.2v3M860.7 1914.2v3M863.8 1914.2v3M866.9 1914.2v3M870 1914.2v3M873.1 1914.2v3M876.2 1914.2v3M879.3 1914.2v3M882.4 1914.2v3M885.5 1914.2v3M888.6 1914.2v3M891.7 1914.2v3M894.8 1914.2v3M897.9 1914.2v3M901 1914.2v3M904.1 1914.2v3M907.2 1914.2v3M910.3 1914.2v3M913.4 1914.2v3M916.5 1914.2v3M919.6 1914.2v3M922.7 1914.2v3M925.8 1914.2v3M928.9 1914.2v3M932 1914.2v3M935.1 1914.2v3M938.2 1914.2v3M941.3 1914.2v3M944.4 1914.2v3M947.5 1914.2v3M950.6 1914.2v3M953.7 1914.2v3M956.8 1914.2v3M959.9 1914.2v3M963 1914.2v3M966.1 1914.2v3M969.2 1914.2v3M972.3 1914.2v3M975.4 1914.2v3M978.5 1914.2v3M981.6 1914.2v3M984.7 1914.2v3M987.8 1914.2v3" stroke="#777" stroke-width="0.9"/>
<text x="843.9" y="1929.2" font-size="10.5" text-anchor="middle" fill="#383838">0</text>
<text x="863.9" y="1929.2" font-size="10.5" text-anchor="middle" fill="#383838">10<tspan font-size="6.5" dy="-4">1</tspan></text>
<text x="883.8" y="1929.2" font-size="10.5" text-anchor="middle" fill="#383838">10<tspan font-size="6.5" dy="-4">2</tspan></text>
<text x="903.8" y="1929.2" font-size="10.5" text-anchor="middle" fill="#383838">10<tspan font-size="6.5" dy="-4">3</tspan></text>
<text x="923.8" y="1929.2" font-size="10.5" text-anchor="middle" fill="#383838">10<tspan font-size="6.5" dy="-4">4</tspan></text>
<text x="943.8" y="1929.2" font-size="10.5" text-anchor="middle" fill="#383838">10<tspan font-size="6.5" dy="-4">5</tspan></text>
<text x="963.7" y="1929.2" font-size="10.5" text-anchor="middle" fill="#383838">10<tspan font-size="6.5" dy="-4">6</tspan></text>
<text x="983.7" y="1929.2" font-size="10.5" text-anchor="middle" fill="#383838">10<tspan font-size="6.5" dy="-4">7</tspan></text>
<text x="825.9" y="1904.2" font-size="10" text-anchor="middle" fill="#383838" transform="rotate(-90 825.9 1904.2)">0</text>
<text x="825.9" y="1881.1" font-size="10" text-anchor="middle" fill="#383838" transform="rotate(-90 825.9 1881.1)">10<tspan font-size="6.2" dy="-3.8">2</tspan></text>
<text x="825.9" y="1858.1" font-size="10" text-anchor="middle" fill="#383838" transform="rotate(-90 825.9 1858.1)">10<tspan font-size="6.2" dy="-3.8">3</tspan></text>
<text x="825.9" y="1835" font-size="10" text-anchor="middle" fill="#383838" transform="rotate(-90 825.9 1835)">10<tspan font-size="6.2" dy="-3.8">4</tspan></text>
<text x="825.9" y="1811.9" font-size="10" text-anchor="middle" fill="#383838" transform="rotate(-90 825.9 1811.9)">10<tspan font-size="6.2" dy="-3.8">5</tspan></text>
<text x="825.9" y="1788.9" font-size="10" text-anchor="middle" fill="#383838" transform="rotate(-90 825.9 1788.9)">10<tspan font-size="6.2" dy="-3.8">6</tspan></text>
<text x="825.9" y="1765.8" font-size="10" text-anchor="middle" fill="#383838" transform="rotate(-90 825.9 1765.8)">10<tspan font-size="6.2" dy="-3.8">7</tspan></text>
<text x="837.9" y="1775.8" font-size="22.5">0.04%</text>
<text x="988.7" y="1776.3" font-size="22.5" text-anchor="end">7.07%</text>
<text x="835.9" y="1911.7" font-size="22.5">86.72%</text>
<text x="990.2" y="1911.7" font-size="22.5" text-anchor="end">6. 17%</text>
<rect x="1014.4" y="1755.8" width="159.8" height="158.4" fill="#fff" stroke="#999" stroke-width="1.3"/>
<g clip-path="url(#fc33)"><g filter="url(#spk)">
<ellipse cx="1089" cy="1843" rx="50.6" ry="26.4" fill="url(#gh)" transform="rotate(-40 1089 1843)"/>
<ellipse cx="1104" cy="1819" rx="32.2" ry="21.6" fill="url(#gh)" transform="rotate(-55 1104 1819)"/>
<ellipse cx="1089" cy="1843" rx="33" ry="16.5" fill="url(#g3)" transform="rotate(-40 1089 1843)"/>
<ellipse cx="1104" cy="1819" rx="21" ry="13.5" fill="url(#g2)" transform="rotate(-55 1104 1819)"/>
</g></g>
<line x1="1094" y1="1755.8" x2="1094" y2="1914.2" stroke="#666" stroke-width="1.3"/>
<line x1="1014.4" y1="1830.8" x2="1174.2" y2="1830.8" stroke="#666" stroke-width="1.3"/>
<line x1="1014.4" y1="1755.8" x2="1014.4" y2="1915.2" stroke="#555" stroke-width="1.4"/>
<line x1="1013.4" y1="1914.2" x2="1174.2" y2="1914.2" stroke="#666" stroke-width="1.4"/>
<path d="M1014.4 1911.2h-3M1014.4 1908.1h-3M1014.4 1905h-3M1014.4 1901.9h-3M1014.4 1898.8h-3M1014.4 1895.7h-3M1014.4 1892.6h-3M1014.4 1889.5h-3M1014.4 1886.4h-3M1014.4 1883.3h-3M1014.4 1880.2h-3M1014.4 1877.1h-3M1014.4 1874h-3M1014.4 1870.9h-3M1014.4 1867.8h-3M1014.4 1864.7h-3M1014.4 1861.6h-3M1014.4 1858.5h-3M1014.4 1855.4h-3M1014.4 1852.3h-3M1014.4 1849.2h-3M1014.4 1846.1h-3M1014.4 1843h-3M1014.4 1839.9h-3M1014.4 1836.8h-3M1014.4 1833.7h-3M1014.4 1830.6h-3M1014.4 1827.5h-3M1014.4 1824.4h-3M1014.4 1821.3h-3M1014.4 1818.2h-3M1014.4 1815.1h-3M1014.4 1812h-3M1014.4 1808.9h-3M1014.4 1805.8h-3M1014.4 1802.7h-3M1014.4 1799.6h-3M1014.4 1796.5h-3M1014.4 1793.4h-3M1014.4 1790.3h-3M1014.4 1787.2h-3M1014.4 1784.1h-3M1014.4 1781h-3M1014.4 1777.9h-3M1014.4 1774.8h-3M1014.4 1771.7h-3M1014.4 1768.6h-3M1014.4 1765.5h-3M1014.4 1762.4h-3M1014.4 1759.3h-3M1017.4 1914.2v3M1020.5 1914.2v3M1023.6 1914.2v3M1026.7 1914.2v3M1029.8 1914.2v3M1032.9 1914.2v3M1036 1914.2v3M1039.1 1914.2v3M1042.2 1914.2v3M1045.3 1914.2v3M1048.4 1914.2v3M1051.5 1914.2v3M1054.6 1914.2v3M1057.7 1914.2v3M1060.8 1914.2v3M1063.9 1914.2v3M1067 1914.2v3M1070.1 1914.2v3M1073.2 1914.2v3M1076.3 1914.2v3M1079.4 1914.2v3M1082.5 1914.2v3M1085.6 1914.2v3M1088.7 1914.2v3M1091.8 1914.2v3M1094.9 1914.2v3M1098 1914.2v3M1101.1 1914.2v3M1104.2 1914.2v3M1107.3 1914.2v3M1110.4 1914.2v3M1113.5 1914.2v3M1116.6 1914.2v3M1119.7 1914.2v3M1122.8 1914.2v3M1125.9 1914.2v3M1129 1914.2v3M1132.1 1914.2v3M1135.2 1914.2v3M1138.3 1914.2v3M1141.4 1914.2v3M1144.5 1914.2v3M1147.6 1914.2v3M1150.7 1914.2v3M1153.8 1914.2v3M1156.9 1914.2v3M1160 1914.2v3M1163.1 1914.2v3M1166.2 1914.2v3M1169.3 1914.2v3" stroke="#777" stroke-width="0.9"/>
<text x="1025.4" y="1929.2" font-size="10.5" text-anchor="middle" fill="#383838">0</text>
<text x="1045.4" y="1929.2" font-size="10.5" text-anchor="middle" fill="#383838">10<tspan font-size="6.5" dy="-4">1</tspan></text>
<text x="1065.3" y="1929.2" font-size="10.5" text-anchor="middle" fill="#383838">10<tspan font-size="6.5" dy="-4">2</tspan></text>
<text x="1085.3" y="1929.2" font-size="10.5" text-anchor="middle" fill="#383838">10<tspan font-size="6.5" dy="-4">3</tspan></text>
<text x="1105.3" y="1929.2" font-size="10.5" text-anchor="middle" fill="#383838">10<tspan font-size="6.5" dy="-4">4</tspan></text>
<text x="1125.3" y="1929.2" font-size="10.5" text-anchor="middle" fill="#383838">10<tspan font-size="6.5" dy="-4">5</tspan></text>
<text x="1145.2" y="1929.2" font-size="10.5" text-anchor="middle" fill="#383838">10<tspan font-size="6.5" dy="-4">6</tspan></text>
<text x="1165.2" y="1929.2" font-size="10.5" text-anchor="middle" fill="#383838">10<tspan font-size="6.5" dy="-4">7</tspan></text>
<text x="1007.4" y="1904.2" font-size="10" text-anchor="middle" fill="#383838" transform="rotate(-90 1007.4 1904.2)">0</text>
<text x="1007.4" y="1881.1" font-size="10" text-anchor="middle" fill="#383838" transform="rotate(-90 1007.4 1881.1)">10<tspan font-size="6.2" dy="-3.8">2</tspan></text>
<text x="1007.4" y="1858.1" font-size="10" text-anchor="middle" fill="#383838" transform="rotate(-90 1007.4 1858.1)">10<tspan font-size="6.2" dy="-3.8">3</tspan></text>
<text x="1007.4" y="1835" font-size="10" text-anchor="middle" fill="#383838" transform="rotate(-90 1007.4 1835)">10<tspan font-size="6.2" dy="-3.8">4</tspan></text>
<text x="1007.4" y="1811.9" font-size="10" text-anchor="middle" fill="#383838" transform="rotate(-90 1007.4 1811.9)">10<tspan font-size="6.2" dy="-3.8">5</tspan></text>
<text x="1007.4" y="1788.9" font-size="10" text-anchor="middle" fill="#383838" transform="rotate(-90 1007.4 1788.9)">10<tspan font-size="6.2" dy="-3.8">6</tspan></text>
<text x="1007.4" y="1765.8" font-size="10" text-anchor="middle" fill="#383838" transform="rotate(-90 1007.4 1765.8)">10<tspan font-size="6.2" dy="-3.8">7</tspan></text>
<text x="1019.4" y="1775.8" font-size="22.5">0.07%</text>
<text x="1170.2" y="1776.3" font-size="22.5" text-anchor="end">19.12%</text>
<text x="1017.4" y="1911.7" font-size="22.5">58.74%</text>
<text x="1171.7" y="1911.7" font-size="22.5" text-anchor="end">22. 07%</text>
<rect x="654.3" y="1937.4" width="158.9" height="159.8" fill="#fff" stroke="#999" stroke-width="1.3"/>
<g clip-path="url(#fc34)"><g filter="url(#spk)">
<ellipse cx="714" cy="2033" rx="50.6" ry="31.2" fill="url(#gh)" transform="rotate(-35 714 2033)"/>
<ellipse cx="714" cy="2033" rx="33" ry="19.5" fill="url(#g3)" transform="rotate(-35 714 2033)"/>
<ellipse cx="705" cy="2042" rx="21" ry="21" fill="url(#g1)"/>
<ellipse cx="740" cy="2003" rx="33" ry="6" fill="url(#g0)" transform="rotate(-45 740 2003)"/>
<ellipse cx="752" cy="1993" rx="18" ry="6" fill="url(#g1)" transform="rotate(-45 752 1993)"/>
</g></g>
<line x1="733" y1="1937.4" x2="733" y2="2097.2" stroke="#666" stroke-width="1.3"/>
<line x1="654.3" y1="2013.9" x2="813.2" y2="2013.9" stroke="#666" stroke-width="1.3"/>
<line x1="654.3" y1="1937.4" x2="654.3" y2="2098.2" stroke="#555" stroke-width="1.4"/>
<line x1="653.3" y1="2097.2" x2="813.2" y2="2097.2" stroke="#666" stroke-width="1.4"/>
<path d="M654.3 2094.2h-3M654.3 2091.1h-3M654.3 2088h-3M654.3 2084.9h-3M654.3 2081.8h-3M654.3 2078.7h-3M654.3 2075.6h-3M654.3 2072.5h-3M654.3 2069.4h-3M654.3 2066.3h-3M654.3 2063.2h-3M654.3 2060.1h-3M654.3 2057h-3M654.3 2053.9h-3M654.3 2050.8h-3M654.3 2047.7h-3M654.3 2044.6h-3M654.3 2041.5h-3M654.3 2038.4h-3M654.3 2035.3h-3M654.3 2032.2h-3M654.3 2029.1h-3M654.3 2026h-3M654.3 2022.9h-3M654.3 2019.8h-3M654.3 2016.7h-3M654.3 2013.6h-3M654.3 2010.5h-3M654.3 2007.4h-3M654.3 2004.3h-3M654.3 2001.2h-3M654.3 1998.1h-3M654.3 1995h-3M654.3 1991.9h-3M654.3 1988.8h-3M654.3 1985.7h-3M654.3 1982.6h-3M654.3 1979.5h-3M654.3 1976.4h-3M654.3 1973.3h-3M654.3 1970.2h-3M654.3 1967.1h-3M654.3 1964h-3M654.3 1960.9h-3M654.3 1957.8h-3M654.3 1954.7h-3M654.3 1951.6h-3M654.3 1948.5h-3M654.3 1945.4h-3M654.3 1942.3h-3M657.3 2097.2v3M660.4 2097.2v3M663.5 2097.2v3M666.6 2097.2v3M669.7 2097.2v3M672.8 2097.2v3M675.9 2097.2v3M679 2097.2v3M682.1 2097.2v3M685.2 2097.2v3M688.3 2097.2v3M691.4 2097.2v3M694.5 2097.2v3M697.6 2097.2v3M700.7 2097.2v3M703.8 2097.2v3M706.9 2097.2v3M710 2097.2v3M713.1 2097.2v3M716.2 2097.2v3M719.3 2097.2v3M722.4 2097.2v3M725.5 2097.2v3M728.6 2097.2v3M731.7 2097.2v3M734.8 2097.2v3M737.9 2097.2v3M741 2097.2v3M744.1 2097.2v3M747.2 2097.2v3M750.3 2097.2v3M753.4 2097.2v3M756.5 2097.2v3M759.6 2097.2v3M762.7 2097.2v3M765.8 2097.2v3M768.9 2097.2v3M772 2097.2v3M775.1 2097.2v3M778.2 2097.2v3M781.3 2097.2v3M784.4 2097.2v3M787.5 2097.2v3M790.6 2097.2v3M793.7 2097.2v3M796.8 2097.2v3M799.9 2097.2v3M803 2097.2v3M806.1 2097.2v3M809.2 2097.2v3" stroke="#777" stroke-width="0.9"/>
<text x="665.3" y="2112.2" font-size="10.5" text-anchor="middle" fill="#383838">0</text>
<text x="685.1" y="2112.2" font-size="10.5" text-anchor="middle" fill="#383838">10<tspan font-size="6.5" dy="-4">1</tspan></text>
<text x="705" y="2112.2" font-size="10.5" text-anchor="middle" fill="#383838">10<tspan font-size="6.5" dy="-4">2</tspan></text>
<text x="724.8" y="2112.2" font-size="10.5" text-anchor="middle" fill="#383838">10<tspan font-size="6.5" dy="-4">3</tspan></text>
<text x="744.7" y="2112.2" font-size="10.5" text-anchor="middle" fill="#383838">10<tspan font-size="6.5" dy="-4">4</tspan></text>
<text x="764.5" y="2112.2" font-size="10.5" text-anchor="middle" fill="#383838">10<tspan font-size="6.5" dy="-4">5</tspan></text>
<text x="784.4" y="2112.2" font-size="10.5" text-anchor="middle" fill="#383838">10<tspan font-size="6.5" dy="-4">6</tspan></text>
<text x="804.2" y="2112.2" font-size="10.5" text-anchor="middle" fill="#383838">10<tspan font-size="6.5" dy="-4">7</tspan></text>
<text x="647.3" y="2087.2" font-size="10" text-anchor="middle" fill="#383838" transform="rotate(-90 647.3 2087.2)">0</text>
<text x="647.3" y="2063.9" font-size="10" text-anchor="middle" fill="#383838" transform="rotate(-90 647.3 2063.9)">10<tspan font-size="6.2" dy="-3.8">2</tspan></text>
<text x="647.3" y="2040.6" font-size="10" text-anchor="middle" fill="#383838" transform="rotate(-90 647.3 2040.6)">10<tspan font-size="6.2" dy="-3.8">3</tspan></text>
<text x="647.3" y="2017.3" font-size="10" text-anchor="middle" fill="#383838" transform="rotate(-90 647.3 2017.3)">10<tspan font-size="6.2" dy="-3.8">4</tspan></text>
<text x="647.3" y="1994" font-size="10" text-anchor="middle" fill="#383838" transform="rotate(-90 647.3 1994)">10<tspan font-size="6.2" dy="-3.8">5</tspan></text>
<text x="647.3" y="1970.7" font-size="10" text-anchor="middle" fill="#383838" transform="rotate(-90 647.3 1970.7)">10<tspan font-size="6.2" dy="-3.8">6</tspan></text>
<text x="647.3" y="1947.4" font-size="10" text-anchor="middle" fill="#383838" transform="rotate(-90 647.3 1947.4)">10<tspan font-size="6.2" dy="-3.8">7</tspan></text>
<text x="659.3" y="1957.4" font-size="22.5">0.05%</text>
<text x="809.2" y="1957.9" font-size="22.5" text-anchor="end">1.88%</text>
<text x="657.3" y="2094.7" font-size="22.5">97.14%</text>
<text x="810.7" y="2094.7" font-size="22.5" text-anchor="end">0.93%</text>
<rect x="832.9" y="1937.4" width="159.8" height="159.8" fill="#fff" stroke="#999" stroke-width="1.3"/>
<g clip-path="url(#fc35)"><g filter="url(#spk)">
<ellipse cx="902" cy="2030" rx="41.4" ry="26.4" fill="url(#gh)" transform="rotate(-35 902 2030)"/>
<ellipse cx="902" cy="2030" rx="27" ry="16.5" fill="url(#g4)" transform="rotate(-35 902 2030)"/>
<ellipse cx="929" cy="2000" rx="21" ry="12" fill="url(#g1)" transform="rotate(-55 929 2000)"/>
</g></g>
<line x1="913" y1="1937.4" x2="913" y2="2097.2" stroke="#666" stroke-width="1.3"/>
<line x1="832.9" y1="2013.9" x2="992.7" y2="2013.9" stroke="#666" stroke-width="1.3"/>
<line x1="832.9" y1="1937.4" x2="832.9" y2="2098.2" stroke="#555" stroke-width="1.4"/>
<line x1="831.9" y1="2097.2" x2="992.7" y2="2097.2" stroke="#666" stroke-width="1.4"/>
<path d="M832.9 2094.2h-3M832.9 2091.1h-3M832.9 2088h-3M832.9 2084.9h-3M832.9 2081.8h-3M832.9 2078.7h-3M832.9 2075.6h-3M832.9 2072.5h-3M832.9 2069.4h-3M832.9 2066.3h-3M832.9 2063.2h-3M832.9 2060.1h-3M832.9 2057h-3M832.9 2053.9h-3M832.9 2050.8h-3M832.9 2047.7h-3M832.9 2044.6h-3M832.9 2041.5h-3M832.9 2038.4h-3M832.9 2035.3h-3M832.9 2032.2h-3M832.9 2029.1h-3M832.9 2026h-3M832.9 2022.9h-3M832.9 2019.8h-3M832.9 2016.7h-3M832.9 2013.6h-3M832.9 2010.5h-3M832.9 2007.4h-3M832.9 2004.3h-3M832.9 2001.2h-3M832.9 1998.1h-3M832.9 1995h-3M832.9 1991.9h-3M832.9 1988.8h-3M832.9 1985.7h-3M832.9 1982.6h-3M832.9 1979.5h-3M832.9 1976.4h-3M832.9 1973.3h-3M832.9 1970.2h-3M832.9 1967.1h-3M832.9 1964h-3M832.9 1960.9h-3M832.9 1957.8h-3M832.9 1954.7h-3M832.9 1951.6h-3M832.9 1948.5h-3M832.9 1945.4h-3M832.9 1942.3h-3M835.9 2097.2v3M839 2097.2v3M842.1 2097.2v3M845.2 2097.2v3M848.3 2097.2v3M851.4 2097.2v3M854.5 2097.2v3M857.6 2097.2v3M860.7 2097.2v3M863.8 2097.2v3M866.9 2097.2v3M870 2097.2v3M873.1 2097.2v3M876.2 2097.2v3M879.3 2097.2v3M882.4 2097.2v3M885.5 2097.2v3M888.6 2097.2v3M891.7 2097.2v3M894.8 2097.2v3M897.9 2097.2v3M901 2097.2v3M904.1 2097.2v3M907.2 2097.2v3M910.3 2097.2v3M913.4 2097.2v3M916.5 2097.2v3M919.6 2097.2v3M922.7 2097.2v3M925.8 2097.2v3M928.9 2097.2v3M932 2097.2v3M935.1 2097.2v3M938.2 2097.2v3M941.3 2097.2v3M944.4 2097.2v3M947.5 2097.2v3M950.6 2097.2v3M953.7 2097.2v3M956.8 2097.2v3M959.9 2097.2v3M963 2097.2v3M966.1 2097.2v3M969.2 2097.2v3M972.3 2097.2v3M975.4 2097.2v3M978.5 2097.2v3M981.6 2097.2v3M984.7 2097.2v3M987.8 2097.2v3" stroke="#777" stroke-width="0.9"/>
<text x="843.9" y="2112.2" font-size="10.5" text-anchor="middle" fill="#383838">0</text>
<text x="863.9" y="2112.2" font-size="10.5" text-anchor="middle" fill="#383838">10<tspan font-size="6.5" dy="-4">1</tspan></text>
<text x="883.8" y="2112.2" font-size="10.5" text-anchor="middle" fill="#383838">10<tspan font-size="6.5" dy="-4">2</tspan></text>
<text x="903.8" y="2112.2" font-size="10.5" text-anchor="middle" fill="#383838">10<tspan font-size="6.5" dy="-4">3</tspan></text>
<text x="923.8" y="2112.2" font-size="10.5" text-anchor="middle" fill="#383838">10<tspan font-size="6.5" dy="-4">4</tspan></text>
<text x="943.8" y="2112.2" font-size="10.5" text-anchor="middle" fill="#383838">10<tspan font-size="6.5" dy="-4">5</tspan></text>
<text x="963.7" y="2112.2" font-size="10.5" text-anchor="middle" fill="#383838">10<tspan font-size="6.5" dy="-4">6</tspan></text>
<text x="983.7" y="2112.2" font-size="10.5" text-anchor="middle" fill="#383838">10<tspan font-size="6.5" dy="-4">7</tspan></text>
<text x="825.9" y="2087.2" font-size="10" text-anchor="middle" fill="#383838" transform="rotate(-90 825.9 2087.2)">0</text>
<text x="825.9" y="2063.9" font-size="10" text-anchor="middle" fill="#383838" transform="rotate(-90 825.9 2063.9)">10<tspan font-size="6.2" dy="-3.8">2</tspan></text>
<text x="825.9" y="2040.6" font-size="10" text-anchor="middle" fill="#383838" transform="rotate(-90 825.9 2040.6)">10<tspan font-size="6.2" dy="-3.8">3</tspan></text>
<text x="825.9" y="2017.3" font-size="10" text-anchor="middle" fill="#383838" transform="rotate(-90 825.9 2017.3)">10<tspan font-size="6.2" dy="-3.8">4</tspan></text>
<text x="825.9" y="1994" font-size="10" text-anchor="middle" fill="#383838" transform="rotate(-90 825.9 1994)">10<tspan font-size="6.2" dy="-3.8">5</tspan></text>
<text x="825.9" y="1970.7" font-size="10" text-anchor="middle" fill="#383838" transform="rotate(-90 825.9 1970.7)">10<tspan font-size="6.2" dy="-3.8">6</tspan></text>
<text x="825.9" y="1947.4" font-size="10" text-anchor="middle" fill="#383838" transform="rotate(-90 825.9 1947.4)">10<tspan font-size="6.2" dy="-3.8">7</tspan></text>
<text x="837.9" y="1957.4" font-size="22.5">0.05%</text>
<text x="988.7" y="1957.9" font-size="22.5" text-anchor="end">8.22%</text>
<text x="835.9" y="2094.7" font-size="22.5">86.25%</text>
<text x="990.2" y="2094.7" font-size="22.5" text-anchor="end">5.48%</text>
<rect x="1014.4" y="1937.4" width="159.8" height="159.8" fill="#fff" stroke="#999" stroke-width="1.3"/>
<g clip-path="url(#fc36)"><g filter="url(#spk)">
<ellipse cx="1086" cy="2027" rx="50.6" ry="26.4" fill="url(#gh)" transform="rotate(-35 1086 2027)"/>
<ellipse cx="1107" cy="2000" rx="36.8" ry="24" fill="url(#gh)" transform="rotate(-50 1107 2000)"/>
<ellipse cx="1086" cy="2027" rx="33" ry="16.5" fill="url(#g3)" transform="rotate(-35 1086 2027)"/>
<ellipse cx="1107" cy="2000" rx="24" ry="15" fill="url(#g2)" transform="rotate(-50 1107 2000)"/>
</g></g>
<line x1="1094" y1="1937.4" x2="1094" y2="2097.2" stroke="#666" stroke-width="1.3"/>
<line x1="1014.4" y1="2013.9" x2="1174.2" y2="2013.9" stroke="#666" stroke-width="1.3"/>
<line x1="1014.4" y1="1937.4" x2="1014.4" y2="2098.2" stroke="#555" stroke-width="1.4"/>
<line x1="1013.4" y1="2097.2" x2="1174.2" y2="2097.2" stroke="#666" stroke-width="1.4"/>
<path d="M1014.4 2094.2h-3M1014.4 2091.1h-3M1014.4 2088h-3M1014.4 2084.9h-3M1014.4 2081.8h-3M1014.4 2078.7h-3M1014.4 2075.6h-3M1014.4 2072.5h-3M1014.4 2069.4h-3M1014.4 2066.3h-3M1014.4 2063.2h-3M1014.4 2060.1h-3M1014.4 2057h-3M1014.4 2053.9h-3M1014.4 2050.8h-3M1014.4 2047.7h-3M1014.4 2044.6h-3M1014.4 2041.5h-3M1014.4 2038.4h-3M1014.4 2035.3h-3M1014.4 2032.2h-3M1014.4 2029.1h-3M1014.4 2026h-3M1014.4 2022.9h-3M1014.4 2019.8h-3M1014.4 2016.7h-3M1014.4 2013.6h-3M1014.4 2010.5h-3M1014.4 2007.4h-3M1014.4 2004.3h-3M1014.4 2001.2h-3M1014.4 1998.1h-3M1014.4 1995h-3M1014.4 1991.9h-3M1014.4 1988.8h-3M1014.4 1985.7h-3M1014.4 1982.6h-3M1014.4 1979.5h-3M1014.4 1976.4h-3M1014.4 1973.3h-3M1014.4 1970.2h-3M1014.4 1967.1h-3M1014.4 1964h-3M1014.4 1960.9h-3M1014.4 1957.8h-3M1014.4 1954.7h-3M1014.4 1951.6h-3M1014.4 1948.5h-3M1014.4 1945.4h-3M1014.4 1942.3h-3M1017.4 2097.2v3M1020.5 2097.2v3M1023.6 2097.2v3M1026.7 2097.2v3M1029.8 2097.2v3M1032.9 2097.2v3M1036 2097.2v3M1039.1 2097.2v3M1042.2 2097.2v3M1045.3 2097.2v3M1048.4 2097.2v3M1051.5 2097.2v3M1054.6 2097.2v3M1057.7 2097.2v3M1060.8 2097.2v3M1063.9 2097.2v3M1067 2097.2v3M1070.1 2097.2v3M1073.2 2097.2v3M1076.3 2097.2v3M1079.4 2097.2v3M1082.5 2097.2v3M1085.6 2097.2v3M1088.7 2097.2v3M1091.8 2097.2v3M1094.9 2097.2v3M1098 2097.2v3M1101.1 2097.2v3M1104.2 2097.2v3M1107.3 2097.2v3M1110.4 2097.2v3M1113.5 2097.2v3M1116.6 2097.2v3M1119.7 2097.2v3M1122.8 2097.2v3M1125.9 2097.2v3M1129 2097.2v3M1132.1 2097.2v3M1135.2 2097.2v3M1138.3 2097.2v3M1141.4 2097.2v3M1144.5 2097.2v3M1147.6 2097.2v3M1150.7 2097.2v3M1153.8 2097.2v3M1156.9 2097.2v3M1160 2097.2v3M1163.1 2097.2v3M1166.2 2097.2v3M1169.3 2097.2v3" stroke="#777" stroke-width="0.9"/>
<text x="1025.4" y="2112.2" font-size="10.5" text-anchor="middle" fill="#383838">0</text>
<text x="1045.4" y="2112.2" font-size="10.5" text-anchor="middle" fill="#383838">10<tspan font-size="6.5" dy="-4">1</tspan></text>
<text x="1065.3" y="2112.2" font-size="10.5" text-anchor="middle" fill="#383838">10<tspan font-size="6.5" dy="-4">2</tspan></text>
<text x="1085.3" y="2112.2" font-size="10.5" text-anchor="middle" fill="#383838">10<tspan font-size="6.5" dy="-4">3</tspan></text>
<text x="1105.3" y="2112.2" font-size="10.5" text-anchor="middle" fill="#383838">10<tspan font-size="6.5" dy="-4">4</tspan></text>
<text x="1125.3" y="2112.2" font-size="10.5" text-anchor="middle" fill="#383838">10<tspan font-size="6.5" dy="-4">5</tspan></text>
<text x="1145.2" y="2112.2" font-size="10.5" text-anchor="middle" fill="#383838">10<tspan font-size="6.5" dy="-4">6</tspan></text>
<text x="1165.2" y="2112.2" font-size="10.5" text-anchor="middle" fill="#383838">10<tspan font-size="6.5" dy="-4">7</tspan></text>
<text x="1007.4" y="2087.2" font-size="10" text-anchor="middle" fill="#383838" transform="rotate(-90 1007.4 2087.2)">0</text>
<text x="1007.4" y="2063.9" font-size="10" text-anchor="middle" fill="#383838" transform="rotate(-90 1007.4 2063.9)">10<tspan font-size="6.2" dy="-3.8">2</tspan></text>
<text x="1007.4" y="2040.6" font-size="10" text-anchor="middle" fill="#383838" transform="rotate(-90 1007.4 2040.6)">10<tspan font-size="6.2" dy="-3.8">3</tspan></text>
<text x="1007.4" y="2017.3" font-size="10" text-anchor="middle" fill="#383838" transform="rotate(-90 1007.4 2017.3)">10<tspan font-size="6.2" dy="-3.8">4</tspan></text>
<text x="1007.4" y="1994" font-size="10" text-anchor="middle" fill="#383838" transform="rotate(-90 1007.4 1994)">10<tspan font-size="6.2" dy="-3.8">5</tspan></text>
<text x="1007.4" y="1970.7" font-size="10" text-anchor="middle" fill="#383838" transform="rotate(-90 1007.4 1970.7)">10<tspan font-size="6.2" dy="-3.8">6</tspan></text>
<text x="1007.4" y="1947.4" font-size="10" text-anchor="middle" fill="#383838" transform="rotate(-90 1007.4 1947.4)">10<tspan font-size="6.2" dy="-3.8">7</tspan></text>
<text x="1019.4" y="1957.4" font-size="22.5">0.19%</text>
<text x="1170.2" y="1957.9" font-size="22.5" text-anchor="end">23.34%</text>
<text x="1017.4" y="2094.7" font-size="22.5">54.77%</text>
<text x="1171.7" y="2094.7" font-size="22.5" text-anchor="end">21.70%</text>
<text x="164" y="36.4" font-size="28" textLength="82" lengthAdjust="spacingAndGlyphs">H1299</text>
<text x="273" y="36.4" font-size="28" textLength="105" lengthAdjust="spacingAndGlyphs">HCC827</text>
<text x="416" y="36.4" font-size="28" textLength="65" lengthAdjust="spacingAndGlyphs">H226</text>
<line x1="158.4" y1="42.5" x2="243.2" y2="42.5" stroke="#000" stroke-width="1.6"/>
<line x1="275" y1="42.5" x2="363.6" y2="42.5" stroke="#000" stroke-width="1.6"/>
<line x1="396" y1="42.5" x2="481" y2="42.5" stroke="#000" stroke-width="1.6"/>
<text x="98.6" y="124.9" font-size="28" transform="rotate(-36 98.6 124.9)" textLength="80" lengthAdjust="spacingAndGlyphs">Vector</text>
<text x="152" y="123.6" font-size="28" transform="rotate(-36 152 123.6)" textLength="111" lengthAdjust="spacingAndGlyphs">CRTAC1</text>
<text x="213.4" y="123.6" font-size="28" transform="rotate(-36 213.4 123.6)" textLength="80" lengthAdjust="spacingAndGlyphs">Vector</text>
<text x="278" y="121.6" font-size="28" transform="rotate(-36 278 121.6)" textLength="111" lengthAdjust="spacingAndGlyphs">CRTAC1</text>
<text x="336" y="118" font-size="28" transform="rotate(-36 336 118)" textLength="80" lengthAdjust="spacingAndGlyphs">Vector</text>
<text x="393" y="123.6" font-size="28" transform="rotate(-36 393 123.6)" textLength="111" lengthAdjust="spacingAndGlyphs">CRTAC1</text>
<g clip-path="url(#cA1)">
<rect x="80.7" y="121.7" width="108.5" height="49.7" fill="#bababa"/>
<rect x="80.7" y="121.7" width="108.5" height="49.7" fill="#808080" filter="url(#noise)" opacity="0.25"/>
<rect x="147" y="135.5" width="35" height="7" rx="7" ry="3.5" fill="#000" opacity="1" filter="url(#bb)"/>
<rect x="147" y="151.2" width="35" height="8.5" rx="8.5" ry="4.2" fill="#000" opacity="1" filter="url(#bb)"/>
<rect x="151" y="161" width="28" height="8" rx="7.5" ry="4" fill="#555" opacity="0.4" filter="url(#bb3)"/>
<rect x="91" y="152" width="33" height="8" rx="8" ry="4" fill="#999" opacity="0.5" filter="url(#bb3)"/>
</g>
<rect x="80.7" y="121.7" width="108.5" height="49.7" fill="none" stroke="#000" stroke-width="1.8"/>
<g clip-path="url(#cA2)">
<rect x="191.8" y="121.7" width="108.5" height="49.7" fill="#8f8f8f"/>
<rect x="191.8" y="121.7" width="108.5" height="49.7" fill="#808080" filter="url(#noise)" opacity="0.25"/>
<rect x="199" y="154" width="39" height="8" rx="8" ry="4" fill="#000" opacity="1" filter="url(#bb)"/>
<rect x="250" y="135.8" width="41" height="6.5" rx="6.5" ry="3.2" fill="#000" opacity="1" filter="url(#bb)"/>
<rect x="250" y="152.5" width="41" height="7" rx="7" ry="3.5" fill="#000" opacity="1" filter="url(#bb)"/>
</g>
<rect x="191.8" y="121.7" width="108.5" height="49.7" fill="none" stroke="#000" stroke-width="1.8"/>
<g clip-path="url(#cA3)">
<rect x="304.2" y="121.7" width="109.7" height="49.7" fill="#a3a3a3"/>
<rect x="304.2" y="121.7" width="109.7" height="49.7" fill="#808080" filter="url(#noise)" opacity="0.25"/>
<rect x="363" y="128" width="41" height="14" rx="10.8" ry="7" fill="#000" opacity="1" filter="url(#bb)"/>
<rect x="315" y="154.5" width="36" height="5" rx="5" ry="2.5" fill="#333" opacity="0.8" filter="url(#bb)"/>
<rect x="362" y="154" width="29" height="6" rx="6" ry="3" fill="#111" opacity="1" filter="url(#bb)"/>
<rect x="356" y="160" width="38" height="12" rx="10" ry="6" fill="#444" opacity="0.6" filter="url(#bb3)"/>
<rect x="321" y="122.5" width="23" height="3" rx="3" ry="1.5" fill="#222" opacity="0.7" filter="url(#bb)"/>
</g>
<rect x="304.2" y="121.7" width="109.7" height="49.7" fill="none" stroke="#000" stroke-width="1.8"/>
<g clip-path="url(#cA4)">
<rect x="80.7" y="174.7" width="108.5" height="37.6" fill="#a9a9a9"/>
<rect x="80.7" y="174.7" width="108.5" height="37.6" fill="#808080" filter="url(#noise)" opacity="0.25"/>
<rect x="90.5" y="191.2" width="40.5" height="9" rx="9" ry="4.5" fill="#000" opacity="1" filter="url(#bb)"/>
<rect x="144" y="191" width="36" height="8" rx="8" ry="4" fill="#000" opacity="1" filter="url(#bb)"/>
</g>
<rect x="80.7" y="174.7" width="108.5" height="37.6" fill="none" stroke="#000" stroke-width="1.8"/>
<g clip-path="url(#cA5)">
<rect x="191.8" y="174.7" width="108.5" height="37.6" fill="#8b8b8b"/>
<rect x="191.8" y="174.7" width="108.5" height="37.6" fill="#808080" filter="url(#noise)" opacity="0.25"/>
<rect x="200.5" y="189" width="39.9" height="17" rx="10.5" ry="8.5" fill="#000" opacity="1" filter="url(#bb)"/>
<rect x="247" y="190" width="43" height="12" rx="11.2" ry="6" fill="#000" opacity="1" filter="url(#bb)"/>
</g>
<rect x="191.8" y="174.7" width="108.5" height="37.6" fill="none" stroke="#000" stroke-width="1.8"/>
<g clip-path="url(#cA6)">
<rect x="304.2" y="174.7" width="109.7" height="37.6" fill="#9b9b9b"/>
<rect x="304.2" y="174.7" width="109.7" height="37.6" fill="#808080" filter="url(#noise)" opacity="0.25"/>
<rect x="313.6" y="191.4" width="45.4" height="8.5" rx="8.5" ry="4.2" fill="#000" opacity="1" filter="url(#bb)"/>
<rect x="364" y="188.5" width="43" height="11" rx="11" ry="5.5" fill="#000" opacity="1" filter="url(#bb)"/>
</g>
<rect x="304.2" y="174.7" width="109.7" height="37.6" fill="none" stroke="#000" stroke-width="1.8"/>
<text x="75" y="172.5" font-size="24" text-anchor="end" textLength="38" lengthAdjust="spacingAndGlyphs">100</text>
<line x1="75" y1="168" x2="81" y2="168" stroke="#000" stroke-width="1.5"/>
<text x="72" y="210.5" font-size="24" text-anchor="end" textLength="25" lengthAdjust="spacingAndGlyphs">40</text>
<line x1="73" y1="206" x2="81" y2="206" stroke="#000" stroke-width="1.5"/>
<line x1="416.6" y1="136.4" x2="444.8" y2="136.4" stroke="#000" stroke-width="1.4"/>
<path d="M426.6 129.4L416.6 136.4L426.6 143.4" stroke="#000" stroke-width="1.4" fill="none"/>
<line x1="416.6" y1="158.3" x2="444.8" y2="158.3" stroke="#000" stroke-width="1.4"/>
<path d="M426.6 151.3L416.6 158.3L426.6 165.3" stroke="#000" stroke-width="1.4" fill="none"/>
<line x1="416.6" y1="191.8" x2="444.8" y2="191.8" stroke="#000" stroke-width="1.4"/>
<path d="M426.6 184.8L416.6 191.8L426.6 198.8" stroke="#000" stroke-width="1.4" fill="none"/>
<text x="449.4" y="144" font-size="27" textLength="171" lengthAdjust="spacingAndGlyphs">GFP-CRTAC1</text>
<text x="449.4" y="167" font-size="27" textLength="106" lengthAdjust="spacingAndGlyphs">CRTAC1</text>
<text x="450.6" y="195.3" font-size="27" textLength="84" lengthAdjust="spacingAndGlyphs">β-Actin</text>
<text x="1348" y="750" font-size="28" textLength="67" lengthAdjust="spacingAndGlyphs">A549</text>
<text x="1642" y="752" font-size="28" textLength="82" lengthAdjust="spacingAndGlyphs">H1975</text>
<line x1="1217" y1="766" x2="1495" y2="766" stroke="#000" stroke-width="1.6"/>
<line x1="1531" y1="764" x2="1807" y2="764" stroke="#000" stroke-width="1.6"/>
<text x="1146" y="881" font-size="27" transform="rotate(-36 1146 881)">Nonsense</text>
<text x="1223" y="877" font-size="27" transform="rotate(-36 1223 877)">Si CRTAC1-1</text>
<text x="1296" y="879" font-size="27" transform="rotate(-36 1296 879)">Si CRTAC1-2</text>
<text x="1371" y="881" font-size="27" transform="rotate(-36 1371 881)">Si CRTAC1-3</text>
<text x="1456" y="879" font-size="27" transform="rotate(-36 1456 879)">Nonsense</text>
<text x="1523" y="880" font-size="27" transform="rotate(-36 1523 880)">Si CRTAC1-1</text>
<text x="1600" y="881" font-size="27" transform="rotate(-36 1600 881)">Si CRTAC1-2</text>
<text x="1679" y="879" font-size="27" transform="rotate(-36 1679 879)">Si CRTAC1-3</text>
<g clip-path="url(#cK1)">
<rect x="1113" y="886.8" width="299" height="47.7" fill="#ababab"/>
<rect x="1113" y="886.8" width="299" height="47.7" fill="#808080" filter="url(#noise)" opacity="0.25"/>
<rect x="1128" y="908.1" width="54.5" height="8.5" rx="8.5" ry="4.2" fill="#000" opacity="1" filter="url(#bb)"/>
<rect x="1198" y="908.9" width="56" height="7" rx="7" ry="3.5" fill="#000" opacity="1" filter="url(#bb)"/>
<rect x="1270" y="908" width="54" height="5.5" rx="5.5" ry="2.8" fill="#555" opacity="0.8" filter="url(#bb2)"/>
<rect x="1336" y="908.5" width="53" height="5" rx="5" ry="2.5" fill="#777" opacity="0.5" filter="url(#bb3)"/>
</g>
<rect x="1113" y="886.8" width="299" height="47.7" fill="none" stroke="#000" stroke-width="1.8"/>
<g clip-path="url(#cK2)">
<rect x="1418" y="886.8" width="299" height="47.7" fill="#c6c6c6"/>
<rect x="1553" y="887" width="18" height="48" fill="#f2f2f2" filter="url(#bb3)"/><rect x="1700" y="887" width="20" height="48" fill="#f4f4f4" filter="url(#bb3)"/><rect x="1420" y="887" width="140" height="10" fill="#b0b0b0" filter="url(#bb3)"/>
<rect x="1418" y="886.8" width="299" height="47.7" fill="#808080" filter="url(#noise)" opacity="0.25"/>
<rect x="1428" y="905.2" width="55" height="13" rx="13" ry="6.5" fill="#000" opacity="1" filter="url(#bb2)"/>
<rect x="1441" y="924" width="20" height="10" rx="5.5" ry="5" fill="#111" opacity="1" filter="url(#bb2)"/>
<rect x="1496" y="907" width="55" height="10" rx="10" ry="5" fill="#111" opacity="1" filter="url(#bb2)"/>
<rect x="1498" y="904" width="19" height="16" rx="5.2" ry="8" fill="#000" opacity="1" filter="url(#bb2)"/>
<rect x="1501" y="919" width="43" height="10" rx="10" ry="5" fill="#333" opacity="0.7" filter="url(#bb3)"/>
<rect x="1426" y="905" width="133" height="26" rx="26" ry="13" fill="#222" opacity="0.3" filter="url(#bb3)"/>
<rect x="1568" y="909" width="56" height="6" rx="6" ry="3" fill="#666" opacity="0.7" filter="url(#bb2)"/>
<rect x="1601" y="907" width="22" height="8" rx="6" ry="4" fill="#111" opacity="0.8" filter="url(#bb2)"/>
<rect x="1639" y="906.5" width="64" height="9" rx="9" ry="4.5" fill="#333" opacity="0.8" filter="url(#bb2)"/>
<rect x="1641" y="904.5" width="13" height="9" rx="3.8" ry="4.5" fill="#000" opacity="0.8" filter="url(#bb2)"/>
<rect x="1681" y="909" width="18" height="8" rx="5" ry="4" fill="#111" opacity="0.7" filter="url(#bb2)"/>
</g>
<rect x="1418" y="886.8" width="299" height="47.7" fill="none" stroke="#000" stroke-width="1.8"/>
<g clip-path="url(#cK3)">
<rect x="1113" y="939.7" width="299" height="47.7" fill="#b7b7b7"/>
<rect x="1113" y="939.7" width="299" height="47.7" fill="#808080" filter="url(#noise)" opacity="0.25"/>
<rect x="1123" y="955.5" width="61" height="17" rx="15.8" ry="8.5" fill="#000" opacity="1" filter="url(#bb)"/>
<rect x="1188" y="956.5" width="64.4" height="16" rx="16" ry="8" fill="#000" opacity="1" filter="url(#bb)"/>
<rect x="1259.5" y="956.5" width="62.8" height="16" rx="16" ry="8" fill="#000" opacity="1" filter="url(#bb)"/>
<rect x="1328.8" y="957.5" width="68.5" height="16" rx="16" ry="8" fill="#000" opacity="1" filter="url(#bb)"/>
</g>
<rect x="1113" y="939.7" width="299" height="47.7" fill="none" stroke="#000" stroke-width="1.8"/>
<g clip-path="url(#cK4)">
<rect x="1418" y="939.7" width="299" height="47.7" fill="#c0c0c0"/>
<rect x="1418" y="939.7" width="299" height="47.7" fill="#808080" filter="url(#noise)" opacity="0.25"/>
<rect x="1431.7" y="956.5" width="59.3" height="14" rx="14" ry="7" fill="#000" opacity="1" filter="url(#bb)"/>
<rect x="1501.6" y="958" width="56" height="13" rx="13" ry="6.5" fill="#000" opacity="1" filter="url(#bb)"/>
<rect x="1568" y="958" width="51" height="13" rx="13" ry="6.5" fill="#000" opacity="1" filter="url(#bb)"/>
<rect x="1633" y="957.5" width="66" height="11" rx="11" ry="5.5" fill="#000" opacity="1" filter="url(#bb)"/>
<rect x="1671" y="954" width="28" height="12" rx="7.5" ry="6" fill="#000" opacity="1" filter="url(#bb)"/>
</g>
<rect x="1418" y="939.7" width="299" height="47.7" fill="none" stroke="#000" stroke-width="1.8"/>
<text x="1109" y="926" font-size="24" text-anchor="end" textLength="38" lengthAdjust="spacingAndGlyphs">100</text>
<line x1="1108" y1="921" x2="1113" y2="921" stroke="#000" stroke-width="1.5"/>
<text x="1109" y="980" font-size="24" text-anchor="end" textLength="25" lengthAdjust="spacingAndGlyphs">40</text>
<line x1="1108" y1="975" x2="1113" y2="975" stroke="#000" stroke-width="1.5"/>
<line x1="1719" y1="911" x2="1757" y2="911" stroke="#000" stroke-width="1.4"/>
<path d="M1729 904L1719 911L1729 918" stroke="#000" stroke-width="1.4" fill="none"/>
<line x1="1719" y1="964" x2="1757" y2="964" stroke="#000" stroke-width="1.4"/>
<path d="M1729 957L1719 964L1729 971" stroke="#000" stroke-width="1.4" fill="none"/>
<text x="1761" y="917" font-size="27" textLength="108" lengthAdjust="spacingAndGlyphs">CRTAC1</text>
<text x="1762" y="969" font-size="27" textLength="85" lengthAdjust="spacingAndGlyphs">β-Actin</text>
</svg></body></html>
